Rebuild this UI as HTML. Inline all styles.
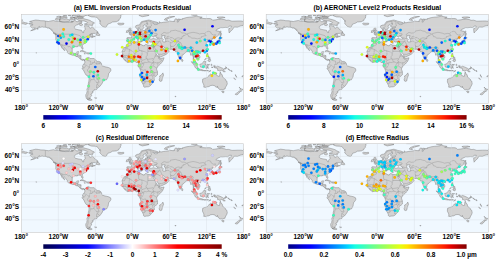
<!DOCTYPE html>
<html><head><meta charset="utf-8"><style>
html,body{margin:0;padding:0;background:#fff;width:500px;height:263px;overflow:hidden}
svg{position:absolute;left:0;top:0;display:block}
text{font-family:"Liberation Sans", sans-serif;fill:#000000}
.tk{font-size:6.5px;font-weight:bold}
circle{stroke:#000;stroke-opacity:.18;stroke-width:.3px}
</style></head><body>
<svg width="500" height="263" viewBox="0 0 500 263"><defs><linearGradient id="g_jet" x1="0" x2="1" y1="0" y2="0"><stop offset="0.000" stop-color="rgb(0,0,128)"/><stop offset="0.042" stop-color="rgb(0,0,173)"/><stop offset="0.083" stop-color="rgb(0,0,223)"/><stop offset="0.125" stop-color="rgb(0,0,255)"/><stop offset="0.167" stop-color="rgb(0,40,255)"/><stop offset="0.208" stop-color="rgb(0,84,255)"/><stop offset="0.250" stop-color="rgb(0,128,255)"/><stop offset="0.292" stop-color="rgb(0,168,255)"/><stop offset="0.333" stop-color="rgb(0,212,255)"/><stop offset="0.375" stop-color="rgb(22,255,225)"/><stop offset="0.417" stop-color="rgb(54,255,193)"/><stop offset="0.458" stop-color="rgb(90,255,157)"/><stop offset="0.500" stop-color="rgb(125,255,122)"/><stop offset="0.542" stop-color="rgb(157,255,90)"/><stop offset="0.583" stop-color="rgb(193,255,54)"/><stop offset="0.625" stop-color="rgb(228,255,19)"/><stop offset="0.667" stop-color="rgb(255,230,0)"/><stop offset="0.708" stop-color="rgb(255,189,0)"/><stop offset="0.750" stop-color="rgb(255,148,0)"/><stop offset="0.792" stop-color="rgb(255,111,0)"/><stop offset="0.833" stop-color="rgb(255,71,0)"/><stop offset="0.875" stop-color="rgb(255,30,0)"/><stop offset="0.917" stop-color="rgb(223,0,0)"/><stop offset="0.958" stop-color="rgb(173,0,0)"/><stop offset="1.000" stop-color="rgb(128,0,0)"/></linearGradient><linearGradient id="g_seismic" x1="0" x2="1" y1="0" y2="0"><stop offset="0.000" stop-color="rgb(0,0,76)"/><stop offset="0.042" stop-color="rgb(0,0,104)"/><stop offset="0.083" stop-color="rgb(0,0,135)"/><stop offset="0.125" stop-color="rgb(0,0,166)"/><stop offset="0.167" stop-color="rgb(0,0,194)"/><stop offset="0.208" stop-color="rgb(0,0,225)"/><stop offset="0.250" stop-color="rgb(1,1,255)"/><stop offset="0.292" stop-color="rgb(41,41,255)"/><stop offset="0.333" stop-color="rgb(85,85,255)"/><stop offset="0.375" stop-color="rgb(129,129,255)"/><stop offset="0.417" stop-color="rgb(169,169,255)"/><stop offset="0.458" stop-color="rgb(213,213,255)"/><stop offset="0.500" stop-color="rgb(255,253,253)"/><stop offset="0.542" stop-color="rgb(255,213,213)"/><stop offset="0.583" stop-color="rgb(255,169,169)"/><stop offset="0.625" stop-color="rgb(255,125,125)"/><stop offset="0.667" stop-color="rgb(255,85,85)"/><stop offset="0.708" stop-color="rgb(255,41,41)"/><stop offset="0.750" stop-color="rgb(254,0,0)"/><stop offset="0.792" stop-color="rgb(234,0,0)"/><stop offset="0.833" stop-color="rgb(211,0,0)"/><stop offset="0.875" stop-color="rgb(190,0,0)"/><stop offset="0.917" stop-color="rgb(170,0,0)"/><stop offset="0.958" stop-color="rgb(147,0,0)"/><stop offset="1.000" stop-color="rgb(128,0,0)"/></linearGradient><clipPath id="clip_a"><rect x="21.3" y="14.5" width="222.3" height="88.8"/></clipPath><clipPath id="clip_b"><rect x="266.2" y="14.5" width="222.3" height="88.8"/></clipPath><clipPath id="clip_c"><rect x="21.3" y="143.7" width="222.3" height="88.8"/></clipPath><clipPath id="clip_d"><rect x="266.2" y="143.7" width="222.3" height="88.8"/></clipPath></defs><g clip-path="url(#clip_a)"><rect x="21.3" y="14.5" width="222.3" height="88.8" fill="#f0f8ff"/><path d="M28.6 23.6 31.2 23.1 32.4 22.8 31.5 22.1 29.5 21.9 29.8 21.5 32.5 20.7 35.8 20.0 38.6 20.3 40.8 20.7 44.1 20.8 45.4 21.1 48.5 21.5 49.7 21.2 53.4 20.5 55.9 21.2 60.2 21.5 63.3 22.2 65.8 22.4 69.5 22.2 71.9 22.1 73.8 21.2 74.1 19.6 75.6 20.8 76.9 21.8 79.3 21.2 81.8 21.2 81.8 22.7 79.3 23.1 79.0 23.1 78.1 24.6 76.4 25.1 74.4 26.6 74.3 27.9 75.6 29.1 78.1 29.7 81.6 30.3 82.7 32.6 83.7 32.6 83.7 31.0 85.2 29.4 84.9 27.2 84.3 25.7 86.8 25.7 89.2 26.6 89.5 27.8 90.8 28.1 92.3 27.0 92.6 27.0 94.2 28.8 95.1 30.0 96.9 31.0 98.1 32.1 97.3 32.6 95.4 33.4 92.9 33.4 91.1 33.8 89.5 34.8 91.4 34.0 92.6 34.2 92.3 35.1 92.6 35.9 94.5 36.3 95.4 36.1 95.4 36.3 93.2 37.0 91.8 37.7 91.7 37.0 92.6 36.5 91.1 36.7 89.2 37.5 88.7 38.1 89.2 38.7 88.3 39.0 86.8 39.5 86.8 40.2 86.1 40.6 86.0 41.1 85.5 41.8 85.8 42.9 84.3 43.7 83.4 44.3 82.4 44.9 82.2 45.9 82.7 47.2 83.1 48.3 82.8 49.3 82.0 48.8 81.4 47.8 81.3 46.8 80.6 46.2 79.3 46.0 77.5 46.0 77.4 46.8 76.3 46.7 74.4 46.5 72.6 47.6 72.2 48.8 72.2 50.0 72.3 51.6 73.1 53.1 74.1 53.7 75.9 53.5 76.6 52.7 76.7 51.9 78.7 51.6 78.4 52.9 77.9 54.1 77.8 55.2 79.3 55.2 81.1 55.7 80.9 57.6 80.8 58.3 81.5 59.2 83.1 59.3 84.6 59.8 84.3 60.7 84.1 60.0 83.4 59.6 82.7 60.6 81.8 60.0 80.1 59.1 79.5 58.3 78.4 57.0 77.5 56.7 75.9 56.4 75.5 56.0 74.4 55.1 72.9 55.3 71.6 54.9 70.1 54.3 68.5 53.6 67.3 52.6 67.4 51.5 66.7 50.5 65.8 49.4 64.8 48.4 64.2 47.5 63.2 46.5 61.7 45.2 61.7 46.2 62.8 47.5 63.9 48.8 64.5 50.0 64.9 50.6 64.3 50.4 63.3 49.5 62.1 48.2 61.4 47.6 61.7 47.2 60.8 45.9 60.1 44.6 59.3 43.7 58.0 43.3 57.2 42.0 56.8 41.3 56.0 40.0 55.7 39.6 55.8 38.6 55.9 35.9 55.4 34.5 56.5 34.7 56.8 34.3 56.2 33.8 55.3 33.3 53.7 32.9 53.1 31.9 52.2 30.7 51.6 30.4 50.0 28.8 48.8 28.1 47.5 27.9 46.1 27.3 44.8 27.2 43.5 27.2 42.0 26.7 41.1 27.2 39.5 27.6 38.7 27.7 39.5 26.4 38.0 27.5 37.4 28.1 35.8 29.1 34.3 29.8 32.1 30.4 30.7 30.7 32.1 30.0 33.7 29.3 35.2 28.3 35.5 27.9 34.3 27.9 32.4 28.1 31.2 27.2 30.3 26.2 30.6 25.5 33.0 25.0 32.7 24.4 30.6 24.3 29.6 24.1ZM84.6 59.8 85.5 59.3 85.8 58.6 86.4 58.3 87.5 57.9 88.2 57.4 88.3 58.1 89.1 57.9 89.2 57.6 90.2 58.6 91.1 58.5 92.9 58.5 94.2 58.5 94.8 59.2 95.4 59.9 96.6 60.8 97.3 61.4 98.5 61.4 99.7 61.7 100.3 62.1 101.0 62.7 101.6 64.1 101.6 65.2 102.5 65.9 105.0 66.8 106.6 67.1 108.4 67.5 108.7 67.6 110.2 68.4 110.7 68.7 110.9 70.3 110.4 71.4 108.7 73.5 108.4 75.1 108.2 76.5 107.4 78.2 106.5 79.8 105.8 79.8 104.4 80.3 103.9 80.5 102.5 81.7 102.5 82.7 101.8 83.8 101.0 84.9 100.0 86.2 99.5 86.7 98.5 87.4 97.7 87.4 96.7 87.0 96.4 87.2 97.1 88.1 97.4 88.4 96.9 89.3 94.0 89.9 94.0 90.9 92.3 91.2 93.1 92.3 92.3 92.5 92.0 93.8 90.8 94.4 91.8 95.6 90.6 96.6 89.8 98.0 90.2 98.5 88.9 98.9 88.0 99.2 86.4 98.5 85.8 96.3 85.8 94.7 86.8 93.2 86.8 92.5 87.1 91.6 86.9 89.3 87.2 88.7 87.9 87.4 88.2 86.2 88.3 84.3 88.4 83.0 88.9 81.1 89.0 79.8 89.1 77.9 89.0 76.9 88.3 76.2 86.1 75.1 85.3 73.8 84.8 72.9 83.9 71.0 83.2 69.7 82.2 69.0 82.2 68.2 82.9 67.4 83.1 66.8 82.5 66.6 82.7 65.6 83.1 64.7 83.8 64.3 84.6 63.0 84.8 62.7 84.7 61.1 84.3 60.7ZM90.1 98.6 90.8 99.2 92.2 99.9 91.4 100.2 90.2 100.4 88.6 100.1 87.1 99.1 88.6 99.4 89.2 98.9ZM152.4 45.4 151.6 45.2 150.9 45.5 149.1 45.3 148.0 45.2 147.3 44.9 146.7 44.6 145.4 44.4 144.8 44.9 144.2 46.0 143.3 45.6 142.0 45.3 141.8 44.7 140.6 44.4 139.6 44.2 139.1 43.9 138.7 43.7 139.1 43.2 139.3 42.9 139.3 41.7 138.7 41.9 138.6 41.6 137.8 41.8 137.3 41.8 135.5 42.0 134.3 41.9 133.1 42.1 132.1 42.6 131.2 43.0 130.6 42.9 129.2 42.5 128.8 42.5 128.3 43.7 127.8 43.9 126.8 44.6 126.4 45.3 126.5 46.0 126.2 46.7 125.0 47.5 124.5 47.5 123.5 48.7 122.6 50.2 122.0 51.8 122.4 52.9 122.6 53.8 122.3 55.0 121.6 55.9 122.1 56.7 122.1 56.9 122.4 57.6 123.2 58.3 123.8 58.9 124.0 59.2 124.3 59.9 125.0 60.6 125.3 60.9 126.6 61.8 127.8 62.5 129.4 61.9 130.0 61.9 131.2 62.2 132.5 61.7 133.2 61.4 134.5 61.2 135.5 61.8 136.2 62.5 136.8 62.5 137.7 62.3 138.3 62.8 138.5 63.7 138.3 64.6 137.8 65.6 138.3 66.8 139.2 67.5 139.7 68.3 140.0 69.0 140.5 70.3 140.6 70.8 141.0 72.2 140.7 73.2 140.0 74.8 139.7 76.2 140.0 77.0 140.8 78.4 141.4 79.8 141.8 82.1 142.0 82.7 142.6 83.4 143.3 84.9 143.7 85.9 143.5 86.2 143.8 86.8 144.8 87.3 146.0 86.9 148.3 86.8 149.7 86.2 151.0 85.1 151.6 84.2 152.5 83.3 152.6 81.7 153.1 81.4 154.4 80.5 154.3 78.9 154.0 77.8 155.2 76.6 156.5 75.7 157.5 74.8 157.5 73.2 157.5 71.9 157.0 70.3 156.7 69.6 156.7 68.4 157.0 67.8 157.3 67.0 158.1 66.3 158.7 65.5 160.4 64.0 161.5 62.7 162.4 61.8 163.2 60.2 163.8 58.6 164.1 57.8 162.7 58.1 160.2 58.6 159.1 57.9 159.2 57.3 158.4 56.4 156.8 55.3 156.2 53.8 155.4 52.8 155.2 51.3 154.4 50.1 153.4 48.4 152.8 47.2 152.6 46.3 153.6 47.6 154.0 46.5 153.6 45.4ZM162.9 72.9 163.6 75.1 163.2 76.0 162.4 78.2 161.8 81.0 160.4 81.4 159.6 81.0 159.2 79.2 159.9 77.9 159.6 76.0 160.9 75.3 162.1 74.1ZM154.0 46.5 154.4 47.8 155.3 49.4 155.9 50.0 156.7 51.6 157.6 53.2 158.7 54.8 159.0 56.0 159.3 57.2 160.2 57.1 162.1 56.4 162.7 56.0 164.6 55.2 165.8 54.5 166.7 54.0 167.5 53.3 168.1 52.7 169.4 51.0 168.6 50.3 167.6 50.0 167.3 48.5 167.0 49.1 166.6 49.2 165.2 49.9 164.3 49.8 164.3 48.8 164.1 48.7 163.8 49.5 163.4 48.6 163.0 48.1 162.1 46.7 162.6 46.2 163.5 46.7 163.8 46.9 164.9 47.9 166.3 48.4 167.2 48.0 167.8 48.8 168.9 49.1 169.9 49.2 170.9 49.3 172.3 49.3 173.8 49.5 174.1 50.0 174.7 50.3 175.1 51.0 175.7 51.9 176.3 52.1 177.3 51.3 177.4 51.9 177.4 53.2 178.0 55.4 178.6 57.1 179.5 58.9 180.3 60.1 180.7 59.7 181.4 58.7 182.0 57.0 182.0 55.4 183.3 54.7 183.9 54.0 184.9 52.9 185.9 52.4 186.2 51.6 187.1 51.5 188.0 51.3 189.1 51.0 189.4 52.1 189.8 52.5 190.7 53.8 190.6 55.1 191.4 55.2 191.9 54.7 192.7 54.8 193.0 56.4 193.3 57.6 193.3 58.9 193.2 59.9 193.2 60.2 193.9 61.1 194.4 61.8 194.8 63.0 195.4 63.7 196.4 64.4 196.9 64.4 196.4 62.7 196.3 62.1 195.4 61.3 194.6 60.7 194.1 59.3 193.7 58.6 194.1 57.3 194.5 56.7 194.8 57.2 195.7 57.5 196.1 58.3 197.0 58.6 197.3 59.8 198.2 59.2 198.8 58.6 199.8 57.9 199.9 57.0 199.9 56.5 199.3 55.0 198.5 54.5 197.9 53.4 197.7 53.2 198.3 52.0 199.1 51.6 199.8 51.6 200.6 52.4 201.0 51.7 202.2 51.3 203.0 51.1 204.4 50.7 205.3 49.7 206.2 48.9 206.9 48.1 207.5 47.2 207.8 46.2 207.7 45.6 207.2 44.9 206.9 44.0 206.1 43.2 206.6 42.5 208.1 41.6 207.2 41.3 205.9 41.6 205.3 40.8 205.1 40.5 206.2 39.9 207.2 39.4 208.0 39.6 207.4 40.6 208.7 40.0 209.2 39.9 209.6 40.2 209.8 41.3 210.6 41.4 210.4 42.4 210.6 43.4 211.2 43.3 212.1 43.0 212.4 42.4 212.4 41.5 211.8 40.8 211.2 40.3 211.8 39.9 212.5 39.2 212.7 38.4 214.0 37.8 214.6 38.1 216.1 37.3 217.7 35.7 219.2 34.5 219.2 33.5 219.8 32.1 219.2 31.3 217.4 31.0 215.8 30.5 217.0 29.4 218.9 28.5 220.8 27.6 222.6 27.7 225.6 27.4 227.5 27.6 228.2 27.2 229.4 26.2 231.3 26.0 231.6 26.9 230.0 28.5 228.8 28.6 228.8 30.4 229.2 33.0 230.3 31.6 231.3 30.7 232.5 29.6 233.2 28.5 233.7 27.3 235.0 27.0 237.4 27.2 238.7 26.6 240.2 26.0 242.1 25.6 243.0 25.7 243.6 24.0 243.6 21.5 241.1 21.0 237.6 21.0 235.0 21.1 231.9 21.2 228.8 20.2 226.3 20.3 224.5 19.6 221.4 19.2 218.9 19.3 215.8 19.8 212.7 20.2 211.8 19.3 210.3 18.6 209.0 18.5 205.3 18.6 202.2 18.4 201.0 18.3 199.8 18.1 202.2 17.2 197.3 16.4 196.9 16.0 194.2 16.7 191.7 17.0 189.3 17.2 186.8 17.5 185.6 17.8 183.1 18.6 182.3 18.6 182.5 19.3 180.6 19.4 179.4 20.1 180.3 19.4 179.1 19.1 177.8 19.0 178.5 21.8 177.2 22.1 177.5 20.5 177.2 19.3 175.6 18.7 174.4 20.2 174.4 21.8 174.1 21.5 172.0 21.4 169.8 21.0 168.3 21.7 165.8 22.0 163.3 22.3 160.9 22.8 159.3 21.7 159.6 23.2 158.4 23.1 157.5 24.3 155.9 24.6 155.0 24.5 153.9 24.1 152.5 22.7 154.7 23.3 157.8 23.3 157.9 22.6 155.9 21.9 152.8 21.2 149.7 20.2 148.4 20.1 145.4 20.7 144.1 21.0 142.0 21.5 141.1 22.0 140.8 23.1 140.2 23.7 138.6 25.0 137.7 25.1 135.8 25.8 135.5 26.9 135.9 27.9 136.8 28.5 137.4 28.4 138.3 27.8 139.1 27.5 139.2 27.8 139.4 28.3 139.8 28.6 140.2 29.4 140.5 30.0 141.3 30.0 142.3 29.6 142.6 29.3 142.8 28.6 144.1 27.6 143.3 26.7 143.1 26.0 143.2 25.7 144.2 25.0 145.0 24.8 146.2 23.6 147.4 23.5 148.1 24.0 146.7 24.8 145.8 25.2 145.7 26.2 146.2 26.9 147.9 27.1 149.4 26.9 151.1 27.2 149.7 27.6 147.7 27.6 147.0 27.7 147.0 28.3 147.6 28.2 147.3 29.1 146.8 29.1 146.4 28.6 145.7 28.8 145.4 29.4 145.5 29.9 145.1 30.4 144.0 30.7 143.6 30.5 142.3 30.8 141.2 31.1 140.5 30.7 139.9 30.9 139.2 31.0 138.7 30.7 138.8 30.0 138.9 28.6 137.7 29.0 137.5 30.0 137.8 30.8 137.7 31.2 136.8 31.3 135.8 31.4 135.4 31.8 134.9 32.3 134.5 32.6 134.0 32.8 133.6 32.9 133.4 33.3 132.6 33.7 131.6 33.8 131.3 33.7 131.5 34.4 130.6 34.3 129.5 34.5 129.8 34.9 130.9 35.2 131.7 35.9 131.8 36.9 131.5 37.7 130.6 37.7 130.1 37.7 128.9 37.6 127.5 37.5 127.3 37.7 126.7 38.0 127.0 38.6 127.1 39.1 126.9 39.9 126.6 40.6 127.0 40.8 126.9 41.8 127.6 41.8 128.6 42.1 129.0 42.4 129.7 42.0 131.1 42.0 131.8 41.4 132.1 40.9 132.6 40.7 132.3 40.2 133.0 39.4 133.8 39.0 134.5 38.4 134.3 38.0 134.9 37.7 135.8 37.8 136.2 37.9 137.0 37.5 137.9 37.1 138.5 37.3 138.8 37.7 139.2 38.3 140.0 38.8 141.2 39.4 141.7 39.7 142.1 40.2 142.1 41.1 142.6 40.8 143.0 40.5 142.6 40.0 143.1 39.6 143.9 39.8 143.6 39.5 142.9 39.2 142.3 38.7 141.1 38.3 140.8 37.6 140.2 37.3 140.0 36.4 140.9 36.3 141.0 36.8 141.7 37.0 142.6 37.7 143.6 38.2 144.2 38.6 144.5 38.9 144.4 39.6 144.8 40.1 145.4 40.9 145.8 41.8 146.3 42.2 146.7 42.1 146.8 41.5 147.1 41.2 147.3 41.0 146.7 40.5 146.6 40.3 146.6 39.5 147.1 39.9 147.6 39.3 148.5 39.4 148.6 39.8 148.8 39.9 148.6 40.2 149.1 40.9 148.7 40.9 149.2 41.5 149.4 41.8 149.9 41.9 150.4 42.0 151.3 42.2 151.4 41.8 152.2 42.1 152.7 42.4 153.4 42.2 153.8 41.9 154.7 42.0 154.6 42.5 154.6 42.7 154.4 43.7 154.1 44.4 153.9 44.9 153.6 45.4ZM21.3 24.0 22.2 23.7 23.8 23.9 25.5 24.4 25.9 24.4 26.9 23.7 27.7 23.3 26.2 22.8 25.0 22.7 23.8 22.2 22.2 21.8 21.3 21.5ZM105.3 27.3 106.5 26.6 107.1 25.3 107.8 24.1 109.3 23.6 110.8 23.1 112.4 22.0 116.4 21.7 118.2 20.8 118.9 20.5 118.9 19.9 119.5 18.9 120.7 18.0 120.4 17.0 121.0 16.1 120.7 15.1 122.6 14.2 125.0 13.5 120.1 12.9 113.9 12.3 104.7 12.6 96.6 13.1 94.2 13.4 92.3 13.9 90.5 14.3 88.0 15.3 89.2 16.1 91.7 16.9 94.8 17.0 96.9 17.5 97.9 18.3 98.5 19.3 99.1 20.1 100.5 20.7 99.4 21.2 100.6 21.8 99.7 22.7 99.9 23.4 100.6 24.5 101.6 25.4 102.5 26.4 104.2 27.0ZM118.6 24.6 117.6 23.7 118.6 23.1 121.3 23.3 123.5 23.1 124.1 23.9 123.2 24.5 120.8 25.0 119.2 24.8ZM77.8 18.6 80.0 18.6 83.1 18.5 85.2 19.1 88.0 19.8 90.2 20.5 91.4 21.4 94.2 22.7 94.5 23.1 93.2 24.0 92.0 24.1 92.6 25.1 92.3 25.7 91.3 25.8 90.2 25.1 88.2 25.2 87.7 24.8 86.1 24.4 84.6 24.3 84.3 23.9 86.8 23.5 87.7 22.6 86.4 21.9 84.9 21.2 83.1 20.8 81.8 20.8 80.3 20.8 79.3 20.5 78.1 20.2 77.2 19.3ZM73.2 17.4 75.6 16.7 78.1 16.7 81.8 16.7 83.4 17.4 81.8 17.9 78.1 18.0 75.6 17.8ZM77.2 16.8 80.0 16.8 83.1 16.8 84.3 16.4 84.9 15.6 87.4 15.3 88.0 14.8 90.5 14.3 92.3 13.9 94.2 13.2 92.3 12.6 83.1 12.6 76.9 13.5 79.3 14.2 79.3 14.8 80.0 15.5 78.1 15.9 77.2 16.4ZM73.5 15.5 76.3 15.6 78.4 15.1 79.0 14.4 76.9 13.7 74.4 13.9 73.2 14.5ZM68.2 15.6 70.7 15.6 71.0 15.3 69.5 15.1 68.2 15.3ZM71.9 15.9 73.2 15.8 72.9 15.3 71.9 15.5ZM63.3 16.1 67.0 16.0 65.8 15.4 63.3 15.6ZM72.9 17.8 74.7 17.8 74.4 17.4 73.2 17.4ZM70.7 21.8 73.2 21.9 72.9 21.0 71.3 21.2ZM59.0 19.9 59.9 19.1 62.1 18.7 64.5 19.1 66.7 18.8 67.9 19.3 69.5 20.2 70.1 20.8 68.8 21.6 67.0 21.5 64.5 21.8 62.7 21.8 60.2 21.5 59.0 20.8 60.2 20.5ZM55.3 19.6 55.9 18.3 58.4 18.1 59.9 18.4 60.8 18.9 60.2 19.3 58.4 19.8 56.8 20.1ZM60.2 17.9 59.9 16.9 62.7 16.5 65.8 17.0 67.3 17.4 66.7 17.8 64.5 17.9ZM56.5 16.9 59.0 16.2 61.1 16.5 59.6 17.3ZM70.1 17.2 72.6 16.8 72.6 17.7 70.7 17.8ZM69.5 19.3 70.7 18.4 72.6 18.6 72.9 19.3 71.9 19.9 70.1 19.7ZM73.5 19.4 74.1 18.3 76.3 18.3 76.9 19.1 75.0 19.3ZM79.0 24.6 79.7 23.5 81.2 23.3 82.4 24.4 82.9 24.8 81.2 25.8 79.3 25.0ZM56.3 34.5 55.4 34.4 54.3 33.8 53.2 33.0 53.7 33.0 55.1 33.4 55.9 34.0ZM99.9 35.1 99.4 35.7 98.0 35.4 95.8 35.1 96.6 34.0 97.0 33.1 98.1 32.5 98.2 33.6 99.4 34.0 99.8 34.8ZM80.0 51.4 81.8 50.5 83.1 50.7 84.8 51.5 86.6 52.4 84.5 52.6 83.9 51.8 82.1 51.2 80.9 51.2ZM86.5 53.6 87.5 52.6 89.3 52.8 90.2 53.4 88.5 54.0 86.5 53.6ZM84.1 53.6 85.4 53.7 85.2 54.0 84.3 53.8ZM91.0 53.5 91.9 53.6 91.9 53.8 91.0 53.8ZM37.0 29.3 38.4 28.8 37.8 28.3 37.0 28.8ZM128.9 33.5 130.3 33.3 131.8 33.1 133.3 32.8 133.5 31.9 132.6 31.4 132.3 30.9 131.5 30.4 131.2 29.8 130.6 29.7 130.8 29.5 131.2 29.0 131.3 28.7 130.5 28.1 129.4 28.1 128.9 28.8 129.0 29.5 128.7 30.2 129.3 30.2 129.5 30.5 130.5 30.4 130.3 30.7 130.6 31.1 130.6 31.4 129.6 31.4 129.9 31.9 129.2 32.4 130.5 32.6 129.7 32.9ZM128.7 32.1 128.6 31.4 129.1 30.7 128.6 30.2 127.8 30.2 127.2 30.6 126.3 30.9 126.6 31.4 126.1 32.3 126.6 32.5 127.5 32.4 128.5 32.1ZM140.1 41.3 141.8 42.0 142.1 40.9 140.8 41.0ZM137.6 40.5 138.4 40.4 138.5 39.1 137.5 39.3ZM137.8 39.0 138.3 39.0 138.3 38.0 137.8 38.4ZM147.0 42.9 148.7 42.9 147.7 43.0ZM152.4 43.2 153.8 42.6 153.4 43.0ZM139.2 15.5 142.3 16.7 146.0 16.1 149.1 15.3 146.0 14.4 142.9 14.5 139.2 14.8ZM143.6 14.5 149.1 14.6 149.1 14.2 144.8 14.1ZM161.5 14.4 166.4 14.5 170.7 14.2 168.3 13.5 163.3 13.9ZM164.3 19.9 167.6 20.5 166.7 19.3 169.5 18.0 172.0 17.2 174.7 16.5 172.6 16.5 169.5 16.8 166.4 18.0 165.2 18.6ZM191.1 14.8 194.2 15.6 197.3 15.1 196.1 14.2 192.3 13.9ZM217.0 17.4 219.5 18.6 223.2 17.8 225.1 17.5 222.6 16.9 218.9 17.0ZM21.3 19.9 22.5 20.0 22.8 20.2 21.3 20.3ZM243.6 19.9 243.0 20.1 243.6 20.3ZM220.1 36.1 221.1 35.7 220.9 34.0 221.6 34.2 220.8 32.6 220.9 31.5 220.5 30.8 220.0 31.4 220.3 32.9 220.1 34.8ZM213.3 43.7 213.8 43.2 214.6 42.7 216.0 42.6 216.4 42.1 217.0 41.8 217.2 41.5 218.0 41.5 218.3 41.2 218.9 40.2 218.9 39.4 219.2 39.0 219.8 39.0 220.1 40.2 219.5 40.9 219.3 41.9 219.5 42.6 218.8 42.9 218.2 43.3 217.0 43.3 216.3 44.0 215.9 43.5 214.6 43.5 213.3 43.7ZM212.7 43.8 212.8 44.6 213.0 45.5 213.5 45.3 213.9 44.3 213.3 43.7ZM214.3 44.1 214.6 44.5 215.6 43.8 214.9 43.5ZM218.9 38.9 219.6 38.7 220.9 38.6 222.3 37.8 221.5 37.3 220.1 36.4 219.9 37.7 219.2 37.8 218.9 38.3ZM206.6 50.7 207.0 51.4 207.7 49.6 207.5 49.2 206.7 50.0ZM199.5 53.1 200.2 53.7 200.9 52.9 200.7 52.5 199.9 52.6ZM206.6 55.1 206.9 53.5 207.9 53.5 207.8 54.8 207.5 56.2 209.0 57.0 208.7 56.5 206.9 56.2ZM207.8 60.8 209.0 61.4 209.9 61.7 210.6 60.8 210.4 59.2 209.3 59.7 208.4 59.9ZM207.8 58.6 208.7 59.2 209.9 58.9 209.9 57.3 209.0 57.3 208.1 57.8ZM204.8 60.0 206.4 58.1 206.1 58.1 204.7 59.8ZM199.8 64.2 200.1 64.0 201.0 64.3 202.2 63.2 203.5 62.1 204.1 60.9 205.1 61.2 206.1 61.9 205.3 62.5 205.2 64.6 205.9 64.7 205.0 65.2 204.4 66.2 204.3 67.5 203.2 67.8 201.0 67.1 200.5 67.1 200.1 65.6ZM191.3 61.7 192.7 61.9 194.2 63.7 196.4 65.9 197.0 66.5 197.9 67.1 197.8 68.9 197.0 68.9 195.4 67.8 194.5 65.9 193.5 64.2 192.0 62.8ZM197.4 69.5 197.9 69.0 199.4 69.4 200.7 69.4 201.9 69.6 203.2 70.2 203.1 70.8 200.4 70.4 198.2 69.9ZM203.5 70.4 204.1 70.5 205.9 70.5 208.4 70.5 208.4 70.8 205.9 70.8 204.1 70.9 203.5 70.8ZM208.7 71.8 209.6 71.0 211.0 70.6 209.9 71.3 209.0 71.8ZM206.2 68.7 206.9 68.7 206.7 67.1 207.2 67.0 207.8 68.1 208.5 68.3 207.5 66.4 208.6 65.8 207.5 65.9 206.7 65.0 208.4 64.9 209.6 64.3 209.3 64.7 207.2 64.4 206.4 65.1 205.8 67.0ZM211.2 64.0 211.9 64.4 211.5 65.1 212.0 65.8 211.4 65.6 211.2 64.6ZM211.5 67.1 213.2 67.3 213.0 67.5 211.6 67.5ZM213.3 66.1 214.3 65.5 215.3 65.8 215.3 66.8 215.8 67.3 216.7 66.7 217.4 66.2 219.5 66.9 222.4 68.2 223.5 69.0 223.8 70.3 225.3 71.8 223.2 71.7 222.6 70.4 221.4 70.1 220.8 71.0 219.5 71.0 218.3 70.4 217.7 70.6 217.5 68.5 215.8 68.0 214.6 67.8 214.0 67.0 214.9 66.8ZM224.0 68.7 225.1 68.4 226.3 67.9 226.0 68.7 224.5 69.2ZM181.8 61.3 181.7 60.2 181.9 59.0 182.6 59.9 183.0 60.8 182.7 61.3 182.2 61.5ZM202.7 79.1 203.2 78.9 204.5 78.3 205.7 78.1 207.2 77.6 207.9 76.7 208.7 76.0 209.6 74.8 210.6 74.1 211.5 74.7 212.4 74.8 212.8 73.4 213.2 73.1 214.3 72.5 215.8 73.0 216.9 73.0 216.3 74.4 216.1 74.8 217.0 75.4 218.6 76.3 219.4 76.3 219.8 74.8 219.9 73.2 220.4 72.0 221.1 74.1 221.7 74.3 222.2 74.8 222.5 76.0 222.8 77.3 223.1 77.4 224.5 78.6 225.6 79.5 225.7 80.5 226.9 81.2 227.1 82.7 227.3 83.4 226.9 84.9 226.2 86.1 225.9 86.7 225.2 87.9 225.1 89.0 223.5 89.3 222.9 90.0 221.9 89.3 221.1 89.9 219.8 89.6 218.9 89.0 218.7 88.4 218.0 87.8 218.0 87.4 217.4 87.6 217.5 86.2 216.4 87.3 216.1 87.3 215.4 86.2 214.0 85.5 212.1 85.3 210.3 85.7 209.0 86.6 207.8 86.7 206.2 87.1 205.3 87.4 203.5 87.0 203.9 86.5 203.9 85.5 203.5 84.0 203.2 83.5 202.5 82.1 202.5 80.8ZM221.7 91.1 224.0 91.2 223.8 92.6 222.9 92.9 222.1 92.0ZM239.1 87.1 240.2 88.0 241.1 89.0 242.7 89.2 242.3 90.1 241.7 90.4 241.3 91.4 240.4 91.4 240.6 90.8 239.8 90.2 240.3 89.3 240.1 88.4ZM239.1 90.9 240.1 91.7 239.5 92.5 239.2 93.0 238.2 93.5 237.8 94.4 236.8 94.8 235.3 94.4 235.4 93.9 236.5 93.2 237.7 92.4 238.4 91.7ZM36.1 53.2 36.7 52.9 36.2 52.4ZM94.6 97.8 96.6 97.8 96.3 98.4 95.1 98.2ZM174.9 96.4 176.0 96.3 175.7 96.8 175.1 96.7ZM225.4 66.9 226.4 67.3 226.9 68.2 226.6 68.2 226.0 67.4ZM227.9 68.5 228.4 68.8 228.8 69.6 228.3 69.6 228.0 69.0ZM229.1 69.7 229.9 70.1 230.6 70.5 230.3 70.6 229.4 70.2ZM231.0 71.1 231.7 71.3 231.6 71.5 231.1 71.3ZM231.6 70.5 232.1 70.9 232.2 71.3 231.8 71.0ZM235.3 74.6 235.7 74.9 235.8 75.6 236.4 76.4 236.7 77.3 236.6 77.4 236.1 76.5 235.4 75.3ZM233.7 78.0 234.3 78.2 235.3 78.9 235.6 79.4 235.3 79.5 234.5 78.9 233.8 78.3ZM241.9 76.3 242.7 76.3 242.6 76.8 241.9 76.7ZM242.7 75.7 243.6 75.5 243.5 75.9 242.9 76.0Z" fill="#d3d3d3" stroke="#777777" stroke-width="0.45" stroke-linejoin="round"/><path d="M150.4 39.1 149.7 38.9 149.4 38.3 149.7 37.8 150.2 37.2 150.8 36.6 151.4 35.7 151.9 35.7 152.5 36.4 153.1 37.0 153.8 37.0 154.4 36.6 154.2 36.2 154.4 35.7 156.2 35.3 155.9 36.1 155.6 36.5 155.8 36.9 157.0 37.6 158.1 38.9 157.0 39.2 154.9 39.0 154.1 38.6 153.1 38.6 151.6 39.1ZM161.8 36.3 161.8 37.3 161.8 38.0 162.3 38.6 163.0 39.5 163.5 39.6 162.7 40.5 162.6 40.8 162.7 41.5 163.9 42.0 165.8 41.8 165.7 40.8 165.4 40.2 165.5 39.2 164.9 38.8 165.1 38.0 163.9 37.0 165.2 36.4 165.2 35.6 163.9 35.4 162.7 35.7Z" fill="#f0f8ff" stroke="#777777" stroke-width="0.45" stroke-linejoin="round"/><path d="M56.3 34.2 73.7 34.2 73.7 33.9 77.1 34.8 80.1 35.7 81.5 38.1 83.7 38.1 85.2 37.3 86.3 36.7 88.3 36.7 88.9 36.3 89.7 35.2 90.5 35.2 90.6 36.3 91.1 36.7M45.4 21.1 45.4 27.0 47.5 27.8 49.1 27.5 50.3 28.5 52.2 29.7 52.2 30.5M60.1 44.6 61.6 44.5 63.9 45.4 65.6 45.4 66.7 45.1 67.9 46.5 68.8 46.8 69.8 46.3 71.0 47.8 72.4 48.8M75.5 56.0 75.6 55.1 76.3 54.3 77.4 54.0 77.9 53.5M77.4 54.0 77.4 55.2 78.0 55.3M76.8 56.6 77.2 56.1 77.8 56.2 78.2 56.8M78.5 57.0 80.0 56.4 81.1 55.7M79.5 58.2 80.8 58.3M81.3 60.1 81.4 59.2M87.5 52.6 88.2 53.6M88.1 57.6 87.7 58.2 87.1 59.4 87.7 60.5 89.2 60.8 90.6 61.2 90.8 62.8 90.9 64.0 91.1 64.5M95.4 59.9 94.5 61.5 95.0 61.9 94.2 62.6 92.4 62.6 92.8 63.7 91.1 64.5M97.1 61.5 96.6 64.3M99.1 61.6 99.0 63.8M95.0 61.9 95.6 63.8 97.9 64.0 99.0 63.8 100.0 63.8 100.6 62.6M91.1 64.5 89.6 64.5 89.3 67.9M89.3 67.9 87.1 65.4 86.0 65.3M86.0 65.3 83.8 64.4M86.0 65.3 84.0 68.4 82.9 67.4M89.3 67.9 87.4 69.9 87.7 71.3 88.9 72.2 89.5 72.2M89.5 72.2 90.0 73.4 89.6 75.1 89.5 76.3 89.5 76.7M89.5 76.7 89.0 76.9M89.5 72.2 92.1 71.5 94.0 73.8 95.2 74.8 96.4 75.6 96.8 76.7 96.5 77.9M89.5 76.7 90.3 78.9 91.0 79.7M91.0 79.7 92.7 79.6 93.7 79.2M93.7 79.2 94.3 77.7 96.0 77.5 96.5 77.9M96.5 77.9 96.8 79.3 98.0 79.4 98.7 81.5M93.7 79.2 95.4 80.5 96.3 82.5 97.9 82.6 98.7 81.5M98.7 81.5 99.2 82.4 98.0 83.3 96.9 84.4M96.9 84.4 98.1 84.8 99.5 86.6M96.9 84.4 96.4 86.6M91.0 79.7 90.2 81.1 89.5 83.3 89.0 85.2 89.2 86.5 88.8 88.4 88.5 90.0 88.1 91.9 88.2 93.5 87.7 95.4 87.2 96.6 87.7 97.6 89.2 98.2 90.2 98.5M131.3 43.0 131.7 44.6 130.3 45.3 127.1 47.0 127.1 47.7M127.1 47.7 124.3 47.7M127.1 47.7 127.1 48.8 125.0 48.8 125.0 50.3 124.4 51.7 122.0 51.7M127.1 48.8 129.5 49.4M129.5 49.4 128.9 55.4 125.3 55.5 124.9 55.9 123.5 54.7 122.3 55.0M129.5 49.4 133.2 52.0 134.4 53.1 135.0 52.9M135.0 52.9 139.9 50.3M139.9 50.3 138.6 49.4 138.6 46.2 138.3 46.0M137.6 41.8 137.6 43.3 137.1 43.8 138.0 44.9 138.3 46.0 139.6 44.2M139.9 50.3 141.1 50.7 141.7 50.7 147.3 52.9M147.3 52.9 147.3 52.6 147.9 52.6 147.9 51.3M147.9 51.3 147.9 46.2 148.0 45.2M147.9 51.3 155.2 51.3M135.0 52.9 135.0 54.5 134.7 55.3 133.1 55.7 132.6 55.8 132.1 55.7 131.2 56.2 130.6 56.6 129.7 57.6 129.1 58.6M141.7 50.7 142.0 52.2 142.0 54.6 140.8 56.6M140.8 56.6 139.9 56.8 138.4 57.1 136.8 57.0 135.0 56.7 134.7 57.8M134.7 57.8 134.1 59.5 134.1 61.2M147.3 52.9 147.3 55.3 146.3 56.4 146.0 57.2 146.6 58.3M146.6 58.3 144.8 59.5 142.3 60.3 142.0 60.5 141.4 58.9 141.7 58.3 141.4 57.1 140.8 56.6M141.4 57.1 141.5 57.6 140.6 58.9 139.9 60.5 139.2 61.1 138.4 61.9 137.8 62.3M146.6 58.3 147.0 59.2 148.8 59.2 150.4 59.0 153.0 58.6 153.6 59.2M156.2 53.8 155.0 56.2 155.0 57.0 154.1 58.1 153.6 59.2M155.0 56.2 156.2 56.0 157.2 56.0 158.7 57.3M158.7 57.3 158.4 58.3 159.0 58.3 159.6 59.5 162.1 60.2 160.2 62.1 158.4 62.7 157.8 62.7M157.8 62.7 157.8 63.5 157.8 66.3M157.8 62.7 156.8 63.0 154.6 62.3 153.8 62.1 152.8 60.3 153.6 59.2M153.8 62.1 151.6 62.9 150.7 62.4 149.4 62.1 147.9 62.1 146.3 62.6 144.5 62.1 143.9 63.0M149.4 62.1 147.9 60.5 147.0 59.2M143.9 63.0 143.3 65.9 142.3 66.8 141.8 68.0 140.2 68.4M138.5 63.8 139.4 63.8 140.7 63.8 142.3 64.0 142.5 63.0 141.7 62.4 141.4 61.1 142.0 60.5M143.9 63.0 142.5 63.0M140.7 63.8 141.4 65.9 141.1 66.8 139.6 67.5M140.0 69.0 142.6 70.0 143.3 70.3 144.4 69.9 145.9 69.9 146.0 71.6 147.3 72.2 147.3 73.5M147.3 73.5 146.0 73.5 146.0 75.5 147.0 76.5M139.7 76.2 140.8 76.3 143.9 76.3 145.4 76.7 147.0 76.5M147.3 72.2 148.5 72.7 149.7 73.2 150.7 73.0 150.0 71.3 151.3 70.5M153.8 62.1 153.4 62.5 151.0 64.6 150.7 66.1 150.4 67.0 150.5 68.1 150.7 69.4 151.3 70.5M153.4 62.5 154.1 64.1 153.4 65.1 153.4 65.9M153.4 65.9 155.6 67.5 156.7 68.2M150.7 66.1 153.4 65.9M151.3 70.5 152.8 71.2 154.0 72.6 155.6 72.6 157.4 71.9M152.8 71.2 153.1 72.9 152.5 74.1 151.1 75.1M153.1 74.4 154.2 76.1 154.1 74.1 154.0 72.6M147.0 76.5 148.1 76.5 149.7 75.7 151.1 75.1M151.1 75.1 152.8 75.8 152.6 77.6 152.5 78.6 151.8 79.5M148.1 76.5 148.5 77.3 149.4 78.2 150.4 79.3 151.8 79.5M145.4 76.7 145.4 79.2 144.8 79.2 144.8 81.0M144.8 81.0 145.1 82.2 146.5 81.4 148.2 81.5 149.0 80.8 150.4 79.3M144.8 81.0 144.8 83.3 142.6 83.4M151.8 79.5 152.2 80.8 152.2 81.7 152.8 82.3M149.1 84.0 150.0 83.4 150.6 83.9 149.9 84.7 149.1 84.0M124.9 55.9 125.4 57.4M122.1 57.4 124.0 57.3 125.4 57.4 127.3 58.1 127.4 58.9 127.6 59.9M124.2 59.0 125.4 59.9 126.1 59.9 125.3 60.9M127.3 58.1 129.1 58.6 130.6 58.4 130.7 58.3 132.5 58.3M130.7 58.3 130.8 59.2 130.5 62.0M127.6 59.9 127.2 60.5 127.8 62.5M132.5 58.3 132.8 60.2 133.2 61.4M133.0 58.3 133.4 61.3M132.6 55.8 133.7 57.1 133.9 57.7 134.7 57.8M122.1 56.6 123.9 56.7 123.2 56.9 122.1 56.9M154.0 46.5 153.6 45.4M154.1 46.6 155.3 46.3 155.9 45.3 156.7 44.8M158.6 41.7 158.0 43.4 156.4 44.1M156.7 44.8 158.4 45.6 160.1 46.7 161.2 46.8 161.9 47.2M162.4 46.2 161.9 45.3 161.5 44.3 160.9 43.0 160.5 42.1 160.1 41.6M154.7 42.4 155.1 41.9 157.2 41.9 158.6 41.7 160.1 41.6M160.1 41.6 159.8 40.8 159.9 40.3 159.2 39.1 158.1 38.9M154.6 44.4 155.0 44.8 156.4 44.1 155.0 43.3 154.6 43.0M157.1 37.7 158.4 37.8 159.6 38.2 161.2 38.7 162.3 38.7M158.9 54.8 159.9 54.2 161.5 54.5 164.6 53.2 166.4 52.6 166.8 51.0M164.6 53.2 165.2 54.7M164.3 49.8 164.9 50.7 166.8 51.0 167.0 49.7 167.3 48.8M170.2 42.7 170.1 43.5 170.0 45.3 170.5 45.3M170.5 45.3 171.2 46.5 170.4 47.1 171.2 48.1 170.5 49.3M165.7 41.6 167.8 41.1 168.9 41.5 170.0 42.1 170.2 42.7M170.2 42.7 171.3 42.9 172.3 42.2 173.5 41.5 174.4 41.8 175.7 41.5 176.6 41.2 178.7 41.6M170.1 46.3 172.0 46.5 173.5 46.3 175.2 45.0 176.2 43.7 176.4 42.4 178.5 41.8M174.6 50.2 175.7 49.8 176.3 49.1 175.7 47.6 177.2 46.2 178.5 45.5 179.0 44.7 178.5 43.4 180.5 42.7M178.7 41.6 180.5 42.7 181.2 43.7 181.4 44.6 181.9 45.8 182.8 46.1 184.3 46.8 186.8 47.5 187.4 47.5 189.3 47.6 190.5 46.8 192.3 47.3M181.9 47.0 184.3 47.9 186.9 48.4 186.8 47.5M181.9 47.0 182.0 46.0M186.9 48.4 187.4 49.1 189.3 49.3 189.6 50.3 189.6 51.7M187.0 49.5 187.3 51.1M192.3 47.3 191.1 48.4 190.8 49.7 190.2 50.3 190.0 51.2 189.6 51.7M192.3 47.3 193.3 47.8 192.8 49.4 193.6 51.2 194.9 51.5M194.9 51.5 195.6 51.0 197.5 50.5 198.3 50.8 199.1 51.5M194.3 52.3 193.3 52.7 192.7 53.5 193.5 54.9 193.1 55.6 193.7 57.2 193.3 58.9M194.3 52.3 194.9 52.9 194.9 54.0 197.0 54.2 197.7 55.2 197.7 56.2M197.7 56.2 196.1 56.2 195.8 57.5M195.6 51.0 196.7 52.0 197.4 53.2 198.2 54.3 198.9 55.4 198.8 56.0M197.7 56.2 198.8 56.0 198.1 57.8 197.0 58.6M194.4 61.1 195.4 61.3M194.9 51.5 194.3 52.3M186.7 34.0 188.1 35.0 188.6 36.6 190.2 36.8 191.9 38.2 194.7 38.2 197.3 38.9 200.6 38.1 201.5 37.5 201.4 36.6 202.8 36.4 204.5 35.8 206.5 35.6 205.3 34.9 204.5 33.7M186.7 34.0 189.3 33.1 193.0 32.3 195.4 32.7 197.9 33.3 199.4 34.0 202.8 33.4 204.5 33.7M204.5 33.7 206.6 31.9 208.4 31.3 210.6 31.9 211.2 33.7 213.3 35.0 215.6 34.7 214.6 36.6 213.5 38.0 213.1 38.3M213.1 38.3 212.1 38.6 211.5 38.9 210.3 39.3 209.2 39.9M210.3 41.3 210.9 40.9 211.7 40.8M186.4 34.0 185.2 35.4 183.4 35.4 183.4 36.4 181.9 36.7 182.0 38.5M182.0 38.5 179.4 39.6 178.1 40.2 178.7 41.6M186.4 34.0 184.9 33.2 183.7 32.9 181.9 33.0 180.0 31.4 177.8 31.0 175.7 30.2 172.6 30.6 170.4 31.0 170.1 32.3 168.6 32.9 166.4 33.1 164.6 32.5 163.3 32.7 162.4 33.8 161.2 34.4 161.5 35.4 162.7 35.8M165.2 38.6 167.0 39.0 167.0 36.7 168.6 36.4 170.1 37.1 170.7 37.7 172.3 37.6 173.2 38.6 174.7 39.4 176.3 38.4 178.1 37.8 182.0 38.5M167.0 39.0 168.7 38.2 169.5 38.6 170.4 39.1 171.0 40.2 172.3 40.9 173.5 41.5M174.7 39.4 176.0 39.7 177.5 40.3 178.1 40.2M174.3 41.6 174.7 40.4 176.0 39.7M156.0 35.4 157.2 34.8 157.2 33.8 155.9 33.5 154.4 33.3 153.4 32.4 152.2 32.2 151.9 31.3 152.6 31.1 151.6 29.7 149.9 29.6 149.6 28.8 149.4 28.4 149.7 27.6M149.7 26.9 150.7 26.2 151.9 25.3 151.0 24.6 151.0 22.4 150.4 21.5 151.6 21.0M150.4 21.5 148.5 21.0 147.6 21.7 145.4 21.4M145.4 21.4 147.1 22.1 147.4 23.5M145.4 21.4 143.6 21.8 142.3 22.4 141.4 23.4 140.8 24.3 140.0 25.3 140.2 26.6 139.6 27.6 139.4 27.9M147.0 32.6 149.1 32.5 151.3 32.6 152.2 32.2M147.0 32.6 147.0 31.6 147.0 31.1M147.0 32.6 147.3 33.3 146.4 34.1M146.4 34.1 144.2 33.9 142.6 33.3 141.7 32.9M141.7 32.9 141.5 31.9 141.2 31.1M147.0 31.1 147.9 30.9 148.9 29.9 149.9 29.6M145.4 29.7 148.9 29.9M147.5 28.5 149.4 28.7M144.6 30.7 146.5 30.7 145.6 30.2M146.4 34.1 146.5 34.7 147.6 34.9 148.9 34.6 149.7 34.7 151.0 35.8 150.8 36.5M148.9 34.6 149.9 35.7 149.9 36.4M146.5 34.7 145.4 35.9 146.3 37.0 146.7 37.5 149.4 37.3 150.1 37.5M146.3 37.2 146.3 38.0 146.7 39.0 148.6 38.8 149.7 38.6M148.6 38.8 148.5 39.4M146.7 39.0 145.4 39.3 144.9 40.1M146.0 34.5 144.1 34.9 142.9 34.8M131.3 37.7 132.9 38.1 134.4 38.3M134.0 32.8 135.0 33.6 136.0 33.8 137.5 34.2 137.1 35.1M137.1 35.1 136.2 35.9 136.8 36.2 136.5 37.2 137.1 37.5M127.0 38.6 127.4 38.6 128.6 38.9 128.1 40.1 127.9 40.8 127.9 41.6M136.9 31.5 136.2 32.4 136.3 33.2 136.3 33.8M135.0 32.6 136.0 32.8 136.2 33.1M137.8 30.4 138.4 30.5M141.6 33.0 140.0 33.3 141.0 34.4 140.5 35.1 138.7 35.2 137.1 35.1M136.7 36.1 137.7 35.9 138.9 35.7 138.9 35.5 139.9 35.4 140.9 35.7 140.8 36.3M141.0 34.4 141.7 34.2 142.9 34.5 142.6 35.1 142.3 35.6M142.3 35.6 142.9 36.1 144.2 36.1 145.0 35.9 145.4 35.9M142.1 36.6 142.6 36.6 144.4 36.7 144.4 37.3 143.9 38.3M144.4 37.3 145.4 37.8 146.3 38.0M144.5 38.9 145.1 38.5 145.4 38.5 146.3 38.4 146.7 39.0" fill="none" stroke="#8f8f8f" stroke-width="0.4" stroke-linejoin="round"/><line x1="58.35" y1="14.5" x2="58.35" y2="103.3" stroke="#d3d9df" stroke-width="0.5" stroke-opacity="0.75"/><line x1="95.40" y1="14.5" x2="95.40" y2="103.3" stroke="#d3d9df" stroke-width="0.5" stroke-opacity="0.75"/><line x1="132.45" y1="14.5" x2="132.45" y2="103.3" stroke="#d3d9df" stroke-width="0.5" stroke-opacity="0.75"/><line x1="169.50" y1="14.5" x2="169.50" y2="103.3" stroke="#d3d9df" stroke-width="0.5" stroke-opacity="0.75"/><line x1="206.55" y1="14.5" x2="206.55" y2="103.3" stroke="#d3d9df" stroke-width="0.5" stroke-opacity="0.75"/><line x1="21.3" y1="27.19" x2="243.6" y2="27.19" stroke="#d3d9df" stroke-width="0.5" stroke-opacity="0.75"/><line x1="21.3" y1="39.87" x2="243.6" y2="39.87" stroke="#d3d9df" stroke-width="0.5" stroke-opacity="0.75"/><line x1="21.3" y1="52.56" x2="243.6" y2="52.56" stroke="#d3d9df" stroke-width="0.5" stroke-opacity="0.75"/><line x1="21.3" y1="65.24" x2="243.6" y2="65.24" stroke="#d3d9df" stroke-width="0.5" stroke-opacity="0.75"/><line x1="21.3" y1="77.93" x2="243.6" y2="77.93" stroke="#d3d9df" stroke-width="0.5" stroke-opacity="0.75"/><line x1="21.3" y1="90.61" x2="243.6" y2="90.61" stroke="#d3d9df" stroke-width="0.5" stroke-opacity="0.75"/><circle cx="63.6" cy="29.4" r="1.3" fill="#ffb200"/><circle cx="58.3" cy="36.0" r="1.3" fill="#004cff"/><circle cx="60.1" cy="35.8" r="1.3" fill="#ff9400"/><circle cx="62.8" cy="33.9" r="1.3" fill="#29ffce"/><circle cx="63.7" cy="36.6" r="1.3" fill="#29ffce"/><circle cx="60.8" cy="37.7" r="1.3" fill="#00b0ff"/><circle cx="58.3" cy="40.0" r="1.3" fill="#19ffde"/><circle cx="57.4" cy="42.3" r="1.3" fill="#004cff"/><circle cx="58.8" cy="43.4" r="1.3" fill="#0038ff"/><circle cx="66.5" cy="43.6" r="1.3" fill="#0000f1"/><circle cx="68.8" cy="39.6" r="1.3" fill="#29ffce"/><circle cx="70.3" cy="35.4" r="1.3" fill="#29ffce"/><circle cx="72.2" cy="34.8" r="1.3" fill="#00d0ff"/><circle cx="73.1" cy="37.7" r="1.3" fill="#beff39"/><circle cx="74.7" cy="38.7" r="1.3" fill="#f10800"/><circle cx="72.9" cy="40.7" r="1.3" fill="#a4ff53"/><circle cx="71.9" cy="42.2" r="1.3" fill="#ff7a00"/><circle cx="77.8" cy="39.9" r="1.3" fill="#7dff7a"/><circle cx="80.5" cy="39.9" r="1.3" fill="#0060ff"/><circle cx="80.3" cy="42.6" r="1.3" fill="#ff9400"/><circle cx="80.3" cy="44.3" r="1.3" fill="#7dff7a"/><circle cx="83.1" cy="37.2" r="1.3" fill="#53ffa4"/><circle cx="73.5" cy="46.6" r="1.3" fill="#53ffa4"/><circle cx="88.1" cy="36.7" r="1.3" fill="#deff19"/><circle cx="87.7" cy="39.3" r="1.3" fill="#004cff"/><circle cx="86.0" cy="41.4" r="1.3" fill="#29ffce"/><circle cx="84.9" cy="40.3" r="1.3" fill="#a4ff53"/><circle cx="85.0" cy="42.2" r="1.3" fill="#a4ff53"/><circle cx="71.1" cy="53.0" r="1.3" fill="#a4ff53"/><circle cx="74.8" cy="54.6" r="1.3" fill="#7dff7a"/><circle cx="90.8" cy="53.5" r="1.3" fill="#39ffbe"/><circle cx="87.1" cy="59.0" r="1.3" fill="#a4ff53"/><circle cx="95.3" cy="67.0" r="1.3" fill="#0060ff"/><circle cx="90.4" cy="71.5" r="1.3" fill="#7dff7a"/><circle cx="93.9" cy="72.2" r="1.3" fill="#39ffbe"/><circle cx="97.8" cy="71.3" r="1.3" fill="#cd0000"/><circle cx="97.9" cy="75.1" r="1.3" fill="#53ffa4"/><circle cx="93.4" cy="76.2" r="1.3" fill="#0060ff"/><circle cx="88.9" cy="76.8" r="1.3" fill="#39ffbe"/><circle cx="98.8" cy="78.2" r="1.3" fill="#7dff7a"/><circle cx="103.7" cy="80.0" r="1.3" fill="#53ffa4"/><circle cx="88.6" cy="86.0" r="1.3" fill="#6aff8d"/><circle cx="117.0" cy="54.5" r="1.3" fill="#ceff29"/><circle cx="149.4" cy="31.0" r="1.3" fill="#0080ff"/><circle cx="155.6" cy="30.1" r="1.3" fill="#0080ff"/><circle cx="151.5" cy="33.3" r="1.3" fill="#0080ff"/><circle cx="145.4" cy="32.4" r="1.3" fill="#ff9400"/><circle cx="134.2" cy="32.6" r="1.3" fill="#0080ff"/><circle cx="136.0" cy="32.4" r="1.3" fill="#b60000"/><circle cx="137.8" cy="33.3" r="1.3" fill="#53ffa4"/><circle cx="139.9" cy="32.8" r="1.3" fill="#b60000"/><circle cx="139.9" cy="34.2" r="1.3" fill="#b60000"/><circle cx="133.9" cy="34.7" r="1.3" fill="#ff9400"/><circle cx="145.6" cy="36.2" r="1.3" fill="#da0000"/><circle cx="148.3" cy="37.0" r="1.3" fill="#53ffa4"/><circle cx="150.6" cy="35.1" r="1.3" fill="#29ffce"/><circle cx="136.0" cy="37.0" r="1.3" fill="#39ffbe"/><circle cx="137.4" cy="37.9" r="1.3" fill="#39ffbe"/><circle cx="139.6" cy="36.5" r="1.3" fill="#a4ff53"/><circle cx="140.5" cy="38.3" r="1.3" fill="#deff19"/><circle cx="141.5" cy="39.7" r="1.3" fill="#7dff7a"/><circle cx="144.2" cy="39.7" r="1.3" fill="#00b0ff"/><circle cx="146.9" cy="39.2" r="1.3" fill="#53ffa4"/><circle cx="133.7" cy="39.2" r="1.3" fill="#53ffa4"/><circle cx="131.4" cy="40.6" r="1.3" fill="#7dff7a"/><circle cx="127.8" cy="40.6" r="1.3" fill="#53ffa4"/><circle cx="129.6" cy="42.3" r="1.3" fill="#deff19"/><circle cx="134.2" cy="42.4" r="1.3" fill="#ffc400"/><circle cx="139.2" cy="42.4" r="1.3" fill="#deff19"/><circle cx="138.9" cy="44.4" r="1.3" fill="#ff1a00"/><circle cx="146.9" cy="41.7" r="1.3" fill="#ffb200"/><circle cx="127.4" cy="45.4" r="1.3" fill="#ceff29"/><circle cx="122.3" cy="47.3" r="1.3" fill="#deff19"/><circle cx="153.8" cy="42.0" r="1.3" fill="#ff1a00"/><circle cx="153.3" cy="43.4" r="1.3" fill="#ceff29"/><circle cx="152.4" cy="45.6" r="1.3" fill="#7dff7a"/><circle cx="155.2" cy="44.3" r="1.3" fill="#f8f500"/><circle cx="149.8" cy="48.2" r="1.3" fill="#b60000"/><circle cx="136.0" cy="51.1" r="1.3" fill="#ceff29"/><circle cx="122.0" cy="56.0" r="1.3" fill="#b60000"/><circle cx="128.9" cy="56.8" r="1.3" fill="#ff6800"/><circle cx="131.4" cy="55.4" r="1.3" fill="#deff19"/><circle cx="134.3" cy="56.8" r="1.3" fill="#ff3800"/><circle cx="138.3" cy="56.6" r="1.3" fill="#ff1a00"/><circle cx="140.0" cy="57.1" r="1.3" fill="#ff1a00"/><circle cx="131.6" cy="57.5" r="1.3" fill="#ffc400"/><circle cx="133.9" cy="59.2" r="1.3" fill="#ffb200"/><circle cx="135.4" cy="60.0" r="1.3" fill="#deff19"/><circle cx="129.1" cy="61.1" r="1.3" fill="#ffd700"/><circle cx="132.3" cy="61.4" r="1.3" fill="#53ffa4"/><circle cx="138.8" cy="61.7" r="1.3" fill="#ff6800"/><circle cx="139.5" cy="65.5" r="1.3" fill="#8dff6a"/><circle cx="150.8" cy="67.4" r="1.3" fill="#7dff7a"/><circle cx="142.0" cy="73.0" r="1.3" fill="#004cff"/><circle cx="147.4" cy="72.0" r="1.3" fill="#ff1a00"/><circle cx="151.8" cy="71.7" r="1.3" fill="#7dff7a"/><circle cx="156.5" cy="51.1" r="1.3" fill="#7dff7a"/><circle cx="140.3" cy="74.8" r="1.3" fill="#00b0ff"/><circle cx="146.9" cy="74.8" r="1.3" fill="#00c4ff"/><circle cx="142.0" cy="77.1" r="1.3" fill="#0060ff"/><circle cx="147.1" cy="77.9" r="1.3" fill="#b60000"/><circle cx="144.3" cy="78.8" r="1.3" fill="#0060ff"/><circle cx="142.8" cy="80.0" r="1.3" fill="#004cff"/><circle cx="141.4" cy="80.0" r="1.3" fill="#deff19"/><circle cx="150.0" cy="81.4" r="1.3" fill="#ffb200"/><circle cx="152.6" cy="81.7" r="1.3" fill="#0060ff"/><circle cx="174.9" cy="41.0" r="1.3" fill="#deff19"/><circle cx="161.5" cy="46.8" r="1.3" fill="#ff1a00"/><circle cx="161.5" cy="49.7" r="1.3" fill="#ffb200"/><circle cx="167.2" cy="48.8" r="1.3" fill="#7dff7a"/><circle cx="166.1" cy="49.5" r="1.3" fill="#deff19"/><circle cx="165.8" cy="51.1" r="1.3" fill="#ff1a00"/><circle cx="174.0" cy="49.5" r="1.3" fill="#b60000"/><circle cx="178.5" cy="45.1" r="1.3" fill="#39ffbe"/><circle cx="179.4" cy="47.4" r="1.3" fill="#39ffbe"/><circle cx="180.8" cy="47.0" r="1.3" fill="#53ffa4"/><circle cx="182.4" cy="48.2" r="1.3" fill="#00e4f8"/><circle cx="184.9" cy="47.5" r="1.3" fill="#00b0ff"/><circle cx="181.8" cy="48.8" r="1.3" fill="#29ffce"/><circle cx="178.2" cy="53.4" r="1.3" fill="#00d0ff"/><circle cx="180.1" cy="57.9" r="1.3" fill="#004cff"/><circle cx="188.3" cy="50.4" r="1.3" fill="#29ffce"/><circle cx="190.8" cy="47.8" r="1.3" fill="#00d0ff"/><circle cx="192.1" cy="50.8" r="1.3" fill="#0080ff"/><circle cx="194.1" cy="52.4" r="1.3" fill="#deff19"/><circle cx="193.6" cy="53.6" r="1.3" fill="#53ffa4"/><circle cx="196.3" cy="51.5" r="1.3" fill="#39ffbe"/><circle cx="198.0" cy="51.9" r="1.3" fill="#39ffbe"/><circle cx="199.4" cy="52.2" r="1.3" fill="#29ffce"/><circle cx="195.3" cy="54.3" r="1.3" fill="#53ffa4"/><circle cx="196.3" cy="56.3" r="1.3" fill="#b60000"/><circle cx="197.6" cy="55.8" r="1.3" fill="#ff1a00"/><circle cx="198.0" cy="59.3" r="1.3" fill="#7dff7a"/><circle cx="194.3" cy="60.4" r="1.3" fill="#deff19"/><circle cx="203.0" cy="50.8" r="1.3" fill="#b60000"/><circle cx="204.9" cy="52.3" r="1.3" fill="#00d0ff"/><circle cx="206.9" cy="50.8" r="1.3" fill="#0080ff"/><circle cx="207.6" cy="49.2" r="1.3" fill="#39ffbe"/><circle cx="206.7" cy="45.3" r="1.3" fill="#00d0ff"/><circle cx="207.3" cy="55.9" r="1.3" fill="#beff39"/><circle cx="194.3" cy="62.0" r="1.3" fill="#53ffa4"/><circle cx="196.9" cy="64.6" r="1.3" fill="#7dff7a"/><circle cx="198.3" cy="69.4" r="1.3" fill="#53ffa4"/><circle cx="203.4" cy="66.6" r="1.3" fill="#29ffce"/><circle cx="213.3" cy="72.8" r="1.3" fill="#39ffbe"/><circle cx="215.0" cy="73.2" r="1.3" fill="#a4ff53"/><circle cx="211.9" cy="75.8" r="1.3" fill="#ffd700"/><circle cx="196.8" cy="42.6" r="1.3" fill="#00d0ff"/><circle cx="200.3" cy="41.0" r="1.3" fill="#7dff7a"/><circle cx="204.9" cy="39.8" r="1.3" fill="#00d0ff"/><circle cx="212.5" cy="26.2" r="1.3" fill="#0000ff"/><circle cx="184.6" cy="29.8" r="1.3" fill="#0000ff"/><circle cx="214.3" cy="37.5" r="1.3" fill="#ff9400"/><circle cx="220.2" cy="38.0" r="1.3" fill="#009cff"/><circle cx="209.3" cy="41.1" r="1.3" fill="#0038ff"/><circle cx="211.0" cy="41.8" r="1.3" fill="#0000ff"/><circle cx="210.2" cy="44.6" r="1.3" fill="#19ffde"/><circle cx="212.4" cy="42.9" r="1.3" fill="#53ffa4"/><circle cx="213.7" cy="44.4" r="1.3" fill="#ff9400"/><circle cx="216.3" cy="43.7" r="1.3" fill="#0060ff"/><circle cx="217.8" cy="41.9" r="1.3" fill="#0018ff"/><circle cx="219.2" cy="41.5" r="1.3" fill="#004cff"/><circle cx="219.6" cy="42.9" r="1.3" fill="#29ffce"/><circle cx="177.9" cy="60.9" r="1.3" fill="#ffb200"/></g><rect x="21.3" y="14.5" width="222.3" height="88.8" fill="none" stroke="#c8c8c8" stroke-width="0.6"/><text x="73.8" y="10.4" font-weight="bold" font-size="7.3" textLength="117.4" lengthAdjust="spacingAndGlyphs">(a) EML Inversion Products Residual</text><text x="19.1" y="28.8" text-anchor="end" class="tk">60°N</text><text x="19.1" y="41.5" text-anchor="end" class="tk">40°N</text><text x="19.1" y="54.2" text-anchor="end" class="tk">20°N</text><text x="19.1" y="66.8" text-anchor="end" class="tk">0°</text><text x="19.1" y="79.5" text-anchor="end" class="tk">20°S</text><text x="19.1" y="92.2" text-anchor="end" class="tk">40°S</text><text x="21.3" y="109.8" text-anchor="middle" class="tk">180°</text><text x="58.4" y="109.8" text-anchor="middle" class="tk">120°W</text><text x="95.4" y="109.8" text-anchor="middle" class="tk">60°W</text><text x="132.5" y="109.8" text-anchor="middle" class="tk">0°W</text><text x="169.5" y="109.8" text-anchor="middle" class="tk">60°E</text><text x="206.6" y="109.8" text-anchor="middle" class="tk">120°E</text><text x="243.6" y="109.8" text-anchor="middle" class="tk">180°</text><rect x="43.3" y="115.1" width="178.4" height="4.5" fill="url(#g_jet)"/><text x="43.3" y="127.5" text-anchor="middle" class="tk">6</text><text x="79.0" y="127.5" text-anchor="middle" class="tk">8</text><text x="114.7" y="127.5" text-anchor="middle" class="tk">10</text><text x="150.3" y="127.5" text-anchor="middle" class="tk">12</text><text x="186.0" y="127.5" text-anchor="middle" class="tk">14</text><text x="221.7" y="127.5" text-anchor="middle" class="tk">16 %</text><g clip-path="url(#clip_b)"><rect x="266.2" y="14.5" width="222.3" height="88.8" fill="#f0f8ff"/><path d="M273.5 23.6 276.1 23.1 277.3 22.8 276.4 22.1 274.4 21.9 274.7 21.5 277.4 20.7 280.7 20.0 283.5 20.3 285.7 20.7 289.0 20.8 290.3 21.1 293.4 21.5 294.6 21.2 298.3 20.5 300.8 21.2 305.1 21.5 308.2 22.2 310.7 22.4 314.4 22.2 316.8 22.1 318.7 21.2 319.0 19.6 320.5 20.8 321.8 21.8 324.2 21.2 326.7 21.2 326.7 22.7 324.2 23.1 323.9 23.1 323.0 24.6 321.3 25.1 319.3 26.6 319.2 27.9 320.5 29.1 323.0 29.7 326.5 30.3 327.6 32.6 328.6 32.6 328.6 31.0 330.1 29.4 329.8 27.2 329.2 25.7 331.7 25.7 334.1 26.6 334.4 27.8 335.7 28.1 337.2 27.0 337.5 27.0 339.1 28.8 340.0 30.0 341.8 31.0 343.0 32.1 342.2 32.6 340.3 33.4 337.8 33.4 336.0 33.8 334.4 34.8 336.3 34.0 337.5 34.2 337.2 35.1 337.5 35.9 339.4 36.3 340.3 36.1 340.3 36.3 338.1 37.0 336.7 37.7 336.6 37.0 337.5 36.5 336.0 36.7 334.1 37.5 333.6 38.1 334.1 38.7 333.2 39.0 331.7 39.5 331.7 40.2 331.0 40.6 330.9 41.1 330.4 41.8 330.7 42.9 329.2 43.7 328.3 44.3 327.3 44.9 327.1 45.9 327.6 47.2 327.9 48.3 327.7 49.3 326.9 48.8 326.3 47.8 326.2 46.8 325.5 46.2 324.2 46.0 322.4 46.0 322.3 46.8 321.2 46.7 319.3 46.5 317.5 47.6 317.1 48.8 317.1 50.0 317.2 51.6 318.0 53.1 319.0 53.7 320.8 53.5 321.5 52.7 321.6 51.9 323.6 51.6 323.3 52.9 322.8 54.1 322.7 55.2 324.2 55.2 326.0 55.7 325.8 57.6 325.7 58.3 326.4 59.2 327.9 59.3 329.5 59.8 329.2 60.7 329.0 60.0 328.3 59.6 327.6 60.6 326.7 60.0 325.0 59.1 324.4 58.3 323.3 57.0 322.4 56.7 320.8 56.4 320.4 56.0 319.3 55.1 317.8 55.3 316.5 54.9 315.0 54.3 313.4 53.6 312.2 52.6 312.3 51.5 311.6 50.5 310.7 49.4 309.7 48.4 309.1 47.5 308.1 46.5 306.6 45.2 306.6 46.2 307.7 47.5 308.8 48.8 309.4 50.0 309.8 50.6 309.2 50.4 308.2 49.5 307.0 48.2 306.3 47.6 306.6 47.2 305.7 45.9 305.0 44.6 304.2 43.7 302.9 43.3 302.1 42.0 301.7 41.3 300.9 40.0 300.6 39.6 300.7 38.6 300.8 35.9 300.3 34.5 301.4 34.7 301.7 34.3 301.1 33.8 300.2 33.3 298.6 32.9 298.0 31.9 297.1 30.7 296.5 30.4 294.9 28.8 293.7 28.1 292.4 27.9 291.0 27.3 289.7 27.2 288.4 27.2 286.9 26.7 286.0 27.2 284.4 27.6 283.6 27.7 284.4 26.4 282.9 27.5 282.3 28.1 280.7 29.1 279.2 29.8 277.0 30.4 275.6 30.7 277.0 30.0 278.6 29.3 280.1 28.3 280.4 27.9 279.2 27.9 277.3 28.1 276.1 27.2 275.2 26.2 275.5 25.5 277.9 25.0 277.6 24.4 275.5 24.3 274.5 24.1ZM329.5 59.8 330.4 59.3 330.7 58.6 331.3 58.3 332.4 57.9 333.1 57.4 333.2 58.1 334.0 57.9 334.1 57.6 335.1 58.6 336.0 58.5 337.8 58.5 339.1 58.5 339.7 59.2 340.3 59.9 341.5 60.8 342.2 61.4 343.4 61.4 344.6 61.7 345.2 62.1 345.9 62.7 346.5 64.1 346.5 65.2 347.4 65.9 349.9 66.8 351.5 67.1 353.3 67.5 353.6 67.6 355.1 68.4 355.6 68.7 355.8 70.3 355.3 71.4 353.6 73.5 353.3 75.1 353.1 76.5 352.3 78.2 351.4 79.8 350.7 79.8 349.3 80.3 348.8 80.5 347.4 81.7 347.4 82.7 346.7 83.8 345.9 84.9 344.9 86.2 344.4 86.7 343.4 87.4 342.6 87.4 341.6 87.0 341.3 87.2 342.0 88.1 342.3 88.4 341.8 89.3 338.9 89.9 338.9 90.9 337.2 91.2 338.0 92.3 337.2 92.5 336.9 93.8 335.7 94.4 336.7 95.6 335.5 96.6 334.7 98.0 335.1 98.5 333.8 98.9 332.9 99.2 331.3 98.5 330.7 96.3 330.7 94.7 331.7 93.2 331.7 92.5 332.0 91.6 331.8 89.3 332.1 88.7 332.8 87.4 333.1 86.2 333.2 84.3 333.3 83.0 333.8 81.1 333.9 79.8 334.0 77.9 333.9 76.9 333.2 76.2 331.0 75.1 330.2 73.8 329.7 72.9 328.8 71.0 328.1 69.7 327.1 69.0 327.1 68.2 327.8 67.4 328.0 66.8 327.4 66.6 327.6 65.6 327.9 64.7 328.7 64.3 329.5 63.0 329.7 62.7 329.6 61.1 329.2 60.7ZM335.0 98.6 335.7 99.2 337.1 99.9 336.3 100.2 335.1 100.4 333.5 100.1 332.0 99.1 333.5 99.4 334.1 98.9ZM397.3 45.4 396.5 45.2 395.8 45.5 394.0 45.3 392.9 45.2 392.2 44.9 391.6 44.6 390.3 44.4 389.7 44.9 389.1 46.0 388.2 45.6 386.9 45.3 386.7 44.7 385.5 44.4 384.5 44.2 384.0 43.9 383.6 43.7 384.0 43.2 384.2 42.9 384.2 41.7 383.6 41.9 383.5 41.6 382.7 41.8 382.2 41.8 380.4 42.0 379.2 41.9 378.0 42.1 377.0 42.6 376.1 43.0 375.5 42.9 374.1 42.5 373.7 42.5 373.2 43.7 372.7 43.9 371.7 44.6 371.3 45.3 371.4 46.0 371.1 46.7 369.9 47.5 369.4 47.5 368.4 48.7 367.5 50.2 366.9 51.8 367.3 52.9 367.5 53.8 367.2 55.0 366.5 55.9 367.0 56.7 367.0 56.9 367.3 57.6 368.1 58.3 368.7 58.9 368.9 59.2 369.2 59.9 369.9 60.6 370.2 60.9 371.5 61.8 372.7 62.5 374.3 61.9 374.9 61.9 376.1 62.2 377.4 61.7 378.1 61.4 379.4 61.2 380.4 61.8 381.1 62.5 381.7 62.5 382.6 62.3 383.2 62.8 383.4 63.7 383.2 64.6 382.7 65.6 383.2 66.8 384.1 67.5 384.6 68.3 384.9 69.0 385.4 70.3 385.5 70.8 385.9 72.2 385.6 73.2 384.9 74.8 384.6 76.2 384.9 77.0 385.7 78.4 386.3 79.8 386.7 82.1 386.9 82.7 387.5 83.4 388.2 84.9 388.6 85.9 388.4 86.2 388.7 86.8 389.7 87.3 390.9 86.9 393.2 86.8 394.6 86.2 395.9 85.1 396.5 84.2 397.4 83.3 397.5 81.7 398.0 81.4 399.3 80.5 399.2 78.9 398.9 77.8 400.1 76.6 401.4 75.7 402.4 74.8 402.4 73.2 402.4 71.9 401.9 70.3 401.6 69.6 401.6 68.4 401.9 67.8 402.2 67.0 403.0 66.3 403.6 65.5 405.3 64.0 406.4 62.7 407.3 61.8 408.1 60.2 408.7 58.6 409.0 57.8 407.6 58.1 405.1 58.6 404.0 57.9 404.1 57.3 403.3 56.4 401.7 55.3 401.1 53.8 400.3 52.8 400.1 51.3 399.3 50.1 398.3 48.4 397.7 47.2 397.5 46.3 398.5 47.6 398.9 46.5 398.5 45.4ZM407.8 72.9 408.5 75.1 408.1 76.0 407.3 78.2 406.7 81.0 405.3 81.4 404.5 81.0 404.1 79.2 404.8 77.9 404.5 76.0 405.8 75.3 407.0 74.1ZM398.9 46.5 399.3 47.8 400.2 49.4 400.8 50.0 401.6 51.6 402.5 53.2 403.6 54.8 403.9 56.0 404.2 57.2 405.1 57.1 407.0 56.4 407.6 56.0 409.5 55.2 410.7 54.5 411.6 54.0 412.4 53.3 413.0 52.7 414.3 51.0 413.5 50.3 412.5 50.0 412.2 48.5 411.9 49.1 411.5 49.2 410.1 49.9 409.2 49.8 409.2 48.8 409.0 48.7 408.7 49.5 408.3 48.6 407.9 48.1 407.0 46.7 407.5 46.2 408.4 46.7 408.7 46.9 409.8 47.9 411.2 48.4 412.1 48.0 412.7 48.8 413.8 49.1 414.8 49.2 415.8 49.3 417.2 49.3 418.7 49.5 419.0 50.0 419.6 50.3 420.0 51.0 420.6 51.9 421.2 52.1 422.2 51.3 422.3 51.9 422.3 53.2 422.9 55.4 423.5 57.1 424.4 58.9 425.2 60.1 425.6 59.7 426.3 58.7 426.9 57.0 426.9 55.4 428.2 54.7 428.8 54.0 429.8 52.9 430.8 52.4 431.1 51.6 432.0 51.5 432.9 51.3 434.0 51.0 434.3 52.1 434.7 52.5 435.6 53.8 435.5 55.1 436.3 55.2 436.8 54.7 437.6 54.8 437.9 56.4 438.2 57.6 438.2 58.9 438.1 59.9 438.1 60.2 438.8 61.1 439.3 61.8 439.7 63.0 440.3 63.7 441.3 64.4 441.8 64.4 441.3 62.7 441.2 62.1 440.3 61.3 439.5 60.7 439.0 59.3 438.6 58.6 439.0 57.3 439.4 56.7 439.7 57.2 440.6 57.5 441.0 58.3 441.9 58.6 442.2 59.8 443.1 59.2 443.7 58.6 444.7 57.9 444.8 57.0 444.8 56.5 444.2 55.0 443.4 54.5 442.8 53.4 442.6 53.2 443.2 52.0 444.0 51.6 444.7 51.6 445.5 52.4 445.9 51.7 447.1 51.3 447.9 51.1 449.3 50.7 450.2 49.7 451.1 48.9 451.8 48.1 452.4 47.2 452.7 46.2 452.6 45.6 452.1 44.9 451.8 44.0 451.0 43.2 451.5 42.5 453.0 41.6 452.1 41.3 450.8 41.6 450.2 40.8 450.0 40.5 451.1 39.9 452.1 39.4 452.9 39.6 452.3 40.6 453.6 40.0 454.1 39.9 454.5 40.2 454.7 41.3 455.5 41.4 455.3 42.4 455.5 43.4 456.1 43.3 457.0 43.0 457.3 42.4 457.3 41.5 456.7 40.8 456.1 40.3 456.7 39.9 457.4 39.2 457.6 38.4 458.9 37.8 459.5 38.1 461.0 37.3 462.6 35.7 464.1 34.5 464.1 33.5 464.7 32.1 464.1 31.3 462.3 31.0 460.7 30.5 461.9 29.4 463.8 28.5 465.7 27.6 467.5 27.7 470.5 27.4 472.4 27.6 473.1 27.2 474.3 26.2 476.1 26.0 476.5 26.9 474.9 28.5 473.7 28.6 473.7 30.4 474.1 33.0 475.2 31.6 476.1 30.7 477.4 29.6 478.1 28.5 478.6 27.3 479.9 27.0 482.3 27.2 483.6 26.6 485.1 26.0 487.0 25.6 487.9 25.7 488.5 24.0 488.5 21.5 486.0 21.0 482.5 21.0 479.9 21.1 476.8 21.2 473.7 20.2 471.2 20.3 469.4 19.6 466.3 19.2 463.8 19.3 460.7 19.8 457.6 20.2 456.7 19.3 455.2 18.6 453.9 18.5 450.2 18.6 447.1 18.4 445.9 18.3 444.7 18.1 447.1 17.2 442.2 16.4 441.8 16.0 439.1 16.7 436.6 17.0 434.2 17.2 431.7 17.5 430.5 17.8 428.0 18.6 427.2 18.6 427.4 19.3 425.5 19.4 424.3 20.1 425.2 19.4 424.0 19.1 422.7 19.0 423.4 21.8 422.1 22.1 422.4 20.5 422.1 19.3 420.5 18.7 419.3 20.2 419.3 21.8 419.0 21.5 416.9 21.4 414.7 21.0 413.2 21.7 410.7 22.0 408.2 22.3 405.8 22.8 404.2 21.7 404.5 23.2 403.3 23.1 402.4 24.3 400.8 24.6 399.9 24.5 398.8 24.1 397.4 22.7 399.6 23.3 402.7 23.3 402.8 22.6 400.8 21.9 397.7 21.2 394.6 20.2 393.3 20.1 390.3 20.7 389.0 21.0 386.9 21.5 386.0 22.0 385.7 23.1 385.1 23.7 383.5 25.0 382.6 25.1 380.7 25.8 380.4 26.9 380.8 27.9 381.7 28.5 382.3 28.4 383.2 27.8 384.0 27.5 384.1 27.8 384.3 28.3 384.7 28.6 385.1 29.4 385.4 30.0 386.2 30.0 387.2 29.6 387.5 29.3 387.7 28.6 389.0 27.6 388.2 26.7 388.0 26.0 388.1 25.7 389.1 25.0 389.9 24.8 391.1 23.6 392.3 23.5 393.0 24.0 391.6 24.8 390.7 25.2 390.6 26.2 391.1 26.9 392.8 27.1 394.3 26.9 396.0 27.2 394.6 27.6 392.6 27.6 391.9 27.7 391.9 28.3 392.5 28.2 392.2 29.1 391.7 29.1 391.3 28.6 390.6 28.8 390.3 29.4 390.4 29.9 390.0 30.4 388.9 30.7 388.5 30.5 387.2 30.8 386.1 31.1 385.4 30.7 384.8 30.9 384.1 31.0 383.6 30.7 383.7 30.0 383.8 28.6 382.6 29.0 382.4 30.0 382.7 30.8 382.6 31.2 381.7 31.3 380.7 31.4 380.3 31.8 379.8 32.3 379.4 32.6 378.9 32.8 378.5 32.9 378.3 33.3 377.5 33.7 376.5 33.8 376.2 33.7 376.4 34.4 375.5 34.3 374.4 34.5 374.7 34.9 375.8 35.2 376.6 35.9 376.7 36.9 376.4 37.7 375.5 37.7 375.0 37.7 373.8 37.6 372.4 37.5 372.2 37.7 371.6 38.0 371.9 38.6 372.0 39.1 371.8 39.9 371.5 40.6 371.9 40.8 371.8 41.8 372.5 41.8 373.5 42.1 373.9 42.4 374.6 42.0 376.0 42.0 376.7 41.4 377.0 40.9 377.5 40.7 377.2 40.2 377.9 39.4 378.7 39.0 379.4 38.4 379.2 38.0 379.8 37.7 380.7 37.8 381.1 37.9 381.9 37.5 382.8 37.1 383.4 37.3 383.7 37.7 384.1 38.3 384.9 38.8 386.1 39.4 386.6 39.7 387.0 40.2 387.0 41.1 387.5 40.8 387.9 40.5 387.5 40.0 388.0 39.6 388.8 39.8 388.5 39.5 387.8 39.2 387.2 38.7 386.0 38.3 385.7 37.6 385.1 37.3 384.9 36.4 385.8 36.3 385.9 36.8 386.6 37.0 387.5 37.7 388.5 38.2 389.1 38.6 389.4 38.9 389.3 39.6 389.7 40.1 390.3 40.9 390.7 41.8 391.2 42.2 391.6 42.1 391.7 41.5 392.0 41.2 392.2 41.0 391.6 40.5 391.5 40.3 391.5 39.5 392.0 39.9 392.5 39.3 393.4 39.4 393.5 39.8 393.7 39.9 393.5 40.2 394.0 40.9 393.6 40.9 394.1 41.5 394.3 41.8 394.8 41.9 395.3 42.0 396.2 42.2 396.3 41.8 397.1 42.1 397.6 42.4 398.3 42.2 398.7 41.9 399.6 42.0 399.5 42.5 399.5 42.7 399.3 43.7 399.0 44.4 398.8 44.9 398.5 45.4ZM266.2 24.0 267.1 23.7 268.7 23.9 270.4 24.4 270.8 24.4 271.8 23.7 272.6 23.3 271.1 22.8 269.9 22.7 268.7 22.2 267.1 21.8 266.2 21.5ZM350.2 27.3 351.4 26.6 352.0 25.3 352.6 24.1 354.2 23.6 355.7 23.1 357.3 22.0 361.3 21.7 363.1 20.8 363.8 20.5 363.8 19.9 364.4 18.9 365.6 18.0 365.3 17.0 365.9 16.1 365.6 15.1 367.5 14.2 369.9 13.5 365.0 12.9 358.8 12.3 349.6 12.6 341.5 13.1 339.1 13.4 337.2 13.9 335.4 14.3 332.9 15.3 334.1 16.1 336.6 16.9 339.7 17.0 341.8 17.5 342.8 18.3 343.4 19.3 344.0 20.1 345.4 20.7 344.3 21.2 345.5 21.8 344.6 22.7 344.8 23.4 345.5 24.5 346.5 25.4 347.4 26.4 349.1 27.0ZM363.5 24.6 362.5 23.7 363.5 23.1 366.2 23.3 368.4 23.1 369.0 23.9 368.1 24.5 365.7 25.0 364.1 24.8ZM322.7 18.6 324.9 18.6 327.9 18.5 330.1 19.1 332.9 19.8 335.1 20.5 336.3 21.4 339.1 22.7 339.4 23.1 338.1 24.0 336.9 24.1 337.5 25.1 337.2 25.7 336.2 25.8 335.1 25.1 333.1 25.2 332.6 24.8 331.0 24.4 329.5 24.3 329.2 23.9 331.7 23.5 332.6 22.6 331.3 21.9 329.8 21.2 327.9 20.8 326.7 20.8 325.2 20.8 324.2 20.5 323.0 20.2 322.1 19.3ZM318.1 17.4 320.5 16.7 323.0 16.7 326.7 16.7 328.3 17.4 326.7 17.9 323.0 18.0 320.5 17.8ZM322.1 16.8 324.9 16.8 327.9 16.8 329.2 16.4 329.8 15.6 332.3 15.3 332.9 14.8 335.4 14.3 337.2 13.9 339.1 13.2 337.2 12.6 327.9 12.6 321.8 13.5 324.2 14.2 324.2 14.8 324.9 15.5 323.0 15.9 322.1 16.4ZM318.4 15.5 321.2 15.6 323.3 15.1 323.9 14.4 321.8 13.7 319.3 13.9 318.1 14.5ZM313.1 15.6 315.6 15.6 315.9 15.3 314.4 15.1 313.1 15.3ZM316.8 15.9 318.1 15.8 317.8 15.3 316.8 15.5ZM308.2 16.1 311.9 16.0 310.7 15.4 308.2 15.6ZM317.8 17.8 319.6 17.8 319.3 17.4 318.1 17.4ZM315.6 21.8 318.1 21.9 317.8 21.0 316.2 21.2ZM303.9 19.9 304.8 19.1 307.0 18.7 309.4 19.1 311.6 18.8 312.8 19.3 314.4 20.2 315.0 20.8 313.7 21.6 311.9 21.5 309.4 21.8 307.6 21.8 305.1 21.5 303.9 20.8 305.1 20.5ZM300.2 19.6 300.8 18.3 303.2 18.1 304.8 18.4 305.7 18.9 305.1 19.3 303.2 19.8 301.7 20.1ZM305.1 17.9 304.8 16.9 307.6 16.5 310.7 17.0 312.2 17.4 311.6 17.8 309.4 17.9ZM301.4 16.9 303.9 16.2 306.0 16.5 304.5 17.3ZM315.0 17.2 317.5 16.8 317.5 17.7 315.6 17.8ZM314.4 19.3 315.6 18.4 317.5 18.6 317.8 19.3 316.8 19.9 315.0 19.7ZM318.4 19.4 319.0 18.3 321.2 18.3 321.8 19.1 319.9 19.3ZM323.9 24.6 324.6 23.5 326.1 23.3 327.3 24.4 327.8 24.8 326.1 25.8 324.2 25.0ZM301.2 34.5 300.3 34.4 299.2 33.8 298.1 33.0 298.6 33.0 300.0 33.4 300.8 34.0ZM344.8 35.1 344.3 35.7 342.9 35.4 340.7 35.1 341.5 34.0 341.9 33.1 343.0 32.5 343.1 33.6 344.3 34.0 344.7 34.8ZM324.9 51.4 326.7 50.5 327.9 50.7 329.7 51.5 331.5 52.4 329.4 52.6 328.8 51.8 327.0 51.2 325.8 51.2ZM331.4 53.6 332.4 52.6 334.2 52.8 335.1 53.4 333.4 54.0 331.4 53.6ZM329.0 53.6 330.3 53.7 330.1 54.0 329.2 53.8ZM335.9 53.5 336.8 53.6 336.8 53.8 335.9 53.8ZM281.9 29.3 283.3 28.8 282.7 28.3 281.9 28.8ZM373.8 33.5 375.2 33.3 376.7 33.1 378.2 32.8 378.4 31.9 377.5 31.4 377.2 30.9 376.4 30.4 376.1 29.8 375.5 29.7 375.7 29.5 376.1 29.0 376.2 28.7 375.4 28.1 374.3 28.1 373.8 28.8 373.9 29.5 373.6 30.2 374.2 30.2 374.4 30.5 375.4 30.4 375.2 30.7 375.5 31.1 375.5 31.4 374.5 31.4 374.8 31.9 374.1 32.4 375.4 32.6 374.6 32.9ZM373.6 32.1 373.5 31.4 374.0 30.7 373.5 30.2 372.7 30.2 372.1 30.6 371.2 30.9 371.5 31.4 371.0 32.3 371.5 32.5 372.4 32.4 373.4 32.1ZM385.0 41.3 386.7 42.0 387.0 40.9 385.7 41.0ZM382.5 40.5 383.3 40.4 383.4 39.1 382.4 39.3ZM382.7 39.0 383.2 39.0 383.2 38.0 382.7 38.4ZM391.9 42.9 393.6 42.9 392.6 43.0ZM397.3 43.2 398.7 42.6 398.3 43.0ZM384.1 15.5 387.2 16.7 390.9 16.1 394.0 15.3 390.9 14.4 387.8 14.5 384.1 14.8ZM388.5 14.5 394.0 14.6 394.0 14.2 389.7 14.1ZM406.4 14.4 411.3 14.5 415.6 14.2 413.2 13.5 408.2 13.9ZM409.2 19.9 412.5 20.5 411.6 19.3 414.4 18.0 416.9 17.2 419.6 16.5 417.5 16.5 414.4 16.8 411.3 18.0 410.1 18.6ZM436.0 14.8 439.1 15.6 442.2 15.1 441.0 14.2 437.2 13.9ZM461.9 17.4 464.4 18.6 468.1 17.8 470.0 17.5 467.5 16.9 463.8 17.0ZM266.2 19.9 267.4 20.0 267.7 20.2 266.2 20.3ZM488.5 19.9 487.9 20.1 488.5 20.3ZM465.0 36.1 466.0 35.7 465.8 34.0 466.5 34.2 465.7 32.6 465.8 31.5 465.4 30.8 464.9 31.4 465.2 32.9 465.0 34.8ZM458.2 43.7 458.7 43.2 459.5 42.7 460.9 42.6 461.3 42.1 461.9 41.8 462.1 41.5 462.9 41.5 463.2 41.2 463.8 40.2 463.8 39.4 464.1 39.0 464.7 39.0 465.0 40.2 464.4 40.9 464.2 41.9 464.4 42.6 463.7 42.9 463.1 43.3 461.9 43.3 461.2 44.0 460.8 43.5 459.5 43.5 458.2 43.7ZM457.6 43.8 457.7 44.6 457.9 45.5 458.4 45.3 458.8 44.3 458.2 43.7ZM459.2 44.1 459.5 44.5 460.5 43.8 459.8 43.5ZM463.8 38.9 464.5 38.7 465.8 38.6 467.2 37.8 466.4 37.3 465.0 36.4 464.8 37.7 464.1 37.8 463.8 38.3ZM451.5 50.7 451.9 51.4 452.6 49.6 452.4 49.2 451.6 50.0ZM444.4 53.1 445.1 53.7 445.8 52.9 445.6 52.5 444.8 52.6ZM451.5 55.1 451.8 53.5 452.8 53.5 452.7 54.8 452.4 56.2 453.9 57.0 453.6 56.5 451.8 56.2ZM452.7 60.8 453.9 61.4 454.8 61.7 455.5 60.8 455.3 59.2 454.2 59.7 453.3 59.9ZM452.7 58.6 453.6 59.2 454.8 58.9 454.8 57.3 453.9 57.3 453.0 57.8ZM449.7 60.0 451.3 58.1 451.0 58.1 449.6 59.8ZM444.7 64.2 445.0 64.0 445.9 64.3 447.1 63.2 448.4 62.1 449.0 60.9 450.0 61.2 451.0 61.9 450.2 62.5 450.1 64.6 450.8 64.7 449.9 65.2 449.3 66.2 449.2 67.5 448.1 67.8 445.9 67.1 445.4 67.1 445.0 65.6ZM436.2 61.7 437.6 61.9 439.1 63.7 441.3 65.9 441.9 66.5 442.8 67.1 442.7 68.9 441.9 68.9 440.3 67.8 439.4 65.9 438.4 64.2 436.9 62.8ZM442.3 69.5 442.8 69.0 444.3 69.4 445.6 69.4 446.8 69.6 448.1 70.2 448.0 70.8 445.3 70.4 443.1 69.9ZM448.4 70.4 449.0 70.5 450.8 70.5 453.3 70.5 453.3 70.8 450.8 70.8 449.0 70.9 448.4 70.8ZM453.6 71.8 454.5 71.0 455.9 70.6 454.8 71.3 453.9 71.8ZM451.1 68.7 451.8 68.7 451.6 67.1 452.1 67.0 452.7 68.1 453.4 68.3 452.4 66.4 453.5 65.8 452.4 65.9 451.6 65.0 453.3 64.9 454.5 64.3 454.2 64.7 452.1 64.4 451.3 65.1 450.7 67.0ZM456.1 64.0 456.8 64.4 456.4 65.1 456.9 65.8 456.3 65.6 456.1 64.6ZM456.4 67.1 458.1 67.3 457.9 67.5 456.5 67.5ZM458.2 66.1 459.2 65.5 460.2 65.8 460.2 66.8 460.7 67.3 461.6 66.7 462.3 66.2 464.4 66.9 467.3 68.2 468.4 69.0 468.7 70.3 470.2 71.8 468.1 71.7 467.5 70.4 466.3 70.1 465.7 71.0 464.4 71.0 463.2 70.4 462.6 70.6 462.4 68.5 460.7 68.0 459.5 67.8 458.9 67.0 459.8 66.8ZM468.9 68.7 470.0 68.4 471.2 67.9 470.9 68.7 469.4 69.2ZM426.7 61.3 426.6 60.2 426.8 59.0 427.5 59.9 427.9 60.8 427.6 61.3 427.1 61.5ZM447.6 79.1 448.1 78.9 449.4 78.3 450.6 78.1 452.1 77.6 452.8 76.7 453.6 76.0 454.5 74.8 455.5 74.1 456.4 74.7 457.3 74.8 457.7 73.4 458.1 73.1 459.2 72.5 460.7 73.0 461.8 73.0 461.2 74.4 461.0 74.8 461.9 75.4 463.5 76.3 464.3 76.3 464.7 74.8 464.8 73.2 465.3 72.0 466.0 74.1 466.6 74.3 467.1 74.8 467.4 76.0 467.7 77.3 468.0 77.4 469.4 78.6 470.5 79.5 470.6 80.5 471.8 81.2 472.0 82.7 472.2 83.4 471.8 84.9 471.1 86.1 470.8 86.7 470.1 87.9 470.0 89.0 468.4 89.3 467.8 90.0 466.8 89.3 466.0 89.9 464.7 89.6 463.8 89.0 463.6 88.4 462.9 87.8 462.9 87.4 462.3 87.6 462.4 86.2 461.3 87.3 461.0 87.3 460.3 86.2 458.9 85.5 457.0 85.3 455.2 85.7 453.9 86.6 452.7 86.7 451.1 87.1 450.2 87.4 448.4 87.0 448.8 86.5 448.8 85.5 448.4 84.0 448.1 83.5 447.4 82.1 447.4 80.8ZM466.6 91.1 468.9 91.2 468.7 92.6 467.8 92.9 467.0 92.0ZM484.0 87.1 485.1 88.0 486.0 89.0 487.6 89.2 487.2 90.1 486.6 90.4 486.2 91.4 485.3 91.4 485.5 90.8 484.7 90.2 485.2 89.3 485.0 88.4ZM484.0 90.9 485.0 91.7 484.4 92.5 484.1 93.0 483.1 93.5 482.7 94.4 481.7 94.8 480.2 94.4 480.3 93.9 481.4 93.2 482.6 92.4 483.3 91.7ZM281.0 53.2 281.6 52.9 281.1 52.4ZM339.5 97.8 341.5 97.8 341.2 98.4 340.0 98.2ZM419.8 96.4 420.9 96.3 420.6 96.8 420.0 96.7ZM470.3 66.9 471.3 67.3 471.8 68.2 471.5 68.2 470.9 67.4ZM472.8 68.5 473.3 68.8 473.7 69.6 473.2 69.6 472.9 69.0ZM474.0 69.7 474.8 70.1 475.5 70.5 475.2 70.6 474.3 70.2ZM475.9 71.1 476.6 71.3 476.5 71.5 476.0 71.3ZM476.5 70.5 477.0 70.9 477.1 71.3 476.7 71.0ZM480.2 74.6 480.6 74.9 480.7 75.6 481.3 76.4 481.6 77.3 481.5 77.4 481.0 76.5 480.3 75.3ZM478.6 78.0 479.2 78.2 480.2 78.9 480.5 79.4 480.2 79.5 479.4 78.9 478.7 78.3ZM486.8 76.3 487.6 76.3 487.5 76.8 486.8 76.7ZM487.6 75.7 488.5 75.5 488.4 75.9 487.8 76.0Z" fill="#d3d3d3" stroke="#777777" stroke-width="0.45" stroke-linejoin="round"/><path d="M395.3 39.1 394.6 38.9 394.3 38.3 394.6 37.8 395.1 37.2 395.7 36.6 396.3 35.7 396.8 35.7 397.4 36.4 398.0 37.0 398.7 37.0 399.3 36.6 399.1 36.2 399.3 35.7 401.1 35.3 400.8 36.1 400.5 36.5 400.7 36.9 401.9 37.6 403.0 38.9 401.9 39.2 399.8 39.0 399.0 38.6 398.0 38.6 396.5 39.1ZM406.7 36.3 406.7 37.3 406.7 38.0 407.2 38.6 407.9 39.5 408.4 39.6 407.6 40.5 407.5 40.8 407.6 41.5 408.8 42.0 410.7 41.8 410.6 40.8 410.3 40.2 410.4 39.2 409.8 38.8 410.0 38.0 408.8 37.0 410.1 36.4 410.1 35.6 408.8 35.4 407.6 35.7Z" fill="#f0f8ff" stroke="#777777" stroke-width="0.45" stroke-linejoin="round"/><path d="M301.2 34.2 318.6 34.2 318.6 33.9 322.0 34.8 325.0 35.7 326.4 38.1 328.6 38.1 330.1 37.3 331.2 36.7 333.2 36.7 333.8 36.3 334.6 35.2 335.4 35.2 335.5 36.3 336.0 36.7M290.3 21.1 290.3 27.0 292.4 27.8 294.0 27.5 295.2 28.5 297.1 29.7 297.1 30.5M305.0 44.6 306.5 44.5 308.8 45.4 310.5 45.4 311.6 45.1 312.8 46.5 313.7 46.8 314.7 46.3 315.9 47.8 317.3 48.8M320.4 56.0 320.5 55.1 321.2 54.3 322.3 54.0 322.8 53.5M322.3 54.0 322.3 55.2 322.9 55.3M321.7 56.6 322.1 56.1 322.7 56.2 323.1 56.8M323.4 57.0 324.9 56.4 326.0 55.7M324.4 58.2 325.7 58.3M326.2 60.1 326.3 59.2M332.4 52.6 333.1 53.6M333.0 57.6 332.6 58.2 332.0 59.4 332.6 60.5 334.1 60.8 335.5 61.2 335.7 62.8 335.8 64.0 336.0 64.5M340.3 59.9 339.4 61.5 339.9 61.9 339.1 62.6 337.3 62.6 337.7 63.7 336.0 64.5M342.0 61.5 341.5 64.3M344.0 61.6 343.9 63.8M339.9 61.9 340.5 63.8 342.8 64.0 343.9 63.8 344.9 63.8 345.5 62.6M336.0 64.5 334.5 64.5 334.2 67.9M334.2 67.9 332.0 65.4 330.9 65.3M330.9 65.3 328.7 64.4M330.9 65.3 328.9 68.4 327.8 67.4M334.2 67.9 332.3 69.9 332.6 71.3 333.8 72.2 334.4 72.2M334.4 72.2 334.9 73.4 334.5 75.1 334.4 76.3 334.4 76.7M334.4 76.7 333.9 76.9M334.4 72.2 337.0 71.5 338.9 73.8 340.1 74.8 341.3 75.6 341.7 76.7 341.4 77.9M334.4 76.7 335.2 78.9 335.9 79.7M335.9 79.7 337.6 79.6 338.6 79.2M338.6 79.2 339.2 77.7 340.9 77.5 341.4 77.9M341.4 77.9 341.7 79.3 342.9 79.4 343.6 81.5M338.6 79.2 340.3 80.5 341.2 82.5 342.8 82.6 343.6 81.5M343.6 81.5 344.1 82.4 342.9 83.3 341.8 84.4M341.8 84.4 343.0 84.8 344.4 86.6M341.8 84.4 341.3 86.6M335.9 79.7 335.1 81.1 334.4 83.3 333.9 85.2 334.1 86.5 333.7 88.4 333.4 90.0 333.0 91.9 333.1 93.5 332.6 95.4 332.1 96.6 332.6 97.6 334.1 98.2 335.1 98.5M376.2 43.0 376.6 44.6 375.2 45.3 372.0 47.0 372.0 47.7M372.0 47.7 369.2 47.7M372.0 47.7 372.0 48.8 369.9 48.8 369.9 50.3 369.3 51.7 366.9 51.7M372.0 48.8 374.4 49.4M374.4 49.4 373.8 55.4 370.2 55.5 369.8 55.9 368.4 54.7 367.2 55.0M374.4 49.4 378.1 52.0 379.3 53.1 379.9 52.9M379.9 52.9 384.8 50.3M384.8 50.3 383.5 49.4 383.5 46.2 383.2 46.0M382.5 41.8 382.5 43.3 382.0 43.8 382.9 44.9 383.2 46.0 384.5 44.2M384.8 50.3 386.0 50.7 386.6 50.7 392.2 52.9M392.2 52.9 392.2 52.6 392.8 52.6 392.8 51.3M392.8 51.3 392.8 46.2 392.9 45.2M392.8 51.3 400.1 51.3M379.9 52.9 379.9 54.5 379.6 55.3 378.0 55.7 377.5 55.8 377.0 55.7 376.1 56.2 375.5 56.6 374.6 57.6 374.0 58.6M386.6 50.7 386.9 52.2 386.9 54.6 385.7 56.6M385.7 56.6 384.8 56.8 383.3 57.1 381.7 57.0 379.9 56.7 379.6 57.8M379.6 57.8 379.0 59.5 379.0 61.2M392.2 52.9 392.2 55.3 391.2 56.4 390.9 57.2 391.5 58.3M391.5 58.3 389.7 59.5 387.2 60.3 386.9 60.5 386.3 58.9 386.6 58.3 386.3 57.1 385.7 56.6M386.3 57.1 386.4 57.6 385.5 58.9 384.8 60.5 384.1 61.1 383.3 61.9 382.7 62.3M391.5 58.3 391.9 59.2 393.7 59.2 395.3 59.0 397.9 58.6 398.5 59.2M401.1 53.8 399.9 56.2 399.9 57.0 399.0 58.1 398.5 59.2M399.9 56.2 401.1 56.0 402.1 56.0 403.6 57.3M403.6 57.3 403.3 58.3 403.9 58.3 404.5 59.5 407.0 60.2 405.1 62.1 403.3 62.7 402.7 62.7M402.7 62.7 402.7 63.5 402.7 66.3M402.7 62.7 401.7 63.0 399.5 62.3 398.7 62.1 397.7 60.3 398.5 59.2M398.7 62.1 396.5 62.9 395.6 62.4 394.3 62.1 392.8 62.1 391.2 62.6 389.4 62.1 388.8 63.0M394.3 62.1 392.8 60.5 391.9 59.2M388.8 63.0 388.2 65.9 387.2 66.8 386.7 68.0 385.1 68.4M383.4 63.8 384.3 63.8 385.6 63.8 387.2 64.0 387.4 63.0 386.6 62.4 386.3 61.1 386.9 60.5M388.8 63.0 387.4 63.0M385.6 63.8 386.3 65.9 386.0 66.8 384.5 67.5M384.9 69.0 387.5 70.0 388.2 70.3 389.3 69.9 390.8 69.9 390.9 71.6 392.2 72.2 392.2 73.5M392.2 73.5 390.9 73.5 390.9 75.5 391.9 76.5M384.6 76.2 385.7 76.3 388.8 76.3 390.3 76.7 391.9 76.5M392.2 72.2 393.4 72.7 394.6 73.2 395.6 73.0 394.9 71.3 396.2 70.5M398.7 62.1 398.3 62.5 395.9 64.6 395.6 66.1 395.3 67.0 395.4 68.1 395.6 69.4 396.2 70.5M398.3 62.5 399.0 64.1 398.3 65.1 398.3 65.9M398.3 65.9 400.5 67.5 401.6 68.2M395.6 66.1 398.3 65.9M396.2 70.5 397.7 71.2 398.9 72.6 400.5 72.6 402.3 71.9M397.7 71.2 398.0 72.9 397.4 74.1 396.0 75.1M398.0 74.4 399.1 76.1 399.0 74.1 398.9 72.6M391.9 76.5 393.0 76.5 394.6 75.7 396.0 75.1M396.0 75.1 397.7 75.8 397.5 77.6 397.4 78.6 396.7 79.5M393.0 76.5 393.4 77.3 394.3 78.2 395.3 79.3 396.7 79.5M390.3 76.7 390.3 79.2 389.7 79.2 389.7 81.0M389.7 81.0 390.0 82.2 391.4 81.4 393.1 81.5 393.9 80.8 395.3 79.3M389.7 81.0 389.7 83.3 387.5 83.4M396.7 79.5 397.1 80.8 397.1 81.7 397.7 82.3M394.0 84.0 394.9 83.4 395.5 83.9 394.8 84.7 394.0 84.0M369.8 55.9 370.3 57.4M367.0 57.4 368.9 57.3 370.3 57.4 372.2 58.1 372.3 58.9 372.5 59.9M369.1 59.0 370.3 59.9 371.0 59.9 370.2 60.9M372.2 58.1 374.0 58.6 375.5 58.4 375.6 58.3 377.4 58.3M375.6 58.3 375.7 59.2 375.4 62.0M372.5 59.9 372.1 60.5 372.7 62.5M377.4 58.3 377.7 60.2 378.1 61.4M377.9 58.3 378.3 61.3M377.5 55.8 378.6 57.1 378.8 57.7 379.6 57.8M367.0 56.6 368.8 56.7 368.1 56.9 367.0 56.9M398.9 46.5 398.5 45.4M399.0 46.6 400.2 46.3 400.8 45.3 401.6 44.8M403.5 41.7 402.9 43.4 401.3 44.1M401.6 44.8 403.3 45.6 405.0 46.7 406.1 46.8 406.8 47.2M407.3 46.2 406.8 45.3 406.4 44.3 405.8 43.0 405.4 42.1 405.0 41.6M399.6 42.4 400.0 41.9 402.1 41.9 403.5 41.7 405.0 41.6M405.0 41.6 404.7 40.8 404.8 40.3 404.1 39.1 403.0 38.9M399.5 44.4 399.9 44.8 401.3 44.1 399.9 43.3 399.5 43.0M402.0 37.7 403.3 37.8 404.5 38.2 406.1 38.7 407.2 38.7M403.8 54.8 404.8 54.2 406.4 54.5 409.5 53.2 411.3 52.6 411.7 51.0M409.5 53.2 410.1 54.7M409.2 49.8 409.8 50.7 411.7 51.0 411.9 49.7 412.2 48.8M415.1 42.7 415.0 43.5 414.9 45.3 415.4 45.3M415.4 45.3 416.1 46.5 415.3 47.1 416.1 48.1 415.4 49.3M410.6 41.6 412.7 41.1 413.8 41.5 414.9 42.1 415.1 42.7M415.1 42.7 416.2 42.9 417.2 42.2 418.4 41.5 419.3 41.8 420.6 41.5 421.5 41.2 423.6 41.6M415.0 46.3 416.9 46.5 418.4 46.3 420.1 45.0 421.1 43.7 421.3 42.4 423.4 41.8M419.5 50.2 420.6 49.8 421.2 49.1 420.6 47.6 422.1 46.2 423.4 45.5 423.9 44.7 423.4 43.4 425.4 42.7M423.6 41.6 425.4 42.7 426.1 43.7 426.3 44.6 426.8 45.8 427.7 46.1 429.2 46.8 431.7 47.5 432.3 47.5 434.2 47.6 435.4 46.8 437.2 47.3M426.8 47.0 429.2 47.9 431.8 48.4 431.7 47.5M426.8 47.0 426.9 46.0M431.8 48.4 432.3 49.1 434.2 49.3 434.5 50.3 434.5 51.7M431.9 49.5 432.2 51.1M437.2 47.3 436.0 48.4 435.7 49.7 435.1 50.3 434.9 51.2 434.5 51.7M437.2 47.3 438.2 47.8 437.7 49.4 438.5 51.2 439.8 51.5M439.8 51.5 440.5 51.0 442.4 50.5 443.2 50.8 444.0 51.5M439.2 52.3 438.2 52.7 437.6 53.5 438.4 54.9 438.0 55.6 438.6 57.2 438.2 58.9M439.2 52.3 439.8 52.9 439.8 54.0 441.9 54.2 442.6 55.2 442.6 56.2M442.6 56.2 441.0 56.2 440.7 57.5M440.5 51.0 441.6 52.0 442.3 53.2 443.1 54.3 443.8 55.4 443.7 56.0M442.6 56.2 443.7 56.0 443.0 57.8 441.9 58.6M439.3 61.1 440.3 61.3M439.8 51.5 439.2 52.3M431.6 34.0 433.0 35.0 433.5 36.6 435.1 36.8 436.8 38.2 439.6 38.2 442.2 38.9 445.5 38.1 446.4 37.5 446.3 36.6 447.7 36.4 449.4 35.8 451.4 35.6 450.2 34.9 449.4 33.7M431.6 34.0 434.2 33.1 437.9 32.3 440.3 32.7 442.8 33.3 444.3 34.0 447.7 33.4 449.4 33.7M449.4 33.7 451.5 31.9 453.3 31.3 455.5 31.9 456.1 33.7 458.2 35.0 460.5 34.7 459.5 36.6 458.4 38.0 458.0 38.3M458.0 38.3 457.0 38.6 456.4 38.9 455.2 39.3 454.1 39.9M455.2 41.3 455.8 40.9 456.6 40.8M431.3 34.0 430.1 35.4 428.3 35.4 428.3 36.4 426.8 36.7 426.9 38.5M426.9 38.5 424.3 39.6 423.0 40.2 423.6 41.6M431.3 34.0 429.8 33.2 428.6 32.9 426.8 33.0 424.9 31.4 422.7 31.0 420.6 30.2 417.5 30.6 415.3 31.0 415.0 32.3 413.5 32.9 411.3 33.1 409.5 32.5 408.2 32.7 407.3 33.8 406.1 34.4 406.4 35.4 407.6 35.8M410.1 38.6 411.9 39.0 411.9 36.7 413.5 36.4 415.0 37.1 415.6 37.7 417.2 37.6 418.1 38.6 419.6 39.4 421.2 38.4 423.0 37.8 426.9 38.5M411.9 39.0 413.6 38.2 414.4 38.6 415.3 39.1 415.9 40.2 417.2 40.9 418.4 41.5M419.6 39.4 420.9 39.7 422.4 40.3 423.0 40.2M419.2 41.6 419.6 40.4 420.9 39.7M400.9 35.4 402.1 34.8 402.1 33.8 400.8 33.5 399.3 33.3 398.3 32.4 397.1 32.2 396.8 31.3 397.5 31.1 396.5 29.7 394.8 29.6 394.5 28.8 394.3 28.4 394.6 27.6M394.6 26.9 395.6 26.2 396.8 25.3 395.9 24.6 395.9 22.4 395.3 21.5 396.5 21.0M395.3 21.5 393.4 21.0 392.5 21.7 390.3 21.4M390.3 21.4 392.0 22.1 392.3 23.5M390.3 21.4 388.5 21.8 387.2 22.4 386.3 23.4 385.7 24.3 384.9 25.3 385.1 26.6 384.5 27.6 384.3 27.9M391.9 32.6 394.0 32.5 396.2 32.6 397.1 32.2M391.9 32.6 391.9 31.6 391.9 31.1M391.9 32.6 392.2 33.3 391.3 34.1M391.3 34.1 389.1 33.9 387.5 33.3 386.6 32.9M386.6 32.9 386.4 31.9 386.1 31.1M391.9 31.1 392.8 30.9 393.8 29.9 394.8 29.6M390.3 29.7 393.8 29.9M392.4 28.5 394.3 28.7M389.5 30.7 391.4 30.7 390.5 30.2M391.3 34.1 391.4 34.7 392.5 34.9 393.8 34.6 394.6 34.7 395.9 35.8 395.7 36.5M393.8 34.6 394.8 35.7 394.8 36.4M391.4 34.7 390.3 35.9 391.2 37.0 391.6 37.5 394.3 37.3 395.0 37.5M391.2 37.2 391.2 38.0 391.6 39.0 393.5 38.8 394.6 38.6M393.5 38.8 393.4 39.4M391.6 39.0 390.3 39.3 389.8 40.1M390.9 34.5 389.0 34.9 387.8 34.8M376.2 37.7 377.8 38.1 379.3 38.3M378.9 32.8 379.9 33.6 380.9 33.8 382.4 34.2 382.0 35.1M382.0 35.1 381.1 35.9 381.7 36.2 381.4 37.2 382.0 37.5M371.9 38.6 372.3 38.6 373.5 38.9 373.0 40.1 372.8 40.8 372.8 41.6M381.8 31.5 381.1 32.4 381.2 33.2 381.2 33.8M379.9 32.6 380.9 32.8 381.1 33.1M382.7 30.4 383.3 30.5M386.5 33.0 384.9 33.3 385.9 34.4 385.4 35.1 383.6 35.2 382.0 35.1M381.6 36.1 382.6 35.9 383.8 35.7 383.8 35.5 384.8 35.4 385.8 35.7 385.7 36.3M385.9 34.4 386.6 34.2 387.8 34.5 387.5 35.1 387.2 35.6M387.2 35.6 387.8 36.1 389.1 36.1 389.9 35.9 390.3 35.9M387.0 36.6 387.5 36.6 389.3 36.7 389.3 37.3 388.8 38.3M389.3 37.3 390.3 37.8 391.2 38.0M389.4 38.9 390.0 38.5 390.3 38.5 391.2 38.4 391.6 39.0" fill="none" stroke="#8f8f8f" stroke-width="0.4" stroke-linejoin="round"/><line x1="303.25" y1="14.5" x2="303.25" y2="103.3" stroke="#d3d9df" stroke-width="0.5" stroke-opacity="0.75"/><line x1="340.30" y1="14.5" x2="340.30" y2="103.3" stroke="#d3d9df" stroke-width="0.5" stroke-opacity="0.75"/><line x1="377.35" y1="14.5" x2="377.35" y2="103.3" stroke="#d3d9df" stroke-width="0.5" stroke-opacity="0.75"/><line x1="414.40" y1="14.5" x2="414.40" y2="103.3" stroke="#d3d9df" stroke-width="0.5" stroke-opacity="0.75"/><line x1="451.45" y1="14.5" x2="451.45" y2="103.3" stroke="#d3d9df" stroke-width="0.5" stroke-opacity="0.75"/><line x1="266.2" y1="27.19" x2="488.5" y2="27.19" stroke="#d3d9df" stroke-width="0.5" stroke-opacity="0.75"/><line x1="266.2" y1="39.87" x2="488.5" y2="39.87" stroke="#d3d9df" stroke-width="0.5" stroke-opacity="0.75"/><line x1="266.2" y1="52.56" x2="488.5" y2="52.56" stroke="#d3d9df" stroke-width="0.5" stroke-opacity="0.75"/><line x1="266.2" y1="65.24" x2="488.5" y2="65.24" stroke="#d3d9df" stroke-width="0.5" stroke-opacity="0.75"/><line x1="266.2" y1="77.93" x2="488.5" y2="77.93" stroke="#d3d9df" stroke-width="0.5" stroke-opacity="0.75"/><line x1="266.2" y1="90.61" x2="488.5" y2="90.61" stroke="#d3d9df" stroke-width="0.5" stroke-opacity="0.75"/><circle cx="308.5" cy="29.4" r="1.3" fill="#ffb200"/><circle cx="303.2" cy="36.0" r="1.3" fill="#0000ff"/><circle cx="305.0" cy="35.8" r="1.3" fill="#ffd700"/><circle cx="307.7" cy="33.9" r="1.3" fill="#29ffce"/><circle cx="308.6" cy="36.6" r="1.3" fill="#0080ff"/><circle cx="305.7" cy="37.7" r="1.3" fill="#0060ff"/><circle cx="303.2" cy="40.0" r="1.3" fill="#00c4ff"/><circle cx="302.3" cy="42.3" r="1.3" fill="#0060ff"/><circle cx="303.7" cy="43.4" r="1.3" fill="#19ffde"/><circle cx="311.4" cy="43.6" r="1.3" fill="#0018ff"/><circle cx="313.7" cy="39.6" r="1.3" fill="#19ffde"/><circle cx="315.2" cy="35.4" r="1.3" fill="#29ffce"/><circle cx="317.1" cy="34.8" r="1.3" fill="#00e4f8"/><circle cx="318.0" cy="37.7" r="1.3" fill="#a4ff53"/><circle cx="319.6" cy="38.7" r="1.3" fill="#ff1a00"/><circle cx="317.8" cy="40.7" r="1.3" fill="#29ffce"/><circle cx="316.8" cy="42.2" r="1.3" fill="#ffb200"/><circle cx="322.7" cy="39.9" r="1.3" fill="#6aff8d"/><circle cx="325.4" cy="39.9" r="1.3" fill="#0080ff"/><circle cx="325.2" cy="42.6" r="1.3" fill="#f8f500"/><circle cx="325.2" cy="44.3" r="1.3" fill="#7dff7a"/><circle cx="328.0" cy="37.2" r="1.3" fill="#53ffa4"/><circle cx="318.4" cy="46.6" r="1.3" fill="#53ffa4"/><circle cx="333.0" cy="36.7" r="1.3" fill="#beff39"/><circle cx="332.6" cy="39.3" r="1.3" fill="#004cff"/><circle cx="330.9" cy="41.4" r="1.3" fill="#0000f1"/><circle cx="329.8" cy="40.3" r="1.3" fill="#00b0ff"/><circle cx="329.9" cy="42.2" r="1.3" fill="#53ffa4"/><circle cx="316.0" cy="53.0" r="1.3" fill="#53ffa4"/><circle cx="319.7" cy="54.6" r="1.3" fill="#7dff7a"/><circle cx="335.7" cy="53.5" r="1.3" fill="#00b0ff"/><circle cx="332.0" cy="59.0" r="1.3" fill="#53ffa4"/><circle cx="340.2" cy="67.0" r="1.3" fill="#0060ff"/><circle cx="335.3" cy="71.5" r="1.3" fill="#29ffce"/><circle cx="338.8" cy="72.2" r="1.3" fill="#00c4ff"/><circle cx="342.7" cy="71.3" r="1.3" fill="#ff6800"/><circle cx="342.8" cy="75.1" r="1.3" fill="#00b0ff"/><circle cx="338.3" cy="76.2" r="1.3" fill="#004cff"/><circle cx="333.8" cy="76.8" r="1.3" fill="#0018ff"/><circle cx="343.7" cy="78.2" r="1.3" fill="#39ffbe"/><circle cx="348.6" cy="80.0" r="1.3" fill="#7dff7a"/><circle cx="333.5" cy="86.0" r="1.3" fill="#29ffce"/><circle cx="361.9" cy="54.5" r="1.3" fill="#ceff29"/><circle cx="394.3" cy="31.0" r="1.3" fill="#0060ff"/><circle cx="400.5" cy="30.1" r="1.3" fill="#009cff"/><circle cx="396.4" cy="33.3" r="1.3" fill="#00b0ff"/><circle cx="390.3" cy="32.4" r="1.3" fill="#ff7a00"/><circle cx="379.1" cy="32.6" r="1.3" fill="#00b0ff"/><circle cx="380.9" cy="32.4" r="1.3" fill="#b60000"/><circle cx="382.7" cy="33.3" r="1.3" fill="#29ffce"/><circle cx="384.8" cy="32.8" r="1.3" fill="#b60000"/><circle cx="384.8" cy="34.2" r="1.3" fill="#b60000"/><circle cx="378.8" cy="34.7" r="1.3" fill="#deff19"/><circle cx="390.5" cy="36.2" r="1.3" fill="#da0000"/><circle cx="393.2" cy="37.0" r="1.3" fill="#00b0ff"/><circle cx="395.5" cy="35.1" r="1.3" fill="#29ffce"/><circle cx="380.9" cy="37.0" r="1.3" fill="#53ffa4"/><circle cx="382.3" cy="37.9" r="1.3" fill="#0060ff"/><circle cx="384.5" cy="36.5" r="1.3" fill="#7dff7a"/><circle cx="385.4" cy="38.3" r="1.3" fill="#53ffa4"/><circle cx="386.4" cy="39.7" r="1.3" fill="#53ffa4"/><circle cx="389.1" cy="39.7" r="1.3" fill="#00b0ff"/><circle cx="391.8" cy="39.2" r="1.3" fill="#009cff"/><circle cx="378.6" cy="39.2" r="1.3" fill="#53ffa4"/><circle cx="376.3" cy="40.6" r="1.3" fill="#53ffa4"/><circle cx="372.7" cy="40.6" r="1.3" fill="#53ffa4"/><circle cx="374.5" cy="42.3" r="1.3" fill="#7dff7a"/><circle cx="379.1" cy="42.4" r="1.3" fill="#53ffa4"/><circle cx="384.1" cy="42.4" r="1.3" fill="#ffd700"/><circle cx="383.8" cy="44.4" r="1.3" fill="#ff9400"/><circle cx="391.8" cy="41.7" r="1.3" fill="#ffb200"/><circle cx="372.3" cy="45.4" r="1.3" fill="#53ffa4"/><circle cx="367.2" cy="47.3" r="1.3" fill="#deff19"/><circle cx="398.7" cy="42.0" r="1.3" fill="#ff6800"/><circle cx="398.2" cy="43.4" r="1.3" fill="#7dff7a"/><circle cx="397.3" cy="45.6" r="1.3" fill="#53ffa4"/><circle cx="400.1" cy="44.3" r="1.3" fill="#53ffa4"/><circle cx="394.7" cy="48.2" r="1.3" fill="#b60000"/><circle cx="380.9" cy="51.1" r="1.3" fill="#7dff7a"/><circle cx="366.9" cy="56.0" r="1.3" fill="#b60000"/><circle cx="373.8" cy="56.8" r="1.3" fill="#deff19"/><circle cx="376.3" cy="55.4" r="1.3" fill="#a4ff53"/><circle cx="379.2" cy="56.8" r="1.3" fill="#ffb200"/><circle cx="383.2" cy="56.6" r="1.3" fill="#ff1a00"/><circle cx="384.9" cy="57.1" r="1.3" fill="#ff1a00"/><circle cx="376.5" cy="57.5" r="1.3" fill="#8dff6a"/><circle cx="378.8" cy="59.2" r="1.3" fill="#29ffce"/><circle cx="380.3" cy="60.0" r="1.3" fill="#19ffde"/><circle cx="374.0" cy="61.1" r="1.3" fill="#8dff6a"/><circle cx="377.2" cy="61.4" r="1.3" fill="#19ffde"/><circle cx="383.7" cy="61.7" r="1.3" fill="#19ffde"/><circle cx="384.4" cy="65.5" r="1.3" fill="#53ffa4"/><circle cx="395.7" cy="67.4" r="1.3" fill="#53ffa4"/><circle cx="386.9" cy="73.0" r="1.3" fill="#0038ff"/><circle cx="392.3" cy="72.0" r="1.3" fill="#ffb200"/><circle cx="396.7" cy="71.7" r="1.3" fill="#0080ff"/><circle cx="401.4" cy="51.1" r="1.3" fill="#53ffa4"/><circle cx="385.2" cy="74.8" r="1.3" fill="#004cff"/><circle cx="391.8" cy="74.8" r="1.3" fill="#0060ff"/><circle cx="386.9" cy="77.1" r="1.3" fill="#0018ff"/><circle cx="392.0" cy="77.9" r="1.3" fill="#b60000"/><circle cx="389.2" cy="78.8" r="1.3" fill="#004cff"/><circle cx="387.7" cy="80.0" r="1.3" fill="#0038ff"/><circle cx="386.3" cy="80.0" r="1.3" fill="#deff19"/><circle cx="394.9" cy="81.4" r="1.3" fill="#deff19"/><circle cx="397.5" cy="81.7" r="1.3" fill="#0080ff"/><circle cx="419.8" cy="41.0" r="1.3" fill="#beff39"/><circle cx="406.4" cy="46.8" r="1.3" fill="#ff1a00"/><circle cx="406.4" cy="49.7" r="1.3" fill="#ffb200"/><circle cx="412.1" cy="48.8" r="1.3" fill="#7dff7a"/><circle cx="411.0" cy="49.5" r="1.3" fill="#deff19"/><circle cx="410.7" cy="51.1" r="1.3" fill="#ff3800"/><circle cx="418.9" cy="49.5" r="1.3" fill="#b60000"/><circle cx="423.4" cy="45.1" r="1.3" fill="#00e4f8"/><circle cx="424.3" cy="47.4" r="1.3" fill="#00e4f8"/><circle cx="425.7" cy="47.0" r="1.3" fill="#29ffce"/><circle cx="427.3" cy="48.2" r="1.3" fill="#00b0ff"/><circle cx="429.8" cy="47.5" r="1.3" fill="#004cff"/><circle cx="426.7" cy="48.8" r="1.3" fill="#00e4f8"/><circle cx="423.1" cy="53.4" r="1.3" fill="#004cff"/><circle cx="425.0" cy="57.9" r="1.3" fill="#004cff"/><circle cx="433.2" cy="50.4" r="1.3" fill="#0080ff"/><circle cx="435.7" cy="47.8" r="1.3" fill="#00b0ff"/><circle cx="437.0" cy="50.8" r="1.3" fill="#004cff"/><circle cx="439.0" cy="52.4" r="1.3" fill="#a4ff53"/><circle cx="438.5" cy="53.6" r="1.3" fill="#53ffa4"/><circle cx="441.2" cy="51.5" r="1.3" fill="#00b0ff"/><circle cx="442.9" cy="51.9" r="1.3" fill="#0080ff"/><circle cx="444.3" cy="52.2" r="1.3" fill="#39ffbe"/><circle cx="440.2" cy="54.3" r="1.3" fill="#0080ff"/><circle cx="441.2" cy="56.3" r="1.3" fill="#b60000"/><circle cx="442.5" cy="55.8" r="1.3" fill="#da0000"/><circle cx="442.9" cy="59.3" r="1.3" fill="#53ffa4"/><circle cx="439.2" cy="60.4" r="1.3" fill="#deff19"/><circle cx="447.9" cy="50.8" r="1.3" fill="#b60000"/><circle cx="449.8" cy="52.3" r="1.3" fill="#29ffce"/><circle cx="451.8" cy="50.8" r="1.3" fill="#004cff"/><circle cx="452.5" cy="49.2" r="1.3" fill="#7dff7a"/><circle cx="451.6" cy="45.3" r="1.3" fill="#29ffce"/><circle cx="452.2" cy="55.9" r="1.3" fill="#beff39"/><circle cx="439.2" cy="62.0" r="1.3" fill="#0080ff"/><circle cx="441.8" cy="64.6" r="1.3" fill="#53ffa4"/><circle cx="443.2" cy="69.4" r="1.3" fill="#39ffbe"/><circle cx="448.3" cy="66.6" r="1.3" fill="#00c4ff"/><circle cx="458.2" cy="72.8" r="1.3" fill="#00b0ff"/><circle cx="459.9" cy="73.2" r="1.3" fill="#53ffa4"/><circle cx="456.8" cy="75.8" r="1.3" fill="#7dff7a"/><circle cx="441.7" cy="42.6" r="1.3" fill="#0060ff"/><circle cx="445.2" cy="41.0" r="1.3" fill="#29ffce"/><circle cx="449.8" cy="39.8" r="1.3" fill="#0080ff"/><circle cx="457.4" cy="26.2" r="1.3" fill="#0018ff"/><circle cx="429.5" cy="29.8" r="1.3" fill="#0018ff"/><circle cx="459.2" cy="37.5" r="1.3" fill="#ff9400"/><circle cx="465.1" cy="38.0" r="1.3" fill="#0060ff"/><circle cx="454.2" cy="41.1" r="1.3" fill="#004cff"/><circle cx="455.9" cy="41.8" r="1.3" fill="#0018ff"/><circle cx="455.1" cy="44.6" r="1.3" fill="#29ffce"/><circle cx="457.3" cy="42.9" r="1.3" fill="#29ffce"/><circle cx="458.6" cy="44.4" r="1.3" fill="#ff9400"/><circle cx="461.2" cy="43.7" r="1.3" fill="#004cff"/><circle cx="462.7" cy="41.9" r="1.3" fill="#0038ff"/><circle cx="464.1" cy="41.5" r="1.3" fill="#0060ff"/><circle cx="464.5" cy="42.9" r="1.3" fill="#29ffce"/><circle cx="422.8" cy="60.9" r="1.3" fill="#ffb200"/></g><rect x="266.2" y="14.5" width="222.3" height="88.8" fill="none" stroke="#c8c8c8" stroke-width="0.6"/><text x="313.6" y="10.4" font-weight="bold" font-size="7.3" textLength="127.6" lengthAdjust="spacingAndGlyphs">(b) AERONET Level2 Products Residual</text><text x="264.0" y="28.8" text-anchor="end" class="tk">60°N</text><text x="264.0" y="41.5" text-anchor="end" class="tk">40°N</text><text x="264.0" y="54.2" text-anchor="end" class="tk">20°N</text><text x="264.0" y="66.8" text-anchor="end" class="tk">0°</text><text x="264.0" y="79.5" text-anchor="end" class="tk">20°S</text><text x="264.0" y="92.2" text-anchor="end" class="tk">40°S</text><text x="266.2" y="109.8" text-anchor="middle" class="tk">180°</text><text x="303.2" y="109.8" text-anchor="middle" class="tk">120°W</text><text x="340.3" y="109.8" text-anchor="middle" class="tk">60°W</text><text x="377.4" y="109.8" text-anchor="middle" class="tk">0°W</text><text x="414.4" y="109.8" text-anchor="middle" class="tk">60°E</text><text x="451.5" y="109.8" text-anchor="middle" class="tk">120°E</text><text x="488.5" y="109.8" text-anchor="middle" class="tk">180°</text><rect x="288.2" y="115.1" width="178.4" height="4.5" fill="url(#g_jet)"/><text x="288.2" y="127.5" text-anchor="middle" class="tk">6</text><text x="323.9" y="127.5" text-anchor="middle" class="tk">8</text><text x="359.6" y="127.5" text-anchor="middle" class="tk">10</text><text x="395.2" y="127.5" text-anchor="middle" class="tk">12</text><text x="430.9" y="127.5" text-anchor="middle" class="tk">14</text><text x="466.6" y="127.5" text-anchor="middle" class="tk">16 %</text><g clip-path="url(#clip_c)"><rect x="21.3" y="143.7" width="222.3" height="88.8" fill="#f0f8ff"/><path d="M28.6 152.8 31.2 152.3 32.4 152.0 31.5 151.3 29.5 151.1 29.8 150.7 32.5 149.9 35.8 149.2 38.6 149.5 40.8 149.9 44.1 150.0 45.4 150.3 48.5 150.7 49.7 150.4 53.4 149.7 55.9 150.4 60.2 150.7 63.3 151.4 65.8 151.6 69.5 151.4 71.9 151.3 73.8 150.4 74.1 148.8 75.6 150.0 76.9 151.0 79.3 150.4 81.8 150.4 81.8 151.9 79.3 152.3 79.0 152.3 78.1 153.8 76.4 154.3 74.4 155.8 74.3 157.1 75.6 158.3 78.1 158.9 81.6 159.5 82.7 161.8 83.7 161.8 83.7 160.2 85.2 158.6 84.9 156.4 84.3 154.9 86.8 154.9 89.2 155.8 89.5 157.0 90.8 157.3 92.3 156.2 92.6 156.2 94.2 158.0 95.1 159.2 96.9 160.2 98.1 161.3 97.3 161.8 95.4 162.6 92.9 162.6 91.1 163.0 89.5 164.0 91.4 163.2 92.6 163.4 92.3 164.3 92.6 165.1 94.5 165.5 95.4 165.3 95.4 165.5 93.2 166.2 91.8 166.9 91.7 166.2 92.6 165.7 91.1 165.9 89.2 166.7 88.7 167.3 89.2 167.9 88.3 168.2 86.8 168.7 86.8 169.4 86.1 169.8 86.0 170.3 85.5 171.0 85.8 172.1 84.3 172.9 83.4 173.5 82.4 174.1 82.2 175.1 82.7 176.4 83.1 177.5 82.8 178.5 82.0 178.0 81.4 177.0 81.3 176.0 80.6 175.4 79.3 175.2 77.5 175.2 77.4 176.0 76.3 175.9 74.4 175.7 72.6 176.8 72.2 178.0 72.2 179.2 72.3 180.8 73.1 182.3 74.1 182.9 75.9 182.7 76.6 181.9 76.7 181.1 78.7 180.8 78.4 182.1 77.9 183.3 77.8 184.4 79.3 184.4 81.1 184.9 80.9 186.8 80.8 187.5 81.5 188.4 83.1 188.5 84.6 189.0 84.3 189.9 84.1 189.2 83.4 188.8 82.7 189.8 81.8 189.2 80.1 188.3 79.5 187.5 78.4 186.2 77.5 185.9 75.9 185.6 75.5 185.2 74.4 184.3 72.9 184.5 71.6 184.1 70.1 183.5 68.5 182.8 67.3 181.8 67.4 180.7 66.7 179.7 65.8 178.6 64.8 177.6 64.2 176.7 63.2 175.7 61.7 174.4 61.7 175.4 62.8 176.7 63.9 178.0 64.5 179.2 64.9 179.8 64.3 179.6 63.3 178.7 62.1 177.4 61.4 176.8 61.7 176.4 60.8 175.1 60.1 173.8 59.3 172.9 58.0 172.5 57.2 171.2 56.8 170.5 56.0 169.2 55.7 168.8 55.8 167.8 55.9 165.1 55.4 163.7 56.5 163.9 56.8 163.5 56.2 163.0 55.3 162.5 53.7 162.1 53.1 161.1 52.2 159.9 51.6 159.6 50.0 158.0 48.8 157.3 47.5 157.1 46.1 156.5 44.8 156.4 43.5 156.4 42.0 155.9 41.1 156.4 39.5 156.8 38.7 156.9 39.5 155.6 38.0 156.7 37.4 157.3 35.8 158.3 34.3 159.0 32.1 159.6 30.7 159.9 32.1 159.2 33.7 158.5 35.2 157.5 35.5 157.1 34.3 157.1 32.4 157.3 31.2 156.4 30.3 155.4 30.6 154.7 33.0 154.2 32.7 153.6 30.6 153.5 29.6 153.3ZM84.6 189.0 85.5 188.5 85.8 187.8 86.4 187.5 87.5 187.1 88.2 186.6 88.3 187.3 89.1 187.1 89.2 186.8 90.2 187.8 91.1 187.7 92.9 187.7 94.2 187.7 94.8 188.4 95.4 189.1 96.6 190.0 97.3 190.6 98.5 190.6 99.7 190.9 100.3 191.3 101.0 191.9 101.6 193.3 101.6 194.4 102.5 195.1 105.0 196.0 106.6 196.3 108.4 196.7 108.7 196.8 110.2 197.6 110.7 197.9 110.9 199.5 110.4 200.6 108.7 202.7 108.4 204.3 108.2 205.7 107.4 207.4 106.5 209.0 105.8 209.0 104.4 209.5 103.9 209.7 102.5 210.9 102.5 211.9 101.8 213.0 101.0 214.1 100.0 215.4 99.5 215.9 98.5 216.6 97.7 216.6 96.7 216.2 96.4 216.4 97.1 217.3 97.4 217.6 96.9 218.5 94.0 219.1 94.0 220.1 92.3 220.4 93.1 221.5 92.3 221.7 92.0 223.0 90.8 223.6 91.8 224.8 90.6 225.8 89.8 227.2 90.2 227.7 88.9 228.1 88.0 228.4 86.4 227.7 85.8 225.5 85.8 223.9 86.8 222.4 86.8 221.7 87.1 220.8 86.9 218.5 87.2 217.9 87.9 216.6 88.2 215.4 88.3 213.5 88.4 212.2 88.9 210.3 89.0 209.0 89.1 207.1 89.0 206.1 88.3 205.4 86.1 204.3 85.3 203.0 84.8 202.1 83.9 200.2 83.2 198.9 82.2 198.2 82.2 197.4 82.9 196.6 83.1 196.0 82.5 195.8 82.7 194.8 83.1 193.9 83.8 193.5 84.6 192.2 84.8 191.9 84.7 190.3 84.3 189.9ZM90.1 227.8 90.8 228.4 92.2 229.1 91.4 229.4 90.2 229.6 88.6 229.3 87.1 228.3 88.6 228.6 89.2 228.1ZM152.4 174.6 151.6 174.4 150.9 174.7 149.1 174.5 148.0 174.4 147.3 174.1 146.7 173.8 145.4 173.6 144.8 174.1 144.2 175.2 143.3 174.8 142.0 174.5 141.8 173.9 140.6 173.6 139.6 173.4 139.1 173.1 138.7 172.9 139.1 172.4 139.3 172.1 139.3 170.9 138.7 171.1 138.6 170.8 137.8 171.0 137.3 171.0 135.5 171.2 134.3 171.1 133.1 171.3 132.1 171.8 131.2 172.2 130.6 172.1 129.2 171.7 128.8 171.7 128.3 172.9 127.8 173.1 126.8 173.8 126.4 174.5 126.5 175.2 126.2 175.9 125.0 176.7 124.5 176.7 123.5 177.9 122.6 179.4 122.0 181.0 122.4 182.1 122.6 183.0 122.3 184.2 121.6 185.1 122.1 185.9 122.1 186.1 122.4 186.8 123.2 187.5 123.8 188.1 124.0 188.4 124.3 189.1 125.0 189.8 125.3 190.1 126.6 191.0 127.8 191.7 129.4 191.1 130.0 191.1 131.2 191.4 132.5 190.9 133.2 190.6 134.5 190.4 135.5 191.0 136.2 191.7 136.8 191.7 137.7 191.5 138.3 192.0 138.5 192.9 138.3 193.8 137.8 194.8 138.3 196.0 139.2 196.7 139.7 197.5 140.0 198.2 140.5 199.5 140.6 200.0 141.0 201.4 140.7 202.4 140.0 204.0 139.7 205.4 140.0 206.2 140.8 207.6 141.4 209.0 141.8 211.3 142.0 211.9 142.6 212.6 143.3 214.1 143.7 215.1 143.5 215.4 143.8 216.0 144.8 216.5 146.0 216.1 148.3 216.0 149.7 215.4 151.0 214.3 151.6 213.4 152.5 212.5 152.6 210.9 153.1 210.6 154.4 209.7 154.3 208.1 154.0 207.0 155.2 205.8 156.5 204.9 157.5 204.0 157.5 202.4 157.5 201.1 157.0 199.5 156.7 198.8 156.7 197.6 157.0 197.0 157.3 196.2 158.1 195.5 158.7 194.7 160.4 193.2 161.5 191.9 162.4 191.0 163.2 189.4 163.8 187.8 164.1 187.0 162.7 187.3 160.2 187.8 159.1 187.1 159.2 186.5 158.4 185.6 156.8 184.5 156.2 183.0 155.4 182.0 155.2 180.5 154.4 179.3 153.4 177.6 152.8 176.4 152.6 175.5 153.6 176.8 154.0 175.7 153.6 174.6ZM162.9 202.1 163.6 204.3 163.2 205.2 162.4 207.4 161.8 210.2 160.4 210.6 159.6 210.2 159.2 208.4 159.9 207.1 159.6 205.2 160.9 204.5 162.1 203.3ZM154.0 175.7 154.4 177.0 155.3 178.6 155.9 179.2 156.7 180.8 157.6 182.4 158.7 184.0 159.0 185.2 159.3 186.4 160.2 186.3 162.1 185.6 162.7 185.2 164.6 184.4 165.8 183.7 166.7 183.2 167.5 182.5 168.1 181.9 169.4 180.2 168.6 179.5 167.6 179.2 167.3 177.7 167.0 178.3 166.6 178.4 165.2 179.1 164.3 179.0 164.3 178.0 164.1 177.9 163.8 178.7 163.4 177.8 163.0 177.3 162.1 175.9 162.6 175.4 163.5 175.9 163.8 176.1 164.9 177.1 166.3 177.6 167.2 177.2 167.8 178.0 168.9 178.3 169.9 178.4 170.9 178.5 172.3 178.5 173.8 178.7 174.1 179.2 174.7 179.5 175.1 180.2 175.7 181.1 176.3 181.3 177.3 180.5 177.4 181.1 177.4 182.4 178.0 184.6 178.6 186.3 179.5 188.1 180.3 189.3 180.7 188.9 181.4 187.9 182.0 186.2 182.0 184.6 183.3 183.9 183.9 183.2 184.9 182.1 185.9 181.6 186.2 180.8 187.1 180.7 188.0 180.5 189.1 180.2 189.4 181.3 189.8 181.7 190.7 183.0 190.6 184.3 191.4 184.4 191.9 183.9 192.7 184.0 193.0 185.6 193.3 186.8 193.3 188.1 193.2 189.1 193.2 189.4 193.9 190.3 194.4 191.0 194.8 192.2 195.4 192.9 196.4 193.6 196.9 193.6 196.4 191.9 196.3 191.3 195.4 190.5 194.6 189.9 194.1 188.5 193.7 187.8 194.1 186.5 194.5 185.9 194.8 186.4 195.7 186.7 196.1 187.5 197.0 187.8 197.3 189.0 198.2 188.4 198.8 187.8 199.8 187.1 199.9 186.2 199.9 185.7 199.3 184.2 198.5 183.7 197.9 182.6 197.7 182.4 198.3 181.2 199.1 180.8 199.8 180.8 200.6 181.6 201.0 180.9 202.2 180.5 203.0 180.3 204.4 179.9 205.3 178.9 206.2 178.1 206.9 177.3 207.5 176.4 207.8 175.4 207.7 174.8 207.2 174.1 206.9 173.2 206.1 172.4 206.6 171.7 208.1 170.8 207.2 170.5 205.9 170.8 205.3 170.0 205.1 169.7 206.2 169.1 207.2 168.6 208.0 168.8 207.4 169.8 208.7 169.2 209.2 169.1 209.6 169.4 209.8 170.5 210.6 170.6 210.4 171.6 210.6 172.6 211.2 172.5 212.1 172.2 212.4 171.6 212.4 170.7 211.8 170.0 211.2 169.5 211.8 169.1 212.5 168.4 212.7 167.6 214.0 167.0 214.6 167.3 216.1 166.5 217.7 164.9 219.2 163.7 219.2 162.7 219.8 161.3 219.2 160.5 217.4 160.2 215.8 159.7 217.0 158.6 218.9 157.7 220.8 156.8 222.6 156.9 225.6 156.6 227.5 156.8 228.2 156.4 229.4 155.4 231.3 155.2 231.6 156.1 230.0 157.7 228.8 157.8 228.8 159.6 229.2 162.2 230.3 160.8 231.3 159.9 232.5 158.8 233.2 157.7 233.7 156.5 235.0 156.2 237.4 156.4 238.7 155.8 240.2 155.2 242.1 154.8 243.0 154.9 243.6 153.2 243.6 150.7 241.1 150.2 237.6 150.2 235.0 150.3 231.9 150.4 228.8 149.4 226.3 149.5 224.5 148.8 221.4 148.4 218.9 148.5 215.8 149.0 212.7 149.4 211.8 148.5 210.3 147.8 209.0 147.7 205.3 147.8 202.2 147.6 201.0 147.5 199.8 147.3 202.2 146.4 197.3 145.6 196.9 145.2 194.2 145.9 191.7 146.2 189.3 146.4 186.8 146.7 185.6 147.0 183.1 147.8 182.3 147.8 182.5 148.5 180.6 148.6 179.4 149.3 180.3 148.6 179.1 148.3 177.8 148.2 178.5 151.0 177.2 151.3 177.5 149.7 177.2 148.5 175.6 147.9 174.4 149.4 174.4 151.0 174.1 150.7 172.0 150.6 169.8 150.2 168.3 150.9 165.8 151.2 163.3 151.5 160.9 152.0 159.3 150.9 159.6 152.4 158.4 152.3 157.5 153.5 155.9 153.8 155.0 153.7 153.9 153.3 152.5 151.9 154.7 152.5 157.8 152.5 157.9 151.8 155.9 151.1 152.8 150.4 149.7 149.4 148.4 149.3 145.4 149.9 144.1 150.2 142.0 150.7 141.1 151.2 140.8 152.3 140.2 152.9 138.6 154.2 137.7 154.3 135.8 155.0 135.5 156.1 135.9 157.1 136.8 157.7 137.4 157.6 138.3 157.0 139.1 156.7 139.2 157.0 139.4 157.5 139.8 157.8 140.2 158.6 140.5 159.2 141.3 159.2 142.3 158.8 142.6 158.5 142.8 157.8 144.1 156.8 143.3 155.9 143.1 155.2 143.2 154.9 144.2 154.2 145.0 154.0 146.2 152.8 147.4 152.7 148.1 153.2 146.7 154.0 145.8 154.4 145.7 155.4 146.2 156.1 147.9 156.3 149.4 156.1 151.1 156.4 149.7 156.8 147.7 156.8 147.0 156.9 147.0 157.5 147.6 157.4 147.3 158.3 146.8 158.3 146.4 157.8 145.7 158.0 145.4 158.6 145.5 159.1 145.1 159.6 144.0 159.9 143.6 159.7 142.3 160.0 141.2 160.3 140.5 159.9 139.9 160.1 139.2 160.2 138.7 159.9 138.8 159.2 138.9 157.8 137.7 158.2 137.5 159.2 137.8 160.0 137.7 160.4 136.8 160.5 135.8 160.6 135.4 161.0 134.9 161.5 134.5 161.8 134.0 162.0 133.6 162.1 133.4 162.5 132.6 162.9 131.6 163.0 131.3 162.9 131.5 163.6 130.6 163.5 129.5 163.7 129.8 164.1 130.9 164.4 131.7 165.1 131.8 166.1 131.5 166.9 130.6 166.9 130.1 166.9 128.9 166.8 127.5 166.7 127.3 166.9 126.7 167.2 127.0 167.8 127.1 168.3 126.9 169.1 126.6 169.8 127.0 170.0 126.9 171.0 127.6 171.0 128.6 171.3 129.0 171.6 129.7 171.2 131.1 171.2 131.8 170.6 132.1 170.1 132.6 169.9 132.3 169.4 133.0 168.6 133.8 168.2 134.5 167.6 134.3 167.2 134.9 166.9 135.8 167.0 136.2 167.1 137.0 166.7 137.9 166.3 138.5 166.5 138.8 166.9 139.2 167.5 140.0 168.0 141.2 168.6 141.7 168.9 142.1 169.4 142.1 170.3 142.6 170.0 143.0 169.7 142.6 169.2 143.1 168.8 143.9 169.0 143.6 168.7 142.9 168.4 142.3 167.9 141.1 167.5 140.8 166.8 140.2 166.5 140.0 165.6 140.9 165.5 141.0 166.0 141.7 166.2 142.6 166.9 143.6 167.4 144.2 167.8 144.5 168.1 144.4 168.8 144.8 169.3 145.4 170.1 145.8 171.0 146.3 171.4 146.7 171.3 146.8 170.7 147.1 170.4 147.3 170.2 146.7 169.7 146.6 169.5 146.6 168.7 147.1 169.1 147.6 168.5 148.5 168.6 148.6 169.0 148.8 169.1 148.6 169.4 149.1 170.1 148.7 170.1 149.2 170.7 149.4 171.0 149.9 171.1 150.4 171.2 151.3 171.4 151.4 171.0 152.2 171.3 152.7 171.6 153.4 171.4 153.8 171.1 154.7 171.2 154.6 171.7 154.6 171.9 154.4 172.9 154.1 173.6 153.9 174.1 153.6 174.6ZM21.3 153.2 22.2 152.9 23.8 153.1 25.5 153.6 25.9 153.6 26.9 152.9 27.7 152.5 26.2 152.0 25.0 151.9 23.8 151.4 22.2 151.0 21.3 150.7ZM105.3 156.5 106.5 155.8 107.1 154.5 107.8 153.3 109.3 152.8 110.8 152.3 112.4 151.2 116.4 150.9 118.2 150.0 118.9 149.7 118.9 149.1 119.5 148.1 120.7 147.2 120.4 146.2 121.0 145.3 120.7 144.3 122.6 143.4 125.0 142.7 120.1 142.1 113.9 141.5 104.7 141.8 96.6 142.3 94.2 142.6 92.3 143.1 90.5 143.5 88.0 144.5 89.2 145.3 91.7 146.1 94.8 146.2 96.9 146.7 97.9 147.5 98.5 148.5 99.1 149.3 100.5 149.9 99.4 150.4 100.6 151.0 99.7 151.9 99.9 152.6 100.6 153.7 101.6 154.6 102.5 155.6 104.2 156.2ZM118.6 153.8 117.6 152.9 118.6 152.3 121.3 152.5 123.5 152.3 124.1 153.1 123.2 153.7 120.8 154.2 119.2 154.0ZM77.8 147.8 80.0 147.8 83.1 147.7 85.2 148.3 88.0 149.0 90.2 149.7 91.4 150.6 94.2 151.9 94.5 152.3 93.2 153.2 92.0 153.3 92.6 154.3 92.3 154.9 91.3 155.0 90.2 154.3 88.2 154.4 87.7 154.0 86.1 153.6 84.6 153.5 84.3 153.1 86.8 152.7 87.7 151.8 86.4 151.1 84.9 150.4 83.1 150.0 81.8 150.0 80.3 150.0 79.3 149.7 78.1 149.4 77.2 148.5ZM73.2 146.6 75.6 145.9 78.1 145.9 81.8 145.9 83.4 146.6 81.8 147.1 78.1 147.2 75.6 147.0ZM77.2 146.0 80.0 146.0 83.1 146.0 84.3 145.6 84.9 144.8 87.4 144.5 88.0 144.0 90.5 143.5 92.3 143.1 94.2 142.4 92.3 141.8 83.1 141.8 76.9 142.7 79.3 143.4 79.3 144.0 80.0 144.7 78.1 145.1 77.2 145.6ZM73.5 144.7 76.3 144.8 78.4 144.3 79.0 143.6 76.9 142.9 74.4 143.1 73.2 143.7ZM68.2 144.8 70.7 144.8 71.0 144.5 69.5 144.3 68.2 144.5ZM71.9 145.1 73.2 145.0 72.9 144.5 71.9 144.7ZM63.3 145.3 67.0 145.2 65.8 144.6 63.3 144.8ZM72.9 147.0 74.7 147.0 74.4 146.6 73.2 146.6ZM70.7 151.0 73.2 151.1 72.9 150.2 71.3 150.4ZM59.0 149.1 59.9 148.3 62.1 147.9 64.5 148.3 66.7 148.0 67.9 148.5 69.5 149.4 70.1 150.0 68.8 150.8 67.0 150.7 64.5 151.0 62.7 151.0 60.2 150.7 59.0 150.0 60.2 149.7ZM55.3 148.8 55.9 147.5 58.4 147.3 59.9 147.6 60.8 148.1 60.2 148.5 58.4 149.0 56.8 149.3ZM60.2 147.1 59.9 146.1 62.7 145.7 65.8 146.2 67.3 146.6 66.7 147.0 64.5 147.1ZM56.5 146.1 59.0 145.4 61.1 145.7 59.6 146.5ZM70.1 146.4 72.6 146.0 72.6 146.9 70.7 147.0ZM69.5 148.5 70.7 147.6 72.6 147.8 72.9 148.5 71.9 149.1 70.1 148.9ZM73.5 148.6 74.1 147.5 76.3 147.5 76.9 148.3 75.0 148.5ZM79.0 153.8 79.7 152.7 81.2 152.5 82.4 153.6 82.9 154.0 81.2 155.0 79.3 154.2ZM56.3 163.7 55.4 163.6 54.3 163.0 53.2 162.2 53.7 162.2 55.1 162.6 55.9 163.2ZM99.9 164.3 99.4 164.9 98.0 164.6 95.8 164.3 96.6 163.2 97.0 162.3 98.1 161.7 98.2 162.8 99.4 163.2 99.8 164.0ZM80.0 180.6 81.8 179.7 83.1 179.9 84.8 180.7 86.6 181.6 84.5 181.8 83.9 181.0 82.1 180.4 80.9 180.4ZM86.5 182.8 87.5 181.8 89.3 182.0 90.2 182.6 88.5 183.2 86.5 182.8ZM84.1 182.8 85.4 182.9 85.2 183.2 84.3 183.0ZM91.0 182.7 91.9 182.8 91.9 183.0 91.0 183.0ZM37.0 158.5 38.4 158.0 37.8 157.5 37.0 158.0ZM128.9 162.7 130.3 162.5 131.8 162.3 133.3 162.0 133.5 161.1 132.6 160.6 132.3 160.1 131.5 159.6 131.2 159.0 130.6 158.9 130.8 158.7 131.2 158.2 131.3 157.9 130.5 157.3 129.4 157.3 128.9 158.0 129.0 158.7 128.7 159.4 129.3 159.4 129.5 159.7 130.5 159.6 130.3 159.9 130.6 160.3 130.6 160.6 129.6 160.6 129.9 161.1 129.2 161.6 130.5 161.8 129.7 162.1ZM128.7 161.3 128.6 160.6 129.1 159.9 128.6 159.4 127.8 159.4 127.2 159.8 126.3 160.1 126.6 160.6 126.1 161.5 126.6 161.7 127.5 161.6 128.5 161.3ZM140.1 170.5 141.8 171.2 142.1 170.1 140.8 170.2ZM137.6 169.7 138.4 169.6 138.5 168.3 137.5 168.5ZM137.8 168.2 138.3 168.2 138.3 167.2 137.8 167.6ZM147.0 172.1 148.7 172.1 147.7 172.2ZM152.4 172.4 153.8 171.8 153.4 172.2ZM139.2 144.7 142.3 145.9 146.0 145.3 149.1 144.5 146.0 143.6 142.9 143.7 139.2 144.0ZM143.6 143.7 149.1 143.8 149.1 143.4 144.8 143.3ZM161.5 143.6 166.4 143.7 170.7 143.4 168.3 142.7 163.3 143.1ZM164.3 149.1 167.6 149.7 166.7 148.5 169.5 147.2 172.0 146.4 174.7 145.7 172.6 145.7 169.5 146.0 166.4 147.2 165.2 147.8ZM191.1 144.0 194.2 144.8 197.3 144.3 196.1 143.4 192.3 143.1ZM217.0 146.6 219.5 147.8 223.2 147.0 225.1 146.7 222.6 146.1 218.9 146.2ZM21.3 149.1 22.5 149.2 22.8 149.4 21.3 149.5ZM243.6 149.1 243.0 149.3 243.6 149.5ZM220.1 165.3 221.1 164.9 220.9 163.2 221.6 163.4 220.8 161.8 220.9 160.7 220.5 160.0 220.0 160.6 220.3 162.1 220.1 164.0ZM213.3 172.9 213.8 172.4 214.6 171.9 216.0 171.8 216.4 171.3 217.0 171.0 217.2 170.7 218.0 170.7 218.3 170.4 218.9 169.4 218.9 168.6 219.2 168.2 219.8 168.2 220.1 169.4 219.5 170.1 219.3 171.1 219.5 171.8 218.8 172.1 218.2 172.5 217.0 172.5 216.3 173.2 215.9 172.7 214.6 172.7 213.3 172.9ZM212.7 173.0 212.8 173.8 213.0 174.7 213.5 174.5 213.9 173.5 213.3 172.9ZM214.3 173.3 214.6 173.7 215.6 173.0 214.9 172.7ZM218.9 168.1 219.6 167.9 220.9 167.8 222.3 167.0 221.5 166.5 220.1 165.6 219.9 166.9 219.2 167.0 218.9 167.5ZM206.6 179.9 207.0 180.6 207.7 178.8 207.5 178.4 206.7 179.2ZM199.5 182.3 200.2 182.9 200.9 182.1 200.7 181.7 199.9 181.8ZM206.6 184.3 206.9 182.7 207.9 182.7 207.8 184.0 207.5 185.4 209.0 186.2 208.7 185.7 206.9 185.4ZM207.8 190.0 209.0 190.6 209.9 190.9 210.6 190.0 210.4 188.4 209.3 188.9 208.4 189.1ZM207.8 187.8 208.7 188.4 209.9 188.1 209.9 186.5 209.0 186.5 208.1 187.0ZM204.8 189.2 206.4 187.3 206.1 187.3 204.7 189.0ZM199.8 193.4 200.1 193.2 201.0 193.5 202.2 192.4 203.5 191.3 204.1 190.1 205.1 190.4 206.1 191.1 205.3 191.7 205.2 193.8 205.9 193.9 205.0 194.4 204.4 195.4 204.3 196.7 203.2 197.0 201.0 196.3 200.5 196.3 200.1 194.8ZM191.3 190.9 192.7 191.1 194.2 192.9 196.4 195.1 197.0 195.7 197.9 196.3 197.8 198.1 197.0 198.1 195.4 197.0 194.5 195.1 193.5 193.4 192.0 192.0ZM197.4 198.7 197.9 198.2 199.4 198.6 200.7 198.6 201.9 198.8 203.2 199.4 203.1 200.0 200.4 199.6 198.2 199.1ZM203.5 199.6 204.1 199.7 205.9 199.7 208.4 199.7 208.4 200.0 205.9 200.0 204.1 200.1 203.5 200.0ZM208.7 201.0 209.6 200.2 211.0 199.8 209.9 200.5 209.0 201.0ZM206.2 197.9 206.9 197.9 206.7 196.3 207.2 196.2 207.8 197.3 208.5 197.5 207.5 195.6 208.6 195.0 207.5 195.1 206.7 194.2 208.4 194.1 209.6 193.5 209.3 193.9 207.2 193.6 206.4 194.3 205.8 196.2ZM211.2 193.2 211.9 193.6 211.5 194.3 212.0 195.0 211.4 194.8 211.2 193.8ZM211.5 196.3 213.2 196.5 213.0 196.7 211.6 196.7ZM213.3 195.3 214.3 194.7 215.3 195.0 215.3 196.0 215.8 196.5 216.7 195.9 217.4 195.4 219.5 196.1 222.4 197.4 223.5 198.2 223.8 199.5 225.3 201.0 223.2 200.9 222.6 199.6 221.4 199.3 220.8 200.2 219.5 200.2 218.3 199.6 217.7 199.8 217.5 197.7 215.8 197.2 214.6 197.0 214.0 196.2 214.9 196.0ZM224.0 197.9 225.1 197.6 226.3 197.1 226.0 197.9 224.5 198.4ZM181.8 190.5 181.7 189.4 181.9 188.2 182.6 189.1 183.0 190.0 182.7 190.5 182.2 190.7ZM202.7 208.3 203.2 208.1 204.5 207.5 205.7 207.3 207.2 206.8 207.9 205.9 208.7 205.2 209.6 204.0 210.6 203.3 211.5 203.9 212.4 204.0 212.8 202.6 213.2 202.3 214.3 201.7 215.8 202.2 216.9 202.2 216.3 203.6 216.1 204.0 217.0 204.6 218.6 205.5 219.4 205.5 219.8 204.0 219.9 202.4 220.4 201.2 221.1 203.3 221.7 203.5 222.2 204.0 222.5 205.2 222.8 206.5 223.1 206.6 224.5 207.8 225.6 208.7 225.7 209.7 226.9 210.4 227.1 211.9 227.3 212.6 226.9 214.1 226.2 215.3 225.9 215.9 225.2 217.1 225.1 218.2 223.5 218.5 222.9 219.2 221.9 218.5 221.1 219.1 219.8 218.8 218.9 218.2 218.7 217.6 218.0 217.0 218.0 216.6 217.4 216.8 217.5 215.4 216.4 216.5 216.1 216.5 215.4 215.4 214.0 214.7 212.1 214.5 210.3 214.9 209.0 215.8 207.8 215.9 206.2 216.3 205.3 216.6 203.5 216.2 203.9 215.7 203.9 214.7 203.5 213.2 203.2 212.7 202.5 211.3 202.5 210.0ZM221.7 220.3 224.0 220.4 223.8 221.8 222.9 222.1 222.1 221.2ZM239.1 216.3 240.2 217.2 241.1 218.2 242.7 218.4 242.3 219.3 241.7 219.6 241.3 220.6 240.4 220.6 240.6 220.0 239.8 219.4 240.3 218.5 240.1 217.6ZM239.1 220.1 240.1 220.9 239.5 221.7 239.2 222.2 238.2 222.7 237.8 223.6 236.8 224.0 235.3 223.6 235.4 223.1 236.5 222.4 237.7 221.6 238.4 220.9ZM36.1 182.4 36.7 182.1 36.2 181.6ZM94.6 227.0 96.6 227.0 96.3 227.6 95.1 227.4ZM174.9 225.6 176.0 225.5 175.7 226.0 175.1 225.9ZM225.4 196.1 226.4 196.5 226.9 197.4 226.6 197.4 226.0 196.6ZM227.9 197.7 228.4 198.0 228.8 198.8 228.3 198.8 228.0 198.2ZM229.1 198.9 229.9 199.3 230.6 199.7 230.3 199.8 229.4 199.4ZM231.0 200.3 231.7 200.5 231.6 200.7 231.1 200.5ZM231.6 199.7 232.1 200.1 232.2 200.5 231.8 200.2ZM235.3 203.8 235.7 204.1 235.8 204.8 236.4 205.6 236.7 206.5 236.6 206.6 236.1 205.7 235.4 204.5ZM233.7 207.2 234.3 207.4 235.3 208.1 235.6 208.6 235.3 208.7 234.5 208.1 233.8 207.5ZM241.9 205.5 242.7 205.5 242.6 206.0 241.9 205.9ZM242.7 204.9 243.6 204.7 243.5 205.1 242.9 205.2Z" fill="#d3d3d3" stroke="#777777" stroke-width="0.45" stroke-linejoin="round"/><path d="M150.4 168.3 149.7 168.1 149.4 167.5 149.7 167.0 150.2 166.4 150.8 165.8 151.4 164.9 151.9 164.9 152.5 165.6 153.1 166.2 153.8 166.2 154.4 165.8 154.2 165.4 154.4 164.9 156.2 164.5 155.9 165.3 155.6 165.7 155.8 166.1 157.0 166.8 158.1 168.1 157.0 168.4 154.9 168.2 154.1 167.8 153.1 167.8 151.6 168.3ZM161.8 165.5 161.8 166.5 161.8 167.2 162.3 167.8 163.0 168.7 163.5 168.8 162.7 169.7 162.6 170.0 162.7 170.7 163.9 171.2 165.8 171.0 165.7 170.0 165.4 169.4 165.5 168.4 164.9 168.0 165.1 167.2 163.9 166.2 165.2 165.6 165.2 164.8 163.9 164.6 162.7 164.9Z" fill="#f0f8ff" stroke="#777777" stroke-width="0.45" stroke-linejoin="round"/><path d="M56.3 163.4 73.7 163.4 73.7 163.1 77.1 164.0 80.1 164.9 81.5 167.3 83.7 167.3 85.2 166.5 86.3 165.9 88.3 165.9 88.9 165.5 89.7 164.4 90.5 164.4 90.6 165.5 91.1 165.9M45.4 150.3 45.4 156.2 47.5 157.0 49.1 156.7 50.3 157.7 52.2 158.9 52.2 159.7M60.1 173.8 61.6 173.7 63.9 174.6 65.6 174.6 66.7 174.3 67.9 175.7 68.8 176.0 69.8 175.5 71.0 177.0 72.4 178.0M75.5 185.2 75.6 184.3 76.3 183.5 77.4 183.2 77.9 182.7M77.4 183.2 77.4 184.4 78.0 184.5M76.8 185.8 77.2 185.3 77.8 185.4 78.2 186.0M78.5 186.2 80.0 185.6 81.1 184.9M79.5 187.4 80.8 187.5M81.3 189.3 81.4 188.4M87.5 181.8 88.2 182.8M88.1 186.8 87.7 187.4 87.1 188.6 87.7 189.7 89.2 190.0 90.6 190.4 90.8 192.0 90.9 193.2 91.1 193.7M95.4 189.1 94.5 190.7 95.0 191.1 94.2 191.8 92.4 191.8 92.8 192.9 91.1 193.7M97.1 190.7 96.6 193.5M99.1 190.8 99.0 193.0M95.0 191.1 95.6 193.0 97.9 193.2 99.0 193.0 100.0 193.0 100.6 191.8M91.1 193.7 89.6 193.7 89.3 197.1M89.3 197.1 87.1 194.6 86.0 194.5M86.0 194.5 83.8 193.6M86.0 194.5 84.0 197.6 82.9 196.6M89.3 197.1 87.4 199.1 87.7 200.5 88.9 201.4 89.5 201.4M89.5 201.4 90.0 202.6 89.6 204.3 89.5 205.5 89.5 205.9M89.5 205.9 89.0 206.1M89.5 201.4 92.1 200.7 94.0 203.0 95.2 204.0 96.4 204.8 96.8 205.9 96.5 207.1M89.5 205.9 90.3 208.1 91.0 208.9M91.0 208.9 92.7 208.8 93.7 208.4M93.7 208.4 94.3 206.9 96.0 206.7 96.5 207.1M96.5 207.1 96.8 208.5 98.0 208.6 98.7 210.7M93.7 208.4 95.4 209.7 96.3 211.7 97.9 211.8 98.7 210.7M98.7 210.7 99.2 211.6 98.0 212.5 96.9 213.6M96.9 213.6 98.1 214.0 99.5 215.8M96.9 213.6 96.4 215.8M91.0 208.9 90.2 210.3 89.5 212.5 89.0 214.4 89.2 215.7 88.8 217.6 88.5 219.2 88.1 221.1 88.2 222.7 87.7 224.6 87.2 225.8 87.7 226.8 89.2 227.4 90.2 227.7M131.3 172.2 131.7 173.8 130.3 174.5 127.1 176.2 127.1 176.9M127.1 176.9 124.3 176.9M127.1 176.9 127.1 178.0 125.0 178.0 125.0 179.5 124.4 180.9 122.0 180.9M127.1 178.0 129.5 178.6M129.5 178.6 128.9 184.6 125.3 184.7 124.9 185.1 123.5 183.9 122.3 184.2M129.5 178.6 133.2 181.2 134.4 182.3 135.0 182.1M135.0 182.1 139.9 179.5M139.9 179.5 138.6 178.6 138.6 175.4 138.3 175.2M137.6 171.0 137.6 172.5 137.1 173.0 138.0 174.1 138.3 175.2 139.6 173.4M139.9 179.5 141.1 179.9 141.7 179.9 147.3 182.1M147.3 182.1 147.3 181.8 147.9 181.8 147.9 180.5M147.9 180.5 147.9 175.4 148.0 174.4M147.9 180.5 155.2 180.5M135.0 182.1 135.0 183.7 134.7 184.5 133.1 184.9 132.6 185.0 132.1 184.9 131.2 185.4 130.6 185.8 129.7 186.8 129.1 187.8M141.7 179.9 142.0 181.4 142.0 183.8 140.8 185.8M140.8 185.8 139.9 186.0 138.4 186.3 136.8 186.2 135.0 185.9 134.7 187.0M134.7 187.0 134.1 188.7 134.1 190.4M147.3 182.1 147.3 184.5 146.3 185.6 146.0 186.4 146.6 187.5M146.6 187.5 144.8 188.7 142.3 189.5 142.0 189.7 141.4 188.1 141.7 187.5 141.4 186.3 140.8 185.8M141.4 186.3 141.5 186.8 140.6 188.1 139.9 189.7 139.2 190.3 138.4 191.1 137.8 191.5M146.6 187.5 147.0 188.4 148.8 188.4 150.4 188.2 153.0 187.8 153.6 188.4M156.2 183.0 155.0 185.4 155.0 186.2 154.1 187.3 153.6 188.4M155.0 185.4 156.2 185.2 157.2 185.2 158.7 186.5M158.7 186.5 158.4 187.5 159.0 187.5 159.6 188.7 162.1 189.4 160.2 191.3 158.4 191.9 157.8 191.9M157.8 191.9 157.8 192.7 157.8 195.5M157.8 191.9 156.8 192.2 154.6 191.5 153.8 191.3 152.8 189.5 153.6 188.4M153.8 191.3 151.6 192.1 150.7 191.6 149.4 191.3 147.9 191.3 146.3 191.8 144.5 191.3 143.9 192.2M149.4 191.3 147.9 189.7 147.0 188.4M143.9 192.2 143.3 195.1 142.3 196.0 141.8 197.2 140.2 197.6M138.5 193.0 139.4 193.0 140.7 193.0 142.3 193.2 142.5 192.2 141.7 191.6 141.4 190.3 142.0 189.7M143.9 192.2 142.5 192.2M140.7 193.0 141.4 195.1 141.1 196.0 139.6 196.7M140.0 198.2 142.6 199.2 143.3 199.5 144.4 199.1 145.9 199.1 146.0 200.8 147.3 201.4 147.3 202.7M147.3 202.7 146.0 202.7 146.0 204.7 147.0 205.7M139.7 205.4 140.8 205.5 143.9 205.5 145.4 205.9 147.0 205.7M147.3 201.4 148.5 201.9 149.7 202.4 150.7 202.2 150.0 200.5 151.3 199.7M153.8 191.3 153.4 191.7 151.0 193.8 150.7 195.3 150.4 196.2 150.5 197.3 150.7 198.6 151.3 199.7M153.4 191.7 154.1 193.3 153.4 194.3 153.4 195.1M153.4 195.1 155.6 196.7 156.7 197.4M150.7 195.3 153.4 195.1M151.3 199.7 152.8 200.4 154.0 201.8 155.6 201.8 157.4 201.1M152.8 200.4 153.1 202.1 152.5 203.3 151.1 204.3M153.1 203.6 154.2 205.3 154.1 203.3 154.0 201.8M147.0 205.7 148.1 205.7 149.7 204.9 151.1 204.3M151.1 204.3 152.8 205.0 152.6 206.8 152.5 207.8 151.8 208.7M148.1 205.7 148.5 206.5 149.4 207.4 150.4 208.5 151.8 208.7M145.4 205.9 145.4 208.4 144.8 208.4 144.8 210.2M144.8 210.2 145.1 211.4 146.5 210.6 148.2 210.7 149.0 210.0 150.4 208.5M144.8 210.2 144.8 212.5 142.6 212.6M151.8 208.7 152.2 210.0 152.2 210.9 152.8 211.5M149.1 213.2 150.0 212.6 150.6 213.1 149.9 213.9 149.1 213.2M124.9 185.1 125.4 186.6M122.1 186.6 124.0 186.5 125.4 186.6 127.3 187.3 127.4 188.1 127.6 189.1M124.2 188.2 125.4 189.1 126.1 189.1 125.3 190.1M127.3 187.3 129.1 187.8 130.6 187.6 130.7 187.5 132.5 187.5M130.7 187.5 130.8 188.4 130.5 191.2M127.6 189.1 127.2 189.7 127.8 191.7M132.5 187.5 132.8 189.4 133.2 190.6M133.0 187.5 133.4 190.5M132.6 185.0 133.7 186.3 133.9 186.9 134.7 187.0M122.1 185.8 123.9 185.9 123.2 186.1 122.1 186.1M154.0 175.7 153.6 174.6M154.1 175.8 155.3 175.5 155.9 174.5 156.7 174.0M158.6 170.9 158.0 172.6 156.4 173.3M156.7 174.0 158.4 174.8 160.1 175.9 161.2 176.0 161.9 176.4M162.4 175.4 161.9 174.5 161.5 173.5 160.9 172.2 160.5 171.3 160.1 170.8M154.7 171.6 155.1 171.1 157.2 171.1 158.6 170.9 160.1 170.8M160.1 170.8 159.8 170.0 159.9 169.5 159.2 168.3 158.1 168.1M154.6 173.6 155.0 174.0 156.4 173.3 155.0 172.5 154.6 172.2M157.1 166.9 158.4 167.0 159.6 167.4 161.2 167.9 162.3 167.9M158.9 184.0 159.9 183.4 161.5 183.7 164.6 182.4 166.4 181.8 166.8 180.2M164.6 182.4 165.2 183.9M164.3 179.0 164.9 179.9 166.8 180.2 167.0 178.9 167.3 178.0M170.2 171.9 170.1 172.7 170.0 174.5 170.5 174.5M170.5 174.5 171.2 175.7 170.4 176.3 171.2 177.3 170.5 178.5M165.7 170.8 167.8 170.3 168.9 170.7 170.0 171.3 170.2 171.9M170.2 171.9 171.3 172.1 172.3 171.4 173.5 170.7 174.4 171.0 175.7 170.7 176.6 170.4 178.7 170.8M170.1 175.5 172.0 175.7 173.5 175.5 175.2 174.2 176.2 172.9 176.4 171.6 178.5 171.0M174.6 179.4 175.7 179.0 176.3 178.3 175.7 176.8 177.2 175.4 178.5 174.7 179.0 173.9 178.5 172.6 180.5 171.9M178.7 170.8 180.5 171.9 181.2 172.9 181.4 173.8 181.9 175.0 182.8 175.3 184.3 176.0 186.8 176.7 187.4 176.7 189.3 176.8 190.5 176.0 192.3 176.5M181.9 176.2 184.3 177.1 186.9 177.6 186.8 176.7M181.9 176.2 182.0 175.2M186.9 177.6 187.4 178.3 189.3 178.5 189.6 179.5 189.6 180.9M187.0 178.7 187.3 180.3M192.3 176.5 191.1 177.6 190.8 178.9 190.2 179.5 190.0 180.4 189.6 180.9M192.3 176.5 193.3 177.0 192.8 178.6 193.6 180.4 194.9 180.7M194.9 180.7 195.6 180.2 197.5 179.7 198.3 180.0 199.1 180.7M194.3 181.5 193.3 181.9 192.7 182.7 193.5 184.1 193.1 184.8 193.7 186.4 193.3 188.1M194.3 181.5 194.9 182.1 194.9 183.2 197.0 183.4 197.7 184.4 197.7 185.4M197.7 185.4 196.1 185.4 195.8 186.7M195.6 180.2 196.7 181.2 197.4 182.4 198.2 183.5 198.9 184.6 198.8 185.2M197.7 185.4 198.8 185.2 198.1 187.0 197.0 187.8M194.4 190.3 195.4 190.5M194.9 180.7 194.3 181.5M186.7 163.2 188.1 164.2 188.6 165.8 190.2 166.0 191.9 167.4 194.7 167.4 197.3 168.1 200.6 167.3 201.5 166.7 201.4 165.8 202.8 165.6 204.5 165.0 206.5 164.8 205.3 164.1 204.5 162.9M186.7 163.2 189.3 162.3 193.0 161.5 195.4 161.9 197.9 162.5 199.4 163.2 202.8 162.6 204.5 162.9M204.5 162.9 206.6 161.1 208.4 160.5 210.6 161.1 211.2 162.9 213.3 164.2 215.6 163.9 214.6 165.8 213.5 167.2 213.1 167.5M213.1 167.5 212.1 167.8 211.5 168.1 210.3 168.5 209.2 169.1M210.3 170.5 210.9 170.1 211.7 170.0M186.4 163.2 185.2 164.6 183.4 164.6 183.4 165.6 181.9 165.9 182.0 167.7M182.0 167.7 179.4 168.8 178.1 169.4 178.7 170.8M186.4 163.2 184.9 162.4 183.7 162.1 181.9 162.2 180.0 160.6 177.8 160.2 175.7 159.4 172.6 159.8 170.4 160.2 170.1 161.5 168.6 162.1 166.4 162.3 164.6 161.7 163.3 161.9 162.4 163.0 161.2 163.6 161.5 164.6 162.7 165.0M165.2 167.8 167.0 168.2 167.0 165.9 168.6 165.6 170.1 166.3 170.7 166.9 172.3 166.8 173.2 167.8 174.7 168.6 176.3 167.6 178.1 167.0 182.0 167.7M167.0 168.2 168.7 167.4 169.5 167.8 170.4 168.3 171.0 169.4 172.3 170.1 173.5 170.7M174.7 168.6 176.0 168.9 177.5 169.5 178.1 169.4M174.3 170.8 174.7 169.6 176.0 168.9M156.0 164.6 157.2 164.0 157.2 163.0 155.9 162.7 154.4 162.5 153.4 161.6 152.2 161.4 151.9 160.5 152.6 160.3 151.6 158.9 149.9 158.8 149.6 158.0 149.4 157.6 149.7 156.8M149.7 156.1 150.7 155.4 151.9 154.5 151.0 153.8 151.0 151.6 150.4 150.7 151.6 150.2M150.4 150.7 148.5 150.2 147.6 150.9 145.4 150.6M145.4 150.6 147.1 151.3 147.4 152.7M145.4 150.6 143.6 151.0 142.3 151.6 141.4 152.6 140.8 153.5 140.0 154.5 140.2 155.8 139.6 156.8 139.4 157.1M147.0 161.8 149.1 161.7 151.3 161.8 152.2 161.4M147.0 161.8 147.0 160.8 147.0 160.3M147.0 161.8 147.3 162.5 146.4 163.3M146.4 163.3 144.2 163.1 142.6 162.5 141.7 162.1M141.7 162.1 141.5 161.1 141.2 160.3M147.0 160.3 147.9 160.1 148.9 159.1 149.9 158.8M145.4 158.9 148.9 159.1M147.5 157.7 149.4 157.9M144.6 159.9 146.5 159.9 145.6 159.4M146.4 163.3 146.5 163.9 147.6 164.1 148.9 163.8 149.7 163.9 151.0 165.0 150.8 165.7M148.9 163.8 149.9 164.9 149.9 165.6M146.5 163.9 145.4 165.1 146.3 166.2 146.7 166.7 149.4 166.5 150.1 166.7M146.3 166.4 146.3 167.2 146.7 168.2 148.6 168.0 149.7 167.8M148.6 168.0 148.5 168.6M146.7 168.2 145.4 168.5 144.9 169.3M146.0 163.7 144.1 164.1 142.9 164.0M131.3 166.9 132.9 167.3 134.4 167.5M134.0 162.0 135.0 162.8 136.0 163.0 137.5 163.4 137.1 164.3M137.1 164.3 136.2 165.1 136.8 165.4 136.5 166.4 137.1 166.7M127.0 167.8 127.4 167.8 128.6 168.1 128.1 169.3 127.9 170.0 127.9 170.8M136.9 160.7 136.2 161.6 136.3 162.4 136.3 163.0M135.0 161.8 136.0 162.0 136.2 162.3M137.8 159.6 138.4 159.7M141.6 162.2 140.0 162.5 141.0 163.6 140.5 164.3 138.7 164.4 137.1 164.3M136.7 165.3 137.7 165.1 138.9 164.9 138.9 164.7 139.9 164.6 140.9 164.9 140.8 165.5M141.0 163.6 141.7 163.4 142.9 163.7 142.6 164.3 142.3 164.8M142.3 164.8 142.9 165.3 144.2 165.3 145.0 165.1 145.4 165.1M142.1 165.8 142.6 165.8 144.4 165.9 144.4 166.5 143.9 167.5M144.4 166.5 145.4 167.0 146.3 167.2M144.5 168.1 145.1 167.7 145.4 167.7 146.3 167.6 146.7 168.2" fill="none" stroke="#8f8f8f" stroke-width="0.4" stroke-linejoin="round"/><line x1="58.35" y1="143.7" x2="58.35" y2="232.5" stroke="#d3d9df" stroke-width="0.5" stroke-opacity="0.75"/><line x1="95.40" y1="143.7" x2="95.40" y2="232.5" stroke="#d3d9df" stroke-width="0.5" stroke-opacity="0.75"/><line x1="132.45" y1="143.7" x2="132.45" y2="232.5" stroke="#d3d9df" stroke-width="0.5" stroke-opacity="0.75"/><line x1="169.50" y1="143.7" x2="169.50" y2="232.5" stroke="#d3d9df" stroke-width="0.5" stroke-opacity="0.75"/><line x1="206.55" y1="143.7" x2="206.55" y2="232.5" stroke="#d3d9df" stroke-width="0.5" stroke-opacity="0.75"/><line x1="21.3" y1="156.39" x2="243.6" y2="156.39" stroke="#d3d9df" stroke-width="0.5" stroke-opacity="0.75"/><line x1="21.3" y1="169.07" x2="243.6" y2="169.07" stroke="#d3d9df" stroke-width="0.5" stroke-opacity="0.75"/><line x1="21.3" y1="181.76" x2="243.6" y2="181.76" stroke="#d3d9df" stroke-width="0.5" stroke-opacity="0.75"/><line x1="21.3" y1="194.44" x2="243.6" y2="194.44" stroke="#d3d9df" stroke-width="0.5" stroke-opacity="0.75"/><line x1="21.3" y1="207.13" x2="243.6" y2="207.13" stroke="#d3d9df" stroke-width="0.5" stroke-opacity="0.75"/><line x1="21.3" y1="219.81" x2="243.6" y2="219.81" stroke="#d3d9df" stroke-width="0.5" stroke-opacity="0.75"/><circle cx="63.6" cy="158.6" r="1.3" fill="#fffdfd"/><circle cx="58.3" cy="165.2" r="1.3" fill="#ff1d1d"/><circle cx="60.1" cy="165.0" r="1.3" fill="#ff9999"/><circle cx="62.8" cy="163.1" r="1.3" fill="#e1e1ff"/><circle cx="63.7" cy="165.8" r="1.3" fill="#ff4545"/><circle cx="60.8" cy="166.9" r="1.3" fill="#ff9999"/><circle cx="58.3" cy="169.2" r="1.3" fill="#ff8585"/><circle cx="57.4" cy="171.5" r="1.3" fill="#adadff"/><circle cx="58.8" cy="172.6" r="1.3" fill="#9999ff"/><circle cx="66.5" cy="172.8" r="1.3" fill="#ffcdcd"/><circle cx="68.8" cy="168.8" r="1.3" fill="#ffc1c1"/><circle cx="70.3" cy="164.6" r="1.3" fill="#cdcdff"/><circle cx="72.2" cy="164.0" r="1.3" fill="#cdcdff"/><circle cx="73.1" cy="166.9" r="1.3" fill="#ff9999"/><circle cx="74.7" cy="167.9" r="1.3" fill="#f00000"/><circle cx="72.9" cy="169.9" r="1.3" fill="#e60000"/><circle cx="71.9" cy="171.4" r="1.3" fill="#ffcdcd"/><circle cx="77.8" cy="169.1" r="1.3" fill="#ffc1c1"/><circle cx="80.5" cy="169.1" r="1.3" fill="#fffdfd"/><circle cx="80.3" cy="171.8" r="1.3" fill="#ff3131"/><circle cx="80.3" cy="173.5" r="1.3" fill="#ff9999"/><circle cx="83.1" cy="166.4" r="1.3" fill="#d5d5ff"/><circle cx="73.5" cy="175.8" r="1.3" fill="#ffcdcd"/><circle cx="88.1" cy="165.9" r="1.3" fill="#ff9999"/><circle cx="87.7" cy="168.5" r="1.3" fill="#fe0000"/><circle cx="86.0" cy="170.6" r="1.3" fill="#cc0000"/><circle cx="84.9" cy="169.5" r="1.3" fill="#ff9999"/><circle cx="85.0" cy="171.4" r="1.3" fill="#ffcdcd"/><circle cx="71.1" cy="182.2" r="1.3" fill="#fe0000"/><circle cx="74.8" cy="183.8" r="1.3" fill="#ff9999"/><circle cx="90.8" cy="182.7" r="1.3" fill="#ff3131"/><circle cx="87.1" cy="188.2" r="1.3" fill="#ff6565"/><circle cx="95.3" cy="196.2" r="1.3" fill="#ffb9b9"/><circle cx="90.4" cy="200.7" r="1.3" fill="#ff8585"/><circle cx="93.9" cy="201.4" r="1.3" fill="#ff8585"/><circle cx="97.8" cy="200.5" r="1.3" fill="#ff9999"/><circle cx="97.9" cy="204.3" r="1.3" fill="#fe0000"/><circle cx="93.4" cy="205.4" r="1.3" fill="#ffc1c1"/><circle cx="88.9" cy="206.0" r="1.3" fill="#ff3131"/><circle cx="98.8" cy="207.4" r="1.3" fill="#ff9999"/><circle cx="103.7" cy="209.2" r="1.3" fill="#8585ff"/><circle cx="88.6" cy="215.2" r="1.3" fill="#fe0000"/><circle cx="117.0" cy="183.7" r="1.3" fill="#6565ff"/><circle cx="149.4" cy="160.2" r="1.3" fill="#ffc1c1"/><circle cx="155.6" cy="159.3" r="1.3" fill="#e9e9ff"/><circle cx="151.5" cy="162.5" r="1.3" fill="#ffe9e9"/><circle cx="145.4" cy="161.6" r="1.3" fill="#cdcdff"/><circle cx="134.2" cy="161.8" r="1.3" fill="#ffe1e1"/><circle cx="136.0" cy="161.6" r="1.3" fill="#ff9999"/><circle cx="137.8" cy="162.5" r="1.3" fill="#ff9999"/><circle cx="139.9" cy="162.0" r="1.3" fill="#ff8585"/><circle cx="139.9" cy="163.4" r="1.3" fill="#ff9999"/><circle cx="133.9" cy="163.9" r="1.3" fill="#ff9999"/><circle cx="145.6" cy="165.4" r="1.3" fill="#ff6565"/><circle cx="148.3" cy="166.2" r="1.3" fill="#ff9999"/><circle cx="150.6" cy="164.3" r="1.3" fill="#ff8585"/><circle cx="136.0" cy="166.2" r="1.3" fill="#ff8585"/><circle cx="137.4" cy="167.1" r="1.3" fill="#fe0000"/><circle cx="139.6" cy="165.7" r="1.3" fill="#f00000"/><circle cx="140.5" cy="167.5" r="1.3" fill="#ff9999"/><circle cx="141.5" cy="168.9" r="1.3" fill="#cc0000"/><circle cx="144.2" cy="168.9" r="1.3" fill="#cdcdff"/><circle cx="146.9" cy="168.4" r="1.3" fill="#e60000"/><circle cx="133.7" cy="168.4" r="1.3" fill="#ff9999"/><circle cx="131.4" cy="169.8" r="1.3" fill="#ff6565"/><circle cx="127.8" cy="169.8" r="1.3" fill="#ff8585"/><circle cx="129.6" cy="171.5" r="1.3" fill="#e60000"/><circle cx="134.2" cy="171.6" r="1.3" fill="#f00000"/><circle cx="139.2" cy="171.6" r="1.3" fill="#adadff"/><circle cx="138.9" cy="173.6" r="1.3" fill="#ff8585"/><circle cx="146.9" cy="170.9" r="1.3" fill="#b9b9ff"/><circle cx="127.4" cy="174.6" r="1.3" fill="#e60000"/><circle cx="122.3" cy="176.5" r="1.3" fill="#ffe9e9"/><circle cx="153.8" cy="171.2" r="1.3" fill="#fe0000"/><circle cx="153.3" cy="172.6" r="1.3" fill="#ff3131"/><circle cx="152.4" cy="174.8" r="1.3" fill="#9999ff"/><circle cx="155.2" cy="173.5" r="1.3" fill="#ff8585"/><circle cx="149.8" cy="177.4" r="1.3" fill="#ffe1e1"/><circle cx="136.0" cy="180.3" r="1.3" fill="#ff9999"/><circle cx="122.0" cy="185.2" r="1.3" fill="#ffadad"/><circle cx="128.9" cy="186.0" r="1.3" fill="#f00000"/><circle cx="131.4" cy="184.6" r="1.3" fill="#ff9999"/><circle cx="134.3" cy="186.0" r="1.3" fill="#ff6565"/><circle cx="138.3" cy="185.8" r="1.3" fill="#ffadad"/><circle cx="140.0" cy="186.3" r="1.3" fill="#ffadad"/><circle cx="131.6" cy="186.7" r="1.3" fill="#ff3131"/><circle cx="133.9" cy="188.4" r="1.3" fill="#b20000"/><circle cx="135.4" cy="189.2" r="1.3" fill="#a80000"/><circle cx="129.1" cy="190.3" r="1.3" fill="#ff8585"/><circle cx="132.3" cy="190.6" r="1.3" fill="#ff9999"/><circle cx="138.8" cy="190.9" r="1.3" fill="#980000"/><circle cx="139.5" cy="194.7" r="1.3" fill="#ff9999"/><circle cx="150.8" cy="196.6" r="1.3" fill="#ff9999"/><circle cx="142.0" cy="202.2" r="1.3" fill="#ff9999"/><circle cx="147.4" cy="201.2" r="1.3" fill="#ff3131"/><circle cx="151.8" cy="200.9" r="1.3" fill="#cc0000"/><circle cx="156.5" cy="180.3" r="1.3" fill="#ffcdcd"/><circle cx="140.3" cy="204.0" r="1.3" fill="#ff8585"/><circle cx="146.9" cy="204.0" r="1.3" fill="#ff8585"/><circle cx="142.0" cy="206.3" r="1.3" fill="#fe0000"/><circle cx="147.1" cy="207.1" r="1.3" fill="#ff6565"/><circle cx="144.3" cy="208.0" r="1.3" fill="#ff9999"/><circle cx="142.8" cy="209.2" r="1.3" fill="#ff8585"/><circle cx="141.4" cy="209.2" r="1.3" fill="#ff9999"/><circle cx="150.0" cy="210.6" r="1.3" fill="#ff6565"/><circle cx="152.6" cy="210.9" r="1.3" fill="#ff3131"/><circle cx="174.9" cy="170.2" r="1.3" fill="#ff8585"/><circle cx="161.5" cy="176.0" r="1.3" fill="#ffcdcd"/><circle cx="161.5" cy="178.9" r="1.3" fill="#ffcdcd"/><circle cx="167.2" cy="178.0" r="1.3" fill="#ff9999"/><circle cx="166.1" cy="178.7" r="1.3" fill="#ffcdcd"/><circle cx="165.8" cy="180.3" r="1.3" fill="#ff3131"/><circle cx="174.0" cy="178.7" r="1.3" fill="#adadff"/><circle cx="178.5" cy="174.3" r="1.3" fill="#ff6565"/><circle cx="179.4" cy="176.6" r="1.3" fill="#ff3131"/><circle cx="180.8" cy="176.2" r="1.3" fill="#ff8585"/><circle cx="182.4" cy="177.4" r="1.3" fill="#fe0000"/><circle cx="184.9" cy="176.7" r="1.3" fill="#ff3131"/><circle cx="181.8" cy="178.0" r="1.3" fill="#ff9999"/><circle cx="178.2" cy="182.6" r="1.3" fill="#e60000"/><circle cx="180.1" cy="187.1" r="1.3" fill="#ff8585"/><circle cx="188.3" cy="179.6" r="1.3" fill="#ff8585"/><circle cx="190.8" cy="177.0" r="1.3" fill="#ff9999"/><circle cx="192.1" cy="180.0" r="1.3" fill="#ff9999"/><circle cx="194.1" cy="181.6" r="1.3" fill="#ff8585"/><circle cx="193.6" cy="182.8" r="1.3" fill="#ff8585"/><circle cx="196.3" cy="180.7" r="1.3" fill="#ff6565"/><circle cx="198.0" cy="181.1" r="1.3" fill="#b20000"/><circle cx="199.4" cy="181.4" r="1.3" fill="#ffcdcd"/><circle cx="195.3" cy="183.5" r="1.3" fill="#ff4545"/><circle cx="196.3" cy="185.5" r="1.3" fill="#ff3131"/><circle cx="197.6" cy="185.0" r="1.3" fill="#ff9999"/><circle cx="198.0" cy="188.5" r="1.3" fill="#ff9999"/><circle cx="194.3" cy="189.6" r="1.3" fill="#ff4545"/><circle cx="203.0" cy="180.0" r="1.3" fill="#adadff"/><circle cx="204.9" cy="181.5" r="1.3" fill="#cdcdff"/><circle cx="206.9" cy="180.0" r="1.3" fill="#ff9999"/><circle cx="207.6" cy="178.4" r="1.3" fill="#ff3131"/><circle cx="206.7" cy="174.5" r="1.3" fill="#adadff"/><circle cx="207.3" cy="185.1" r="1.3" fill="#ffcdcd"/><circle cx="194.3" cy="191.2" r="1.3" fill="#ff8585"/><circle cx="196.9" cy="193.8" r="1.3" fill="#ff9999"/><circle cx="198.3" cy="198.6" r="1.3" fill="#ffadad"/><circle cx="203.4" cy="195.8" r="1.3" fill="#ffadad"/><circle cx="213.3" cy="202.0" r="1.3" fill="#ffadad"/><circle cx="215.0" cy="202.4" r="1.3" fill="#ff9999"/><circle cx="211.9" cy="205.0" r="1.3" fill="#e60000"/><circle cx="196.8" cy="171.8" r="1.3" fill="#fe0000"/><circle cx="200.3" cy="170.2" r="1.3" fill="#fe0000"/><circle cx="204.9" cy="169.0" r="1.3" fill="#ff9999"/><circle cx="212.5" cy="155.4" r="1.3" fill="#cdcdff"/><circle cx="184.6" cy="159.0" r="1.3" fill="#9999ff"/><circle cx="214.3" cy="166.7" r="1.3" fill="#ffe9e9"/><circle cx="220.2" cy="167.2" r="1.3" fill="#ff9999"/><circle cx="209.3" cy="170.3" r="1.3" fill="#9999ff"/><circle cx="211.0" cy="171.0" r="1.3" fill="#cdcdff"/><circle cx="210.2" cy="173.8" r="1.3" fill="#ffcdcd"/><circle cx="212.4" cy="172.1" r="1.3" fill="#ff6565"/><circle cx="213.7" cy="173.6" r="1.3" fill="#ff3131"/><circle cx="216.3" cy="172.9" r="1.3" fill="#fe0000"/><circle cx="217.8" cy="171.1" r="1.3" fill="#cdcdff"/><circle cx="219.2" cy="170.7" r="1.3" fill="#cdcdff"/><circle cx="219.6" cy="172.1" r="1.3" fill="#ff9999"/><circle cx="177.9" cy="190.1" r="1.3" fill="#e1e1ff"/></g><rect x="21.3" y="143.7" width="222.3" height="88.8" fill="none" stroke="#c8c8c8" stroke-width="0.6"/><text x="95.8" y="139.6" font-weight="bold" font-size="7.3" textLength="73.3" lengthAdjust="spacingAndGlyphs">(c) Residual Difference</text><text x="19.1" y="158.0" text-anchor="end" class="tk">60°N</text><text x="19.1" y="170.7" text-anchor="end" class="tk">40°N</text><text x="19.1" y="183.4" text-anchor="end" class="tk">20°N</text><text x="19.1" y="196.0" text-anchor="end" class="tk">0°</text><text x="19.1" y="208.7" text-anchor="end" class="tk">20°S</text><text x="19.1" y="221.4" text-anchor="end" class="tk">40°S</text><text x="21.3" y="239.0" text-anchor="middle" class="tk">180°</text><text x="58.4" y="239.0" text-anchor="middle" class="tk">120°W</text><text x="95.4" y="239.0" text-anchor="middle" class="tk">60°W</text><text x="132.5" y="239.0" text-anchor="middle" class="tk">0°W</text><text x="169.5" y="239.0" text-anchor="middle" class="tk">60°E</text><text x="206.6" y="239.0" text-anchor="middle" class="tk">120°E</text><text x="243.6" y="239.0" text-anchor="middle" class="tk">180°</text><rect x="43.3" y="244.3" width="178.4" height="4.5" fill="url(#g_seismic)"/><text x="43.3" y="256.7" text-anchor="middle" class="tk">-4</text><text x="65.6" y="256.7" text-anchor="middle" class="tk">-3</text><text x="87.9" y="256.7" text-anchor="middle" class="tk">-2</text><text x="110.2" y="256.7" text-anchor="middle" class="tk">-1</text><text x="132.5" y="256.7" text-anchor="middle" class="tk">0</text><text x="154.8" y="256.7" text-anchor="middle" class="tk">1</text><text x="177.1" y="256.7" text-anchor="middle" class="tk">2</text><text x="199.4" y="256.7" text-anchor="middle" class="tk">3</text><text x="221.7" y="256.7" text-anchor="middle" class="tk">4 %</text><g clip-path="url(#clip_d)"><rect x="266.2" y="143.7" width="222.3" height="88.8" fill="#f0f8ff"/><path d="M273.5 152.8 276.1 152.3 277.3 152.0 276.4 151.3 274.4 151.1 274.7 150.7 277.4 149.9 280.7 149.2 283.5 149.5 285.7 149.9 289.0 150.0 290.3 150.3 293.4 150.7 294.6 150.4 298.3 149.7 300.8 150.4 305.1 150.7 308.2 151.4 310.7 151.6 314.4 151.4 316.8 151.3 318.7 150.4 319.0 148.8 320.5 150.0 321.8 151.0 324.2 150.4 326.7 150.4 326.7 151.9 324.2 152.3 323.9 152.3 323.0 153.8 321.3 154.3 319.3 155.8 319.2 157.1 320.5 158.3 323.0 158.9 326.5 159.5 327.6 161.8 328.6 161.8 328.6 160.2 330.1 158.6 329.8 156.4 329.2 154.9 331.7 154.9 334.1 155.8 334.4 157.0 335.7 157.3 337.2 156.2 337.5 156.2 339.1 158.0 340.0 159.2 341.8 160.2 343.0 161.3 342.2 161.8 340.3 162.6 337.8 162.6 336.0 163.0 334.4 164.0 336.3 163.2 337.5 163.4 337.2 164.3 337.5 165.1 339.4 165.5 340.3 165.3 340.3 165.5 338.1 166.2 336.7 166.9 336.6 166.2 337.5 165.7 336.0 165.9 334.1 166.7 333.6 167.3 334.1 167.9 333.2 168.2 331.7 168.7 331.7 169.4 331.0 169.8 330.9 170.3 330.4 171.0 330.7 172.1 329.2 172.9 328.3 173.5 327.3 174.1 327.1 175.1 327.6 176.4 327.9 177.5 327.7 178.5 326.9 178.0 326.3 177.0 326.2 176.0 325.5 175.4 324.2 175.2 322.4 175.2 322.3 176.0 321.2 175.9 319.3 175.7 317.5 176.8 317.1 178.0 317.1 179.2 317.2 180.8 318.0 182.3 319.0 182.9 320.8 182.7 321.5 181.9 321.6 181.1 323.6 180.8 323.3 182.1 322.8 183.3 322.7 184.4 324.2 184.4 326.0 184.9 325.8 186.8 325.7 187.5 326.4 188.4 327.9 188.5 329.5 189.0 329.2 189.9 329.0 189.2 328.3 188.8 327.6 189.8 326.7 189.2 325.0 188.3 324.4 187.5 323.3 186.2 322.4 185.9 320.8 185.6 320.4 185.2 319.3 184.3 317.8 184.5 316.5 184.1 315.0 183.5 313.4 182.8 312.2 181.8 312.3 180.7 311.6 179.7 310.7 178.6 309.7 177.6 309.1 176.7 308.1 175.7 306.6 174.4 306.6 175.4 307.7 176.7 308.8 178.0 309.4 179.2 309.8 179.8 309.2 179.6 308.2 178.7 307.0 177.4 306.3 176.8 306.6 176.4 305.7 175.1 305.0 173.8 304.2 172.9 302.9 172.5 302.1 171.2 301.7 170.5 300.9 169.2 300.6 168.8 300.7 167.8 300.8 165.1 300.3 163.7 301.4 163.9 301.7 163.5 301.1 163.0 300.2 162.5 298.6 162.1 298.0 161.1 297.1 159.9 296.5 159.6 294.9 158.0 293.7 157.3 292.4 157.1 291.0 156.5 289.7 156.4 288.4 156.4 286.9 155.9 286.0 156.4 284.4 156.8 283.6 156.9 284.4 155.6 282.9 156.7 282.3 157.3 280.7 158.3 279.2 159.0 277.0 159.6 275.6 159.9 277.0 159.2 278.6 158.5 280.1 157.5 280.4 157.1 279.2 157.1 277.3 157.3 276.1 156.4 275.2 155.4 275.5 154.7 277.9 154.2 277.6 153.6 275.5 153.5 274.5 153.3ZM329.5 189.0 330.4 188.5 330.7 187.8 331.3 187.5 332.4 187.1 333.1 186.6 333.2 187.3 334.0 187.1 334.1 186.8 335.1 187.8 336.0 187.7 337.8 187.7 339.1 187.7 339.7 188.4 340.3 189.1 341.5 190.0 342.2 190.6 343.4 190.6 344.6 190.9 345.2 191.3 345.9 191.9 346.5 193.3 346.5 194.4 347.4 195.1 349.9 196.0 351.5 196.3 353.3 196.7 353.6 196.8 355.1 197.6 355.6 197.9 355.8 199.5 355.3 200.6 353.6 202.7 353.3 204.3 353.1 205.7 352.3 207.4 351.4 209.0 350.7 209.0 349.3 209.5 348.8 209.7 347.4 210.9 347.4 211.9 346.7 213.0 345.9 214.1 344.9 215.4 344.4 215.9 343.4 216.6 342.6 216.6 341.6 216.2 341.3 216.4 342.0 217.3 342.3 217.6 341.8 218.5 338.9 219.1 338.9 220.1 337.2 220.4 338.0 221.5 337.2 221.7 336.9 223.0 335.7 223.6 336.7 224.8 335.5 225.8 334.7 227.2 335.1 227.7 333.8 228.1 332.9 228.4 331.3 227.7 330.7 225.5 330.7 223.9 331.7 222.4 331.7 221.7 332.0 220.8 331.8 218.5 332.1 217.9 332.8 216.6 333.1 215.4 333.2 213.5 333.3 212.2 333.8 210.3 333.9 209.0 334.0 207.1 333.9 206.1 333.2 205.4 331.0 204.3 330.2 203.0 329.7 202.1 328.8 200.2 328.1 198.9 327.1 198.2 327.1 197.4 327.8 196.6 328.0 196.0 327.4 195.8 327.6 194.8 327.9 193.9 328.7 193.5 329.5 192.2 329.7 191.9 329.6 190.3 329.2 189.9ZM335.0 227.8 335.7 228.4 337.1 229.1 336.3 229.4 335.1 229.6 333.5 229.3 332.0 228.3 333.5 228.6 334.1 228.1ZM397.3 174.6 396.5 174.4 395.8 174.7 394.0 174.5 392.9 174.4 392.2 174.1 391.6 173.8 390.3 173.6 389.7 174.1 389.1 175.2 388.2 174.8 386.9 174.5 386.7 173.9 385.5 173.6 384.5 173.4 384.0 173.1 383.6 172.9 384.0 172.4 384.2 172.1 384.2 170.9 383.6 171.1 383.5 170.8 382.7 171.0 382.2 171.0 380.4 171.2 379.2 171.1 378.0 171.3 377.0 171.8 376.1 172.2 375.5 172.1 374.1 171.7 373.7 171.7 373.2 172.9 372.7 173.1 371.7 173.8 371.3 174.5 371.4 175.2 371.1 175.9 369.9 176.7 369.4 176.7 368.4 177.9 367.5 179.4 366.9 181.0 367.3 182.1 367.5 183.0 367.2 184.2 366.5 185.1 367.0 185.9 367.0 186.1 367.3 186.8 368.1 187.5 368.7 188.1 368.9 188.4 369.2 189.1 369.9 189.8 370.2 190.1 371.5 191.0 372.7 191.7 374.3 191.1 374.9 191.1 376.1 191.4 377.4 190.9 378.1 190.6 379.4 190.4 380.4 191.0 381.1 191.7 381.7 191.7 382.6 191.5 383.2 192.0 383.4 192.9 383.2 193.8 382.7 194.8 383.2 196.0 384.1 196.7 384.6 197.5 384.9 198.2 385.4 199.5 385.5 200.0 385.9 201.4 385.6 202.4 384.9 204.0 384.6 205.4 384.9 206.2 385.7 207.6 386.3 209.0 386.7 211.3 386.9 211.9 387.5 212.6 388.2 214.1 388.6 215.1 388.4 215.4 388.7 216.0 389.7 216.5 390.9 216.1 393.2 216.0 394.6 215.4 395.9 214.3 396.5 213.4 397.4 212.5 397.5 210.9 398.0 210.6 399.3 209.7 399.2 208.1 398.9 207.0 400.1 205.8 401.4 204.9 402.4 204.0 402.4 202.4 402.4 201.1 401.9 199.5 401.6 198.8 401.6 197.6 401.9 197.0 402.2 196.2 403.0 195.5 403.6 194.7 405.3 193.2 406.4 191.9 407.3 191.0 408.1 189.4 408.7 187.8 409.0 187.0 407.6 187.3 405.1 187.8 404.0 187.1 404.1 186.5 403.3 185.6 401.7 184.5 401.1 183.0 400.3 182.0 400.1 180.5 399.3 179.3 398.3 177.6 397.7 176.4 397.5 175.5 398.5 176.8 398.9 175.7 398.5 174.6ZM407.8 202.1 408.5 204.3 408.1 205.2 407.3 207.4 406.7 210.2 405.3 210.6 404.5 210.2 404.1 208.4 404.8 207.1 404.5 205.2 405.8 204.5 407.0 203.3ZM398.9 175.7 399.3 177.0 400.2 178.6 400.8 179.2 401.6 180.8 402.5 182.4 403.6 184.0 403.9 185.2 404.2 186.4 405.1 186.3 407.0 185.6 407.6 185.2 409.5 184.4 410.7 183.7 411.6 183.2 412.4 182.5 413.0 181.9 414.3 180.2 413.5 179.5 412.5 179.2 412.2 177.7 411.9 178.3 411.5 178.4 410.1 179.1 409.2 179.0 409.2 178.0 409.0 177.9 408.7 178.7 408.3 177.8 407.9 177.3 407.0 175.9 407.5 175.4 408.4 175.9 408.7 176.1 409.8 177.1 411.2 177.6 412.1 177.2 412.7 178.0 413.8 178.3 414.8 178.4 415.8 178.5 417.2 178.5 418.7 178.7 419.0 179.2 419.6 179.5 420.0 180.2 420.6 181.1 421.2 181.3 422.2 180.5 422.3 181.1 422.3 182.4 422.9 184.6 423.5 186.3 424.4 188.1 425.2 189.3 425.6 188.9 426.3 187.9 426.9 186.2 426.9 184.6 428.2 183.9 428.8 183.2 429.8 182.1 430.8 181.6 431.1 180.8 432.0 180.7 432.9 180.5 434.0 180.2 434.3 181.3 434.7 181.7 435.6 183.0 435.5 184.3 436.3 184.4 436.8 183.9 437.6 184.0 437.9 185.6 438.2 186.8 438.2 188.1 438.1 189.1 438.1 189.4 438.8 190.3 439.3 191.0 439.7 192.2 440.3 192.9 441.3 193.6 441.8 193.6 441.3 191.9 441.2 191.3 440.3 190.5 439.5 189.9 439.0 188.5 438.6 187.8 439.0 186.5 439.4 185.9 439.7 186.4 440.6 186.7 441.0 187.5 441.9 187.8 442.2 189.0 443.1 188.4 443.7 187.8 444.7 187.1 444.8 186.2 444.8 185.7 444.2 184.2 443.4 183.7 442.8 182.6 442.6 182.4 443.2 181.2 444.0 180.8 444.7 180.8 445.5 181.6 445.9 180.9 447.1 180.5 447.9 180.3 449.3 179.9 450.2 178.9 451.1 178.1 451.8 177.3 452.4 176.4 452.7 175.4 452.6 174.8 452.1 174.1 451.8 173.2 451.0 172.4 451.5 171.7 453.0 170.8 452.1 170.5 450.8 170.8 450.2 170.0 450.0 169.7 451.1 169.1 452.1 168.6 452.9 168.8 452.3 169.8 453.6 169.2 454.1 169.1 454.5 169.4 454.7 170.5 455.5 170.6 455.3 171.6 455.5 172.6 456.1 172.5 457.0 172.2 457.3 171.6 457.3 170.7 456.7 170.0 456.1 169.5 456.7 169.1 457.4 168.4 457.6 167.6 458.9 167.0 459.5 167.3 461.0 166.5 462.6 164.9 464.1 163.7 464.1 162.7 464.7 161.3 464.1 160.5 462.3 160.2 460.7 159.7 461.9 158.6 463.8 157.7 465.7 156.8 467.5 156.9 470.5 156.6 472.4 156.8 473.1 156.4 474.3 155.4 476.1 155.2 476.5 156.1 474.9 157.7 473.7 157.8 473.7 159.6 474.1 162.2 475.2 160.8 476.1 159.9 477.4 158.8 478.1 157.7 478.6 156.5 479.9 156.2 482.3 156.4 483.6 155.8 485.1 155.2 487.0 154.8 487.9 154.9 488.5 153.2 488.5 150.7 486.0 150.2 482.5 150.2 479.9 150.3 476.8 150.4 473.7 149.4 471.2 149.5 469.4 148.8 466.3 148.4 463.8 148.5 460.7 149.0 457.6 149.4 456.7 148.5 455.2 147.8 453.9 147.7 450.2 147.8 447.1 147.6 445.9 147.5 444.7 147.3 447.1 146.4 442.2 145.6 441.8 145.2 439.1 145.9 436.6 146.2 434.2 146.4 431.7 146.7 430.5 147.0 428.0 147.8 427.2 147.8 427.4 148.5 425.5 148.6 424.3 149.3 425.2 148.6 424.0 148.3 422.7 148.2 423.4 151.0 422.1 151.3 422.4 149.7 422.1 148.5 420.5 147.9 419.3 149.4 419.3 151.0 419.0 150.7 416.9 150.6 414.7 150.2 413.2 150.9 410.7 151.2 408.2 151.5 405.8 152.0 404.2 150.9 404.5 152.4 403.3 152.3 402.4 153.5 400.8 153.8 399.9 153.7 398.8 153.3 397.4 151.9 399.6 152.5 402.7 152.5 402.8 151.8 400.8 151.1 397.7 150.4 394.6 149.4 393.3 149.3 390.3 149.9 389.0 150.2 386.9 150.7 386.0 151.2 385.7 152.3 385.1 152.9 383.5 154.2 382.6 154.3 380.7 155.0 380.4 156.1 380.8 157.1 381.7 157.7 382.3 157.6 383.2 157.0 384.0 156.7 384.1 157.0 384.3 157.5 384.7 157.8 385.1 158.6 385.4 159.2 386.2 159.2 387.2 158.8 387.5 158.5 387.7 157.8 389.0 156.8 388.2 155.9 388.0 155.2 388.1 154.9 389.1 154.2 389.9 154.0 391.1 152.8 392.3 152.7 393.0 153.2 391.6 154.0 390.7 154.4 390.6 155.4 391.1 156.1 392.8 156.3 394.3 156.1 396.0 156.4 394.6 156.8 392.6 156.8 391.9 156.9 391.9 157.5 392.5 157.4 392.2 158.3 391.7 158.3 391.3 157.8 390.6 158.0 390.3 158.6 390.4 159.1 390.0 159.6 388.9 159.9 388.5 159.7 387.2 160.0 386.1 160.3 385.4 159.9 384.8 160.1 384.1 160.2 383.6 159.9 383.7 159.2 383.8 157.8 382.6 158.2 382.4 159.2 382.7 160.0 382.6 160.4 381.7 160.5 380.7 160.6 380.3 161.0 379.8 161.5 379.4 161.8 378.9 162.0 378.5 162.1 378.3 162.5 377.5 162.9 376.5 163.0 376.2 162.9 376.4 163.6 375.5 163.5 374.4 163.7 374.7 164.1 375.8 164.4 376.6 165.1 376.7 166.1 376.4 166.9 375.5 166.9 375.0 166.9 373.8 166.8 372.4 166.7 372.2 166.9 371.6 167.2 371.9 167.8 372.0 168.3 371.8 169.1 371.5 169.8 371.9 170.0 371.8 171.0 372.5 171.0 373.5 171.3 373.9 171.6 374.6 171.2 376.0 171.2 376.7 170.6 377.0 170.1 377.5 169.9 377.2 169.4 377.9 168.6 378.7 168.2 379.4 167.6 379.2 167.2 379.8 166.9 380.7 167.0 381.1 167.1 381.9 166.7 382.8 166.3 383.4 166.5 383.7 166.9 384.1 167.5 384.9 168.0 386.1 168.6 386.6 168.9 387.0 169.4 387.0 170.3 387.5 170.0 387.9 169.7 387.5 169.2 388.0 168.8 388.8 169.0 388.5 168.7 387.8 168.4 387.2 167.9 386.0 167.5 385.7 166.8 385.1 166.5 384.9 165.6 385.8 165.5 385.9 166.0 386.6 166.2 387.5 166.9 388.5 167.4 389.1 167.8 389.4 168.1 389.3 168.8 389.7 169.3 390.3 170.1 390.7 171.0 391.2 171.4 391.6 171.3 391.7 170.7 392.0 170.4 392.2 170.2 391.6 169.7 391.5 169.5 391.5 168.7 392.0 169.1 392.5 168.5 393.4 168.6 393.5 169.0 393.7 169.1 393.5 169.4 394.0 170.1 393.6 170.1 394.1 170.7 394.3 171.0 394.8 171.1 395.3 171.2 396.2 171.4 396.3 171.0 397.1 171.3 397.6 171.6 398.3 171.4 398.7 171.1 399.6 171.2 399.5 171.7 399.5 171.9 399.3 172.9 399.0 173.6 398.8 174.1 398.5 174.6ZM266.2 153.2 267.1 152.9 268.7 153.1 270.4 153.6 270.8 153.6 271.8 152.9 272.6 152.5 271.1 152.0 269.9 151.9 268.7 151.4 267.1 151.0 266.2 150.7ZM350.2 156.5 351.4 155.8 352.0 154.5 352.6 153.3 354.2 152.8 355.7 152.3 357.3 151.2 361.3 150.9 363.1 150.0 363.8 149.7 363.8 149.1 364.4 148.1 365.6 147.2 365.3 146.2 365.9 145.3 365.6 144.3 367.5 143.4 369.9 142.7 365.0 142.1 358.8 141.5 349.6 141.8 341.5 142.3 339.1 142.6 337.2 143.1 335.4 143.5 332.9 144.5 334.1 145.3 336.6 146.1 339.7 146.2 341.8 146.7 342.8 147.5 343.4 148.5 344.0 149.3 345.4 149.9 344.3 150.4 345.5 151.0 344.6 151.9 344.8 152.6 345.5 153.7 346.5 154.6 347.4 155.6 349.1 156.2ZM363.5 153.8 362.5 152.9 363.5 152.3 366.2 152.5 368.4 152.3 369.0 153.1 368.1 153.7 365.7 154.2 364.1 154.0ZM322.7 147.8 324.9 147.8 327.9 147.7 330.1 148.3 332.9 149.0 335.1 149.7 336.3 150.6 339.1 151.9 339.4 152.3 338.1 153.2 336.9 153.3 337.5 154.3 337.2 154.9 336.2 155.0 335.1 154.3 333.1 154.4 332.6 154.0 331.0 153.6 329.5 153.5 329.2 153.1 331.7 152.7 332.6 151.8 331.3 151.1 329.8 150.4 327.9 150.0 326.7 150.0 325.2 150.0 324.2 149.7 323.0 149.4 322.1 148.5ZM318.1 146.6 320.5 145.9 323.0 145.9 326.7 145.9 328.3 146.6 326.7 147.1 323.0 147.2 320.5 147.0ZM322.1 146.0 324.9 146.0 327.9 146.0 329.2 145.6 329.8 144.8 332.3 144.5 332.9 144.0 335.4 143.5 337.2 143.1 339.1 142.4 337.2 141.8 327.9 141.8 321.8 142.7 324.2 143.4 324.2 144.0 324.9 144.7 323.0 145.1 322.1 145.6ZM318.4 144.7 321.2 144.8 323.3 144.3 323.9 143.6 321.8 142.9 319.3 143.1 318.1 143.7ZM313.1 144.8 315.6 144.8 315.9 144.5 314.4 144.3 313.1 144.5ZM316.8 145.1 318.1 145.0 317.8 144.5 316.8 144.7ZM308.2 145.3 311.9 145.2 310.7 144.6 308.2 144.8ZM317.8 147.0 319.6 147.0 319.3 146.6 318.1 146.6ZM315.6 151.0 318.1 151.1 317.8 150.2 316.2 150.4ZM303.9 149.1 304.8 148.3 307.0 147.9 309.4 148.3 311.6 148.0 312.8 148.5 314.4 149.4 315.0 150.0 313.7 150.8 311.9 150.7 309.4 151.0 307.6 151.0 305.1 150.7 303.9 150.0 305.1 149.7ZM300.2 148.8 300.8 147.5 303.2 147.3 304.8 147.6 305.7 148.1 305.1 148.5 303.2 149.0 301.7 149.3ZM305.1 147.1 304.8 146.1 307.6 145.7 310.7 146.2 312.2 146.6 311.6 147.0 309.4 147.1ZM301.4 146.1 303.9 145.4 306.0 145.7 304.5 146.5ZM315.0 146.4 317.5 146.0 317.5 146.9 315.6 147.0ZM314.4 148.5 315.6 147.6 317.5 147.8 317.8 148.5 316.8 149.1 315.0 148.9ZM318.4 148.6 319.0 147.5 321.2 147.5 321.8 148.3 319.9 148.5ZM323.9 153.8 324.6 152.7 326.1 152.5 327.3 153.6 327.8 154.0 326.1 155.0 324.2 154.2ZM301.2 163.7 300.3 163.6 299.2 163.0 298.1 162.2 298.6 162.2 300.0 162.6 300.8 163.2ZM344.8 164.3 344.3 164.9 342.9 164.6 340.7 164.3 341.5 163.2 341.9 162.3 343.0 161.7 343.1 162.8 344.3 163.2 344.7 164.0ZM324.9 180.6 326.7 179.7 327.9 179.9 329.7 180.7 331.5 181.6 329.4 181.8 328.8 181.0 327.0 180.4 325.8 180.4ZM331.4 182.8 332.4 181.8 334.2 182.0 335.1 182.6 333.4 183.2 331.4 182.8ZM329.0 182.8 330.3 182.9 330.1 183.2 329.2 183.0ZM335.9 182.7 336.8 182.8 336.8 183.0 335.9 183.0ZM281.9 158.5 283.3 158.0 282.7 157.5 281.9 158.0ZM373.8 162.7 375.2 162.5 376.7 162.3 378.2 162.0 378.4 161.1 377.5 160.6 377.2 160.1 376.4 159.6 376.1 159.0 375.5 158.9 375.7 158.7 376.1 158.2 376.2 157.9 375.4 157.3 374.3 157.3 373.8 158.0 373.9 158.7 373.6 159.4 374.2 159.4 374.4 159.7 375.4 159.6 375.2 159.9 375.5 160.3 375.5 160.6 374.5 160.6 374.8 161.1 374.1 161.6 375.4 161.8 374.6 162.1ZM373.6 161.3 373.5 160.6 374.0 159.9 373.5 159.4 372.7 159.4 372.1 159.8 371.2 160.1 371.5 160.6 371.0 161.5 371.5 161.7 372.4 161.6 373.4 161.3ZM385.0 170.5 386.7 171.2 387.0 170.1 385.7 170.2ZM382.5 169.7 383.3 169.6 383.4 168.3 382.4 168.5ZM382.7 168.2 383.2 168.2 383.2 167.2 382.7 167.6ZM391.9 172.1 393.6 172.1 392.6 172.2ZM397.3 172.4 398.7 171.8 398.3 172.2ZM384.1 144.7 387.2 145.9 390.9 145.3 394.0 144.5 390.9 143.6 387.8 143.7 384.1 144.0ZM388.5 143.7 394.0 143.8 394.0 143.4 389.7 143.3ZM406.4 143.6 411.3 143.7 415.6 143.4 413.2 142.7 408.2 143.1ZM409.2 149.1 412.5 149.7 411.6 148.5 414.4 147.2 416.9 146.4 419.6 145.7 417.5 145.7 414.4 146.0 411.3 147.2 410.1 147.8ZM436.0 144.0 439.1 144.8 442.2 144.3 441.0 143.4 437.2 143.1ZM461.9 146.6 464.4 147.8 468.1 147.0 470.0 146.7 467.5 146.1 463.8 146.2ZM266.2 149.1 267.4 149.2 267.7 149.4 266.2 149.5ZM488.5 149.1 487.9 149.3 488.5 149.5ZM465.0 165.3 466.0 164.9 465.8 163.2 466.5 163.4 465.7 161.8 465.8 160.7 465.4 160.0 464.9 160.6 465.2 162.1 465.0 164.0ZM458.2 172.9 458.7 172.4 459.5 171.9 460.9 171.8 461.3 171.3 461.9 171.0 462.1 170.7 462.9 170.7 463.2 170.4 463.8 169.4 463.8 168.6 464.1 168.2 464.7 168.2 465.0 169.4 464.4 170.1 464.2 171.1 464.4 171.8 463.7 172.1 463.1 172.5 461.9 172.5 461.2 173.2 460.8 172.7 459.5 172.7 458.2 172.9ZM457.6 173.0 457.7 173.8 457.9 174.7 458.4 174.5 458.8 173.5 458.2 172.9ZM459.2 173.3 459.5 173.7 460.5 173.0 459.8 172.7ZM463.8 168.1 464.5 167.9 465.8 167.8 467.2 167.0 466.4 166.5 465.0 165.6 464.8 166.9 464.1 167.0 463.8 167.5ZM451.5 179.9 451.9 180.6 452.6 178.8 452.4 178.4 451.6 179.2ZM444.4 182.3 445.1 182.9 445.8 182.1 445.6 181.7 444.8 181.8ZM451.5 184.3 451.8 182.7 452.8 182.7 452.7 184.0 452.4 185.4 453.9 186.2 453.6 185.7 451.8 185.4ZM452.7 190.0 453.9 190.6 454.8 190.9 455.5 190.0 455.3 188.4 454.2 188.9 453.3 189.1ZM452.7 187.8 453.6 188.4 454.8 188.1 454.8 186.5 453.9 186.5 453.0 187.0ZM449.7 189.2 451.3 187.3 451.0 187.3 449.6 189.0ZM444.7 193.4 445.0 193.2 445.9 193.5 447.1 192.4 448.4 191.3 449.0 190.1 450.0 190.4 451.0 191.1 450.2 191.7 450.1 193.8 450.8 193.9 449.9 194.4 449.3 195.4 449.2 196.7 448.1 197.0 445.9 196.3 445.4 196.3 445.0 194.8ZM436.2 190.9 437.6 191.1 439.1 192.9 441.3 195.1 441.9 195.7 442.8 196.3 442.7 198.1 441.9 198.1 440.3 197.0 439.4 195.1 438.4 193.4 436.9 192.0ZM442.3 198.7 442.8 198.2 444.3 198.6 445.6 198.6 446.8 198.8 448.1 199.4 448.0 200.0 445.3 199.6 443.1 199.1ZM448.4 199.6 449.0 199.7 450.8 199.7 453.3 199.7 453.3 200.0 450.8 200.0 449.0 200.1 448.4 200.0ZM453.6 201.0 454.5 200.2 455.9 199.8 454.8 200.5 453.9 201.0ZM451.1 197.9 451.8 197.9 451.6 196.3 452.1 196.2 452.7 197.3 453.4 197.5 452.4 195.6 453.5 195.0 452.4 195.1 451.6 194.2 453.3 194.1 454.5 193.5 454.2 193.9 452.1 193.6 451.3 194.3 450.7 196.2ZM456.1 193.2 456.8 193.6 456.4 194.3 456.9 195.0 456.3 194.8 456.1 193.8ZM456.4 196.3 458.1 196.5 457.9 196.7 456.5 196.7ZM458.2 195.3 459.2 194.7 460.2 195.0 460.2 196.0 460.7 196.5 461.6 195.9 462.3 195.4 464.4 196.1 467.3 197.4 468.4 198.2 468.7 199.5 470.2 201.0 468.1 200.9 467.5 199.6 466.3 199.3 465.7 200.2 464.4 200.2 463.2 199.6 462.6 199.8 462.4 197.7 460.7 197.2 459.5 197.0 458.9 196.2 459.8 196.0ZM468.9 197.9 470.0 197.6 471.2 197.1 470.9 197.9 469.4 198.4ZM426.7 190.5 426.6 189.4 426.8 188.2 427.5 189.1 427.9 190.0 427.6 190.5 427.1 190.7ZM447.6 208.3 448.1 208.1 449.4 207.5 450.6 207.3 452.1 206.8 452.8 205.9 453.6 205.2 454.5 204.0 455.5 203.3 456.4 203.9 457.3 204.0 457.7 202.6 458.1 202.3 459.2 201.7 460.7 202.2 461.8 202.2 461.2 203.6 461.0 204.0 461.9 204.6 463.5 205.5 464.3 205.5 464.7 204.0 464.8 202.4 465.3 201.2 466.0 203.3 466.6 203.5 467.1 204.0 467.4 205.2 467.7 206.5 468.0 206.6 469.4 207.8 470.5 208.7 470.6 209.7 471.8 210.4 472.0 211.9 472.2 212.6 471.8 214.1 471.1 215.3 470.8 215.9 470.1 217.1 470.0 218.2 468.4 218.5 467.8 219.2 466.8 218.5 466.0 219.1 464.7 218.8 463.8 218.2 463.6 217.6 462.9 217.0 462.9 216.6 462.3 216.8 462.4 215.4 461.3 216.5 461.0 216.5 460.3 215.4 458.9 214.7 457.0 214.5 455.2 214.9 453.9 215.8 452.7 215.9 451.1 216.3 450.2 216.6 448.4 216.2 448.8 215.7 448.8 214.7 448.4 213.2 448.1 212.7 447.4 211.3 447.4 210.0ZM466.6 220.3 468.9 220.4 468.7 221.8 467.8 222.1 467.0 221.2ZM484.0 216.3 485.1 217.2 486.0 218.2 487.6 218.4 487.2 219.3 486.6 219.6 486.2 220.6 485.3 220.6 485.5 220.0 484.7 219.4 485.2 218.5 485.0 217.6ZM484.0 220.1 485.0 220.9 484.4 221.7 484.1 222.2 483.1 222.7 482.7 223.6 481.7 224.0 480.2 223.6 480.3 223.1 481.4 222.4 482.6 221.6 483.3 220.9ZM281.0 182.4 281.6 182.1 281.1 181.6ZM339.5 227.0 341.5 227.0 341.2 227.6 340.0 227.4ZM419.8 225.6 420.9 225.5 420.6 226.0 420.0 225.9ZM470.3 196.1 471.3 196.5 471.8 197.4 471.5 197.4 470.9 196.6ZM472.8 197.7 473.3 198.0 473.7 198.8 473.2 198.8 472.9 198.2ZM474.0 198.9 474.8 199.3 475.5 199.7 475.2 199.8 474.3 199.4ZM475.9 200.3 476.6 200.5 476.5 200.7 476.0 200.5ZM476.5 199.7 477.0 200.1 477.1 200.5 476.7 200.2ZM480.2 203.8 480.6 204.1 480.7 204.8 481.3 205.6 481.6 206.5 481.5 206.6 481.0 205.7 480.3 204.5ZM478.6 207.2 479.2 207.4 480.2 208.1 480.5 208.6 480.2 208.7 479.4 208.1 478.7 207.5ZM486.8 205.5 487.6 205.5 487.5 206.0 486.8 205.9ZM487.6 204.9 488.5 204.7 488.4 205.1 487.8 205.2Z" fill="#d3d3d3" stroke="#777777" stroke-width="0.45" stroke-linejoin="round"/><path d="M395.3 168.3 394.6 168.1 394.3 167.5 394.6 167.0 395.1 166.4 395.7 165.8 396.3 164.9 396.8 164.9 397.4 165.6 398.0 166.2 398.7 166.2 399.3 165.8 399.1 165.4 399.3 164.9 401.1 164.5 400.8 165.3 400.5 165.7 400.7 166.1 401.9 166.8 403.0 168.1 401.9 168.4 399.8 168.2 399.0 167.8 398.0 167.8 396.5 168.3ZM406.7 165.5 406.7 166.5 406.7 167.2 407.2 167.8 407.9 168.7 408.4 168.8 407.6 169.7 407.5 170.0 407.6 170.7 408.8 171.2 410.7 171.0 410.6 170.0 410.3 169.4 410.4 168.4 409.8 168.0 410.0 167.2 408.8 166.2 410.1 165.6 410.1 164.8 408.8 164.6 407.6 164.9Z" fill="#f0f8ff" stroke="#777777" stroke-width="0.45" stroke-linejoin="round"/><path d="M301.2 163.4 318.6 163.4 318.6 163.1 322.0 164.0 325.0 164.9 326.4 167.3 328.6 167.3 330.1 166.5 331.2 165.9 333.2 165.9 333.8 165.5 334.6 164.4 335.4 164.4 335.5 165.5 336.0 165.9M290.3 150.3 290.3 156.2 292.4 157.0 294.0 156.7 295.2 157.7 297.1 158.9 297.1 159.7M305.0 173.8 306.5 173.7 308.8 174.6 310.5 174.6 311.6 174.3 312.8 175.7 313.7 176.0 314.7 175.5 315.9 177.0 317.3 178.0M320.4 185.2 320.5 184.3 321.2 183.5 322.3 183.2 322.8 182.7M322.3 183.2 322.3 184.4 322.9 184.5M321.7 185.8 322.1 185.3 322.7 185.4 323.1 186.0M323.4 186.2 324.9 185.6 326.0 184.9M324.4 187.4 325.7 187.5M326.2 189.3 326.3 188.4M332.4 181.8 333.1 182.8M333.0 186.8 332.6 187.4 332.0 188.6 332.6 189.7 334.1 190.0 335.5 190.4 335.7 192.0 335.8 193.2 336.0 193.7M340.3 189.1 339.4 190.7 339.9 191.1 339.1 191.8 337.3 191.8 337.7 192.9 336.0 193.7M342.0 190.7 341.5 193.5M344.0 190.8 343.9 193.0M339.9 191.1 340.5 193.0 342.8 193.2 343.9 193.0 344.9 193.0 345.5 191.8M336.0 193.7 334.5 193.7 334.2 197.1M334.2 197.1 332.0 194.6 330.9 194.5M330.9 194.5 328.7 193.6M330.9 194.5 328.9 197.6 327.8 196.6M334.2 197.1 332.3 199.1 332.6 200.5 333.8 201.4 334.4 201.4M334.4 201.4 334.9 202.6 334.5 204.3 334.4 205.5 334.4 205.9M334.4 205.9 333.9 206.1M334.4 201.4 337.0 200.7 338.9 203.0 340.1 204.0 341.3 204.8 341.7 205.9 341.4 207.1M334.4 205.9 335.2 208.1 335.9 208.9M335.9 208.9 337.6 208.8 338.6 208.4M338.6 208.4 339.2 206.9 340.9 206.7 341.4 207.1M341.4 207.1 341.7 208.5 342.9 208.6 343.6 210.7M338.6 208.4 340.3 209.7 341.2 211.7 342.8 211.8 343.6 210.7M343.6 210.7 344.1 211.6 342.9 212.5 341.8 213.6M341.8 213.6 343.0 214.0 344.4 215.8M341.8 213.6 341.3 215.8M335.9 208.9 335.1 210.3 334.4 212.5 333.9 214.4 334.1 215.7 333.7 217.6 333.4 219.2 333.0 221.1 333.1 222.7 332.6 224.6 332.1 225.8 332.6 226.8 334.1 227.4 335.1 227.7M376.2 172.2 376.6 173.8 375.2 174.5 372.0 176.2 372.0 176.9M372.0 176.9 369.2 176.9M372.0 176.9 372.0 178.0 369.9 178.0 369.9 179.5 369.3 180.9 366.9 180.9M372.0 178.0 374.4 178.6M374.4 178.6 373.8 184.6 370.2 184.7 369.8 185.1 368.4 183.9 367.2 184.2M374.4 178.6 378.1 181.2 379.3 182.3 379.9 182.1M379.9 182.1 384.8 179.5M384.8 179.5 383.5 178.6 383.5 175.4 383.2 175.2M382.5 171.0 382.5 172.5 382.0 173.0 382.9 174.1 383.2 175.2 384.5 173.4M384.8 179.5 386.0 179.9 386.6 179.9 392.2 182.1M392.2 182.1 392.2 181.8 392.8 181.8 392.8 180.5M392.8 180.5 392.8 175.4 392.9 174.4M392.8 180.5 400.1 180.5M379.9 182.1 379.9 183.7 379.6 184.5 378.0 184.9 377.5 185.0 377.0 184.9 376.1 185.4 375.5 185.8 374.6 186.8 374.0 187.8M386.6 179.9 386.9 181.4 386.9 183.8 385.7 185.8M385.7 185.8 384.8 186.0 383.3 186.3 381.7 186.2 379.9 185.9 379.6 187.0M379.6 187.0 379.0 188.7 379.0 190.4M392.2 182.1 392.2 184.5 391.2 185.6 390.9 186.4 391.5 187.5M391.5 187.5 389.7 188.7 387.2 189.5 386.9 189.7 386.3 188.1 386.6 187.5 386.3 186.3 385.7 185.8M386.3 186.3 386.4 186.8 385.5 188.1 384.8 189.7 384.1 190.3 383.3 191.1 382.7 191.5M391.5 187.5 391.9 188.4 393.7 188.4 395.3 188.2 397.9 187.8 398.5 188.4M401.1 183.0 399.9 185.4 399.9 186.2 399.0 187.3 398.5 188.4M399.9 185.4 401.1 185.2 402.1 185.2 403.6 186.5M403.6 186.5 403.3 187.5 403.9 187.5 404.5 188.7 407.0 189.4 405.1 191.3 403.3 191.9 402.7 191.9M402.7 191.9 402.7 192.7 402.7 195.5M402.7 191.9 401.7 192.2 399.5 191.5 398.7 191.3 397.7 189.5 398.5 188.4M398.7 191.3 396.5 192.1 395.6 191.6 394.3 191.3 392.8 191.3 391.2 191.8 389.4 191.3 388.8 192.2M394.3 191.3 392.8 189.7 391.9 188.4M388.8 192.2 388.2 195.1 387.2 196.0 386.7 197.2 385.1 197.6M383.4 193.0 384.3 193.0 385.6 193.0 387.2 193.2 387.4 192.2 386.6 191.6 386.3 190.3 386.9 189.7M388.8 192.2 387.4 192.2M385.6 193.0 386.3 195.1 386.0 196.0 384.5 196.7M384.9 198.2 387.5 199.2 388.2 199.5 389.3 199.1 390.8 199.1 390.9 200.8 392.2 201.4 392.2 202.7M392.2 202.7 390.9 202.7 390.9 204.7 391.9 205.7M384.6 205.4 385.7 205.5 388.8 205.5 390.3 205.9 391.9 205.7M392.2 201.4 393.4 201.9 394.6 202.4 395.6 202.2 394.9 200.5 396.2 199.7M398.7 191.3 398.3 191.7 395.9 193.8 395.6 195.3 395.3 196.2 395.4 197.3 395.6 198.6 396.2 199.7M398.3 191.7 399.0 193.3 398.3 194.3 398.3 195.1M398.3 195.1 400.5 196.7 401.6 197.4M395.6 195.3 398.3 195.1M396.2 199.7 397.7 200.4 398.9 201.8 400.5 201.8 402.3 201.1M397.7 200.4 398.0 202.1 397.4 203.3 396.0 204.3M398.0 203.6 399.1 205.3 399.0 203.3 398.9 201.8M391.9 205.7 393.0 205.7 394.6 204.9 396.0 204.3M396.0 204.3 397.7 205.0 397.5 206.8 397.4 207.8 396.7 208.7M393.0 205.7 393.4 206.5 394.3 207.4 395.3 208.5 396.7 208.7M390.3 205.9 390.3 208.4 389.7 208.4 389.7 210.2M389.7 210.2 390.0 211.4 391.4 210.6 393.1 210.7 393.9 210.0 395.3 208.5M389.7 210.2 389.7 212.5 387.5 212.6M396.7 208.7 397.1 210.0 397.1 210.9 397.7 211.5M394.0 213.2 394.9 212.6 395.5 213.1 394.8 213.9 394.0 213.2M369.8 185.1 370.3 186.6M367.0 186.6 368.9 186.5 370.3 186.6 372.2 187.3 372.3 188.1 372.5 189.1M369.1 188.2 370.3 189.1 371.0 189.1 370.2 190.1M372.2 187.3 374.0 187.8 375.5 187.6 375.6 187.5 377.4 187.5M375.6 187.5 375.7 188.4 375.4 191.2M372.5 189.1 372.1 189.7 372.7 191.7M377.4 187.5 377.7 189.4 378.1 190.6M377.9 187.5 378.3 190.5M377.5 185.0 378.6 186.3 378.8 186.9 379.6 187.0M367.0 185.8 368.8 185.9 368.1 186.1 367.0 186.1M398.9 175.7 398.5 174.6M399.0 175.8 400.2 175.5 400.8 174.5 401.6 174.0M403.5 170.9 402.9 172.6 401.3 173.3M401.6 174.0 403.3 174.8 405.0 175.9 406.1 176.0 406.8 176.4M407.3 175.4 406.8 174.5 406.4 173.5 405.8 172.2 405.4 171.3 405.0 170.8M399.6 171.6 400.0 171.1 402.1 171.1 403.5 170.9 405.0 170.8M405.0 170.8 404.7 170.0 404.8 169.5 404.1 168.3 403.0 168.1M399.5 173.6 399.9 174.0 401.3 173.3 399.9 172.5 399.5 172.2M402.0 166.9 403.3 167.0 404.5 167.4 406.1 167.9 407.2 167.9M403.8 184.0 404.8 183.4 406.4 183.7 409.5 182.4 411.3 181.8 411.7 180.2M409.5 182.4 410.1 183.9M409.2 179.0 409.8 179.9 411.7 180.2 411.9 178.9 412.2 178.0M415.1 171.9 415.0 172.7 414.9 174.5 415.4 174.5M415.4 174.5 416.1 175.7 415.3 176.3 416.1 177.3 415.4 178.5M410.6 170.8 412.7 170.3 413.8 170.7 414.9 171.3 415.1 171.9M415.1 171.9 416.2 172.1 417.2 171.4 418.4 170.7 419.3 171.0 420.6 170.7 421.5 170.4 423.6 170.8M415.0 175.5 416.9 175.7 418.4 175.5 420.1 174.2 421.1 172.9 421.3 171.6 423.4 171.0M419.5 179.4 420.6 179.0 421.2 178.3 420.6 176.8 422.1 175.4 423.4 174.7 423.9 173.9 423.4 172.6 425.4 171.9M423.6 170.8 425.4 171.9 426.1 172.9 426.3 173.8 426.8 175.0 427.7 175.3 429.2 176.0 431.7 176.7 432.3 176.7 434.2 176.8 435.4 176.0 437.2 176.5M426.8 176.2 429.2 177.1 431.8 177.6 431.7 176.7M426.8 176.2 426.9 175.2M431.8 177.6 432.3 178.3 434.2 178.5 434.5 179.5 434.5 180.9M431.9 178.7 432.2 180.3M437.2 176.5 436.0 177.6 435.7 178.9 435.1 179.5 434.9 180.4 434.5 180.9M437.2 176.5 438.2 177.0 437.7 178.6 438.5 180.4 439.8 180.7M439.8 180.7 440.5 180.2 442.4 179.7 443.2 180.0 444.0 180.7M439.2 181.5 438.2 181.9 437.6 182.7 438.4 184.1 438.0 184.8 438.6 186.4 438.2 188.1M439.2 181.5 439.8 182.1 439.8 183.2 441.9 183.4 442.6 184.4 442.6 185.4M442.6 185.4 441.0 185.4 440.7 186.7M440.5 180.2 441.6 181.2 442.3 182.4 443.1 183.5 443.8 184.6 443.7 185.2M442.6 185.4 443.7 185.2 443.0 187.0 441.9 187.8M439.3 190.3 440.3 190.5M439.8 180.7 439.2 181.5M431.6 163.2 433.0 164.2 433.5 165.8 435.1 166.0 436.8 167.4 439.6 167.4 442.2 168.1 445.5 167.3 446.4 166.7 446.3 165.8 447.7 165.6 449.4 165.0 451.4 164.8 450.2 164.1 449.4 162.9M431.6 163.2 434.2 162.3 437.9 161.5 440.3 161.9 442.8 162.5 444.3 163.2 447.7 162.6 449.4 162.9M449.4 162.9 451.5 161.1 453.3 160.5 455.5 161.1 456.1 162.9 458.2 164.2 460.5 163.9 459.5 165.8 458.4 167.2 458.0 167.5M458.0 167.5 457.0 167.8 456.4 168.1 455.2 168.5 454.1 169.1M455.2 170.5 455.8 170.1 456.6 170.0M431.3 163.2 430.1 164.6 428.3 164.6 428.3 165.6 426.8 165.9 426.9 167.7M426.9 167.7 424.3 168.8 423.0 169.4 423.6 170.8M431.3 163.2 429.8 162.4 428.6 162.1 426.8 162.2 424.9 160.6 422.7 160.2 420.6 159.4 417.5 159.8 415.3 160.2 415.0 161.5 413.5 162.1 411.3 162.3 409.5 161.7 408.2 161.9 407.3 163.0 406.1 163.6 406.4 164.6 407.6 165.0M410.1 167.8 411.9 168.2 411.9 165.9 413.5 165.6 415.0 166.3 415.6 166.9 417.2 166.8 418.1 167.8 419.6 168.6 421.2 167.6 423.0 167.0 426.9 167.7M411.9 168.2 413.6 167.4 414.4 167.8 415.3 168.3 415.9 169.4 417.2 170.1 418.4 170.7M419.6 168.6 420.9 168.9 422.4 169.5 423.0 169.4M419.2 170.8 419.6 169.6 420.9 168.9M400.9 164.6 402.1 164.0 402.1 163.0 400.8 162.7 399.3 162.5 398.3 161.6 397.1 161.4 396.8 160.5 397.5 160.3 396.5 158.9 394.8 158.8 394.5 158.0 394.3 157.6 394.6 156.8M394.6 156.1 395.6 155.4 396.8 154.5 395.9 153.8 395.9 151.6 395.3 150.7 396.5 150.2M395.3 150.7 393.4 150.2 392.5 150.9 390.3 150.6M390.3 150.6 392.0 151.3 392.3 152.7M390.3 150.6 388.5 151.0 387.2 151.6 386.3 152.6 385.7 153.5 384.9 154.5 385.1 155.8 384.5 156.8 384.3 157.1M391.9 161.8 394.0 161.7 396.2 161.8 397.1 161.4M391.9 161.8 391.9 160.8 391.9 160.3M391.9 161.8 392.2 162.5 391.3 163.3M391.3 163.3 389.1 163.1 387.5 162.5 386.6 162.1M386.6 162.1 386.4 161.1 386.1 160.3M391.9 160.3 392.8 160.1 393.8 159.1 394.8 158.8M390.3 158.9 393.8 159.1M392.4 157.7 394.3 157.9M389.5 159.9 391.4 159.9 390.5 159.4M391.3 163.3 391.4 163.9 392.5 164.1 393.8 163.8 394.6 163.9 395.9 165.0 395.7 165.7M393.8 163.8 394.8 164.9 394.8 165.6M391.4 163.9 390.3 165.1 391.2 166.2 391.6 166.7 394.3 166.5 395.0 166.7M391.2 166.4 391.2 167.2 391.6 168.2 393.5 168.0 394.6 167.8M393.5 168.0 393.4 168.6M391.6 168.2 390.3 168.5 389.8 169.3M390.9 163.7 389.0 164.1 387.8 164.0M376.2 166.9 377.8 167.3 379.3 167.5M378.9 162.0 379.9 162.8 380.9 163.0 382.4 163.4 382.0 164.3M382.0 164.3 381.1 165.1 381.7 165.4 381.4 166.4 382.0 166.7M371.9 167.8 372.3 167.8 373.5 168.1 373.0 169.3 372.8 170.0 372.8 170.8M381.8 160.7 381.1 161.6 381.2 162.4 381.2 163.0M379.9 161.8 380.9 162.0 381.1 162.3M382.7 159.6 383.3 159.7M386.5 162.2 384.9 162.5 385.9 163.6 385.4 164.3 383.6 164.4 382.0 164.3M381.6 165.3 382.6 165.1 383.8 164.9 383.8 164.7 384.8 164.6 385.8 164.9 385.7 165.5M385.9 163.6 386.6 163.4 387.8 163.7 387.5 164.3 387.2 164.8M387.2 164.8 387.8 165.3 389.1 165.3 389.9 165.1 390.3 165.1M387.0 165.8 387.5 165.8 389.3 165.9 389.3 166.5 388.8 167.5M389.3 166.5 390.3 167.0 391.2 167.2M389.4 168.1 390.0 167.7 390.3 167.7 391.2 167.6 391.6 168.2" fill="none" stroke="#8f8f8f" stroke-width="0.4" stroke-linejoin="round"/><line x1="303.25" y1="143.7" x2="303.25" y2="232.5" stroke="#d3d9df" stroke-width="0.5" stroke-opacity="0.75"/><line x1="340.30" y1="143.7" x2="340.30" y2="232.5" stroke="#d3d9df" stroke-width="0.5" stroke-opacity="0.75"/><line x1="377.35" y1="143.7" x2="377.35" y2="232.5" stroke="#d3d9df" stroke-width="0.5" stroke-opacity="0.75"/><line x1="414.40" y1="143.7" x2="414.40" y2="232.5" stroke="#d3d9df" stroke-width="0.5" stroke-opacity="0.75"/><line x1="451.45" y1="143.7" x2="451.45" y2="232.5" stroke="#d3d9df" stroke-width="0.5" stroke-opacity="0.75"/><line x1="266.2" y1="156.39" x2="488.5" y2="156.39" stroke="#d3d9df" stroke-width="0.5" stroke-opacity="0.75"/><line x1="266.2" y1="169.07" x2="488.5" y2="169.07" stroke="#d3d9df" stroke-width="0.5" stroke-opacity="0.75"/><line x1="266.2" y1="181.76" x2="488.5" y2="181.76" stroke="#d3d9df" stroke-width="0.5" stroke-opacity="0.75"/><line x1="266.2" y1="194.44" x2="488.5" y2="194.44" stroke="#d3d9df" stroke-width="0.5" stroke-opacity="0.75"/><line x1="266.2" y1="207.13" x2="488.5" y2="207.13" stroke="#d3d9df" stroke-width="0.5" stroke-opacity="0.75"/><line x1="266.2" y1="219.81" x2="488.5" y2="219.81" stroke="#d3d9df" stroke-width="0.5" stroke-opacity="0.75"/><circle cx="308.5" cy="158.6" r="1.3" fill="#0080ff"/><circle cx="303.2" cy="165.2" r="1.3" fill="#0080ff"/><circle cx="305.0" cy="165.0" r="1.3" fill="#0080ff"/><circle cx="307.7" cy="163.1" r="1.3" fill="#0080ff"/><circle cx="308.6" cy="165.8" r="1.3" fill="#0080ff"/><circle cx="305.7" cy="166.9" r="1.3" fill="#0080ff"/><circle cx="303.2" cy="169.2" r="1.3" fill="#009cff"/><circle cx="302.3" cy="171.5" r="1.3" fill="#00b0ff"/><circle cx="303.7" cy="172.6" r="1.3" fill="#00e4f8"/><circle cx="311.4" cy="172.8" r="1.3" fill="#0080ff"/><circle cx="313.7" cy="168.8" r="1.3" fill="#0080ff"/><circle cx="315.2" cy="164.6" r="1.3" fill="#0080ff"/><circle cx="317.1" cy="164.0" r="1.3" fill="#0080ff"/><circle cx="318.0" cy="166.9" r="1.3" fill="#0080ff"/><circle cx="319.6" cy="167.9" r="1.3" fill="#009cff"/><circle cx="317.8" cy="169.9" r="1.3" fill="#00c4ff"/><circle cx="316.8" cy="171.4" r="1.3" fill="#00b0ff"/><circle cx="322.7" cy="169.1" r="1.3" fill="#009cff"/><circle cx="325.4" cy="169.1" r="1.3" fill="#009cff"/><circle cx="325.2" cy="171.8" r="1.3" fill="#009cff"/><circle cx="325.2" cy="173.5" r="1.3" fill="#00b0ff"/><circle cx="328.0" cy="166.4" r="1.3" fill="#0080ff"/><circle cx="318.4" cy="175.8" r="1.3" fill="#39ffbe"/><circle cx="333.0" cy="165.9" r="1.3" fill="#0080ff"/><circle cx="332.6" cy="168.5" r="1.3" fill="#0080ff"/><circle cx="330.9" cy="170.6" r="1.3" fill="#004cff"/><circle cx="329.8" cy="169.5" r="1.3" fill="#0080ff"/><circle cx="329.9" cy="171.4" r="1.3" fill="#0080ff"/><circle cx="316.0" cy="182.2" r="1.3" fill="#0080ff"/><circle cx="319.7" cy="183.8" r="1.3" fill="#0060ff"/><circle cx="335.7" cy="182.7" r="1.3" fill="#ffb200"/><circle cx="332.0" cy="188.2" r="1.3" fill="#39ffbe"/><circle cx="340.2" cy="196.2" r="1.3" fill="#00b0ff"/><circle cx="335.3" cy="200.7" r="1.3" fill="#0080ff"/><circle cx="338.8" cy="201.4" r="1.3" fill="#0080ff"/><circle cx="342.7" cy="200.5" r="1.3" fill="#0094ff"/><circle cx="342.8" cy="204.3" r="1.3" fill="#0080ff"/><circle cx="338.3" cy="205.4" r="1.3" fill="#0080ff"/><circle cx="333.8" cy="206.0" r="1.3" fill="#39ffbe"/><circle cx="343.7" cy="207.4" r="1.3" fill="#009cff"/><circle cx="348.6" cy="209.2" r="1.3" fill="#29ffce"/><circle cx="333.5" cy="215.2" r="1.3" fill="#39ffbe"/><circle cx="361.9" cy="183.7" r="1.3" fill="#ffb200"/><circle cx="394.3" cy="160.2" r="1.3" fill="#00c4ff"/><circle cx="400.5" cy="159.3" r="1.3" fill="#00c4ff"/><circle cx="396.4" cy="162.5" r="1.3" fill="#00d0ff"/><circle cx="390.3" cy="161.6" r="1.3" fill="#00d0ff"/><circle cx="379.1" cy="161.8" r="1.3" fill="#00d0ff"/><circle cx="380.9" cy="161.6" r="1.3" fill="#00d0ff"/><circle cx="382.7" cy="162.5" r="1.3" fill="#00d0ff"/><circle cx="384.8" cy="162.0" r="1.3" fill="#00d0ff"/><circle cx="384.8" cy="163.4" r="1.3" fill="#00d0ff"/><circle cx="378.8" cy="163.9" r="1.3" fill="#00e4f8"/><circle cx="390.5" cy="165.4" r="1.3" fill="#00d0ff"/><circle cx="393.2" cy="166.2" r="1.3" fill="#09f0ee"/><circle cx="395.5" cy="164.3" r="1.3" fill="#00d0ff"/><circle cx="380.9" cy="166.2" r="1.3" fill="#29ffce"/><circle cx="382.3" cy="167.1" r="1.3" fill="#00d0ff"/><circle cx="384.5" cy="165.7" r="1.3" fill="#00b0ff"/><circle cx="385.4" cy="167.5" r="1.3" fill="#00b0ff"/><circle cx="386.4" cy="168.9" r="1.3" fill="#29ffce"/><circle cx="389.1" cy="168.9" r="1.3" fill="#39ffbe"/><circle cx="391.8" cy="168.4" r="1.3" fill="#29ffce"/><circle cx="378.6" cy="168.4" r="1.3" fill="#7dff7a"/><circle cx="376.3" cy="169.8" r="1.3" fill="#a4ff53"/><circle cx="372.7" cy="169.8" r="1.3" fill="#7dff7a"/><circle cx="374.5" cy="171.5" r="1.3" fill="#ffc400"/><circle cx="379.1" cy="171.6" r="1.3" fill="#deff19"/><circle cx="384.1" cy="171.6" r="1.3" fill="#deff19"/><circle cx="383.8" cy="173.6" r="1.3" fill="#ff9400"/><circle cx="391.8" cy="170.9" r="1.3" fill="#39ffbe"/><circle cx="372.3" cy="174.6" r="1.3" fill="#ffc400"/><circle cx="367.2" cy="176.5" r="1.3" fill="#ffb200"/><circle cx="398.7" cy="171.2" r="1.3" fill="#53ffa4"/><circle cx="398.2" cy="172.6" r="1.3" fill="#7dff7a"/><circle cx="397.3" cy="174.8" r="1.3" fill="#8dff6a"/><circle cx="400.1" cy="173.5" r="1.3" fill="#beff39"/><circle cx="394.7" cy="177.4" r="1.3" fill="#ffb200"/><circle cx="380.9" cy="180.3" r="1.3" fill="#ff6800"/><circle cx="366.9" cy="185.2" r="1.3" fill="#ffc400"/><circle cx="373.8" cy="186.0" r="1.3" fill="#ffb200"/><circle cx="376.3" cy="184.6" r="1.3" fill="#ff9400"/><circle cx="379.2" cy="186.0" r="1.3" fill="#ffb200"/><circle cx="383.2" cy="185.8" r="1.3" fill="#ffb200"/><circle cx="384.9" cy="186.3" r="1.3" fill="#ffb200"/><circle cx="376.5" cy="186.7" r="1.3" fill="#ffc400"/><circle cx="378.8" cy="188.4" r="1.3" fill="#deff19"/><circle cx="380.3" cy="189.2" r="1.3" fill="#deff19"/><circle cx="374.0" cy="190.3" r="1.3" fill="#beff39"/><circle cx="377.2" cy="190.6" r="1.3" fill="#ceff29"/><circle cx="383.7" cy="190.9" r="1.3" fill="#8dff6a"/><circle cx="384.4" cy="194.7" r="1.3" fill="#39ffbe"/><circle cx="395.7" cy="196.6" r="1.3" fill="#00c4ff"/><circle cx="386.9" cy="202.2" r="1.3" fill="#0080ff"/><circle cx="392.3" cy="201.2" r="1.3" fill="#0080ff"/><circle cx="396.7" cy="200.9" r="1.3" fill="#0094ff"/><circle cx="401.4" cy="180.3" r="1.3" fill="#8dff6a"/><circle cx="385.2" cy="204.0" r="1.3" fill="#0094ff"/><circle cx="391.8" cy="204.0" r="1.3" fill="#0094ff"/><circle cx="386.9" cy="206.3" r="1.3" fill="#0094ff"/><circle cx="392.0" cy="207.1" r="1.3" fill="#0094ff"/><circle cx="389.2" cy="208.0" r="1.3" fill="#0094ff"/><circle cx="387.7" cy="209.2" r="1.3" fill="#0094ff"/><circle cx="386.3" cy="209.2" r="1.3" fill="#0094ff"/><circle cx="394.9" cy="210.6" r="1.3" fill="#00c4ff"/><circle cx="397.5" cy="210.9" r="1.3" fill="#39ffbe"/><circle cx="419.8" cy="170.2" r="1.3" fill="#deff19"/><circle cx="406.4" cy="176.0" r="1.3" fill="#deff19"/><circle cx="406.4" cy="178.9" r="1.3" fill="#ffd700"/><circle cx="412.1" cy="178.0" r="1.3" fill="#ceff29"/><circle cx="411.0" cy="178.7" r="1.3" fill="#deff19"/><circle cx="410.7" cy="180.3" r="1.3" fill="#deff19"/><circle cx="418.9" cy="178.7" r="1.3" fill="#a4ff53"/><circle cx="423.4" cy="174.3" r="1.3" fill="#7dff7a"/><circle cx="424.3" cy="176.6" r="1.3" fill="#8dff6a"/><circle cx="425.7" cy="176.2" r="1.3" fill="#a4ff53"/><circle cx="427.3" cy="177.4" r="1.3" fill="#6aff8d"/><circle cx="429.8" cy="176.7" r="1.3" fill="#29ffce"/><circle cx="426.7" cy="178.0" r="1.3" fill="#53ffa4"/><circle cx="423.1" cy="182.6" r="1.3" fill="#39ffbe"/><circle cx="425.0" cy="187.1" r="1.3" fill="#19ffde"/><circle cx="433.2" cy="179.6" r="1.3" fill="#00e4f8"/><circle cx="435.7" cy="177.0" r="1.3" fill="#00d0ff"/><circle cx="437.0" cy="180.0" r="1.3" fill="#00d0ff"/><circle cx="439.0" cy="181.6" r="1.3" fill="#00e4f8"/><circle cx="438.5" cy="182.8" r="1.3" fill="#00e4f8"/><circle cx="441.2" cy="180.7" r="1.3" fill="#00d0ff"/><circle cx="442.9" cy="181.1" r="1.3" fill="#00d0ff"/><circle cx="444.3" cy="181.4" r="1.3" fill="#19ffde"/><circle cx="440.2" cy="183.5" r="1.3" fill="#00d0ff"/><circle cx="441.2" cy="185.5" r="1.3" fill="#00d0ff"/><circle cx="442.5" cy="185.0" r="1.3" fill="#00d0ff"/><circle cx="442.9" cy="188.5" r="1.3" fill="#29ffce"/><circle cx="439.2" cy="189.6" r="1.3" fill="#00e4f8"/><circle cx="447.9" cy="180.0" r="1.3" fill="#00d0ff"/><circle cx="449.8" cy="181.5" r="1.3" fill="#00d0ff"/><circle cx="451.8" cy="180.0" r="1.3" fill="#00e4f8"/><circle cx="452.5" cy="178.4" r="1.3" fill="#39ffbe"/><circle cx="451.6" cy="174.5" r="1.3" fill="#39ffbe"/><circle cx="452.2" cy="185.1" r="1.3" fill="#29ffce"/><circle cx="439.2" cy="191.2" r="1.3" fill="#00e4f8"/><circle cx="441.8" cy="193.8" r="1.3" fill="#09f0ee"/><circle cx="443.2" cy="198.6" r="1.3" fill="#19ffde"/><circle cx="448.3" cy="195.8" r="1.3" fill="#00d0ff"/><circle cx="458.2" cy="202.0" r="1.3" fill="#09f0ee"/><circle cx="459.9" cy="202.4" r="1.3" fill="#19ffde"/><circle cx="456.8" cy="205.0" r="1.3" fill="#00e4f8"/><circle cx="441.7" cy="171.8" r="1.3" fill="#a4ff53"/><circle cx="445.2" cy="170.2" r="1.3" fill="#7dff7a"/><circle cx="449.8" cy="169.0" r="1.3" fill="#53ffa4"/><circle cx="457.4" cy="155.4" r="1.3" fill="#0080ff"/><circle cx="429.5" cy="159.0" r="1.3" fill="#0080ff"/><circle cx="459.2" cy="166.7" r="1.3" fill="#19ffde"/><circle cx="465.1" cy="167.2" r="1.3" fill="#39ffbe"/><circle cx="454.2" cy="170.3" r="1.3" fill="#39ffbe"/><circle cx="455.9" cy="171.0" r="1.3" fill="#39ffbe"/><circle cx="455.1" cy="173.8" r="1.3" fill="#39ffbe"/><circle cx="457.3" cy="172.1" r="1.3" fill="#29ffce"/><circle cx="458.6" cy="173.6" r="1.3" fill="#39ffbe"/><circle cx="461.2" cy="172.9" r="1.3" fill="#39ffbe"/><circle cx="462.7" cy="171.1" r="1.3" fill="#29ffce"/><circle cx="464.1" cy="170.7" r="1.3" fill="#39ffbe"/><circle cx="464.5" cy="172.1" r="1.3" fill="#39ffbe"/><circle cx="422.8" cy="190.1" r="1.3" fill="#0ff8e7"/></g><rect x="266.2" y="143.7" width="222.3" height="88.8" fill="none" stroke="#c8c8c8" stroke-width="0.6"/><text x="345.7" y="139.6" font-weight="bold" font-size="7.3" textLength="63.4" lengthAdjust="spacingAndGlyphs">(d) Effective Radius</text><text x="264.0" y="158.0" text-anchor="end" class="tk">60°N</text><text x="264.0" y="170.7" text-anchor="end" class="tk">40°N</text><text x="264.0" y="183.4" text-anchor="end" class="tk">20°N</text><text x="264.0" y="196.0" text-anchor="end" class="tk">0°</text><text x="264.0" y="208.7" text-anchor="end" class="tk">20°S</text><text x="264.0" y="221.4" text-anchor="end" class="tk">40°S</text><text x="266.2" y="239.0" text-anchor="middle" class="tk">180°</text><text x="303.2" y="239.0" text-anchor="middle" class="tk">120°W</text><text x="340.3" y="239.0" text-anchor="middle" class="tk">60°W</text><text x="377.4" y="239.0" text-anchor="middle" class="tk">0°W</text><text x="414.4" y="239.0" text-anchor="middle" class="tk">60°E</text><text x="451.5" y="239.0" text-anchor="middle" class="tk">120°E</text><text x="488.5" y="239.0" text-anchor="middle" class="tk">180°</text><rect x="288.2" y="244.3" width="178.4" height="4.5" fill="url(#g_jet)"/><text x="288.2" y="256.7" text-anchor="middle" class="tk">0.0</text><text x="323.9" y="256.7" text-anchor="middle" class="tk">0.2</text><text x="359.6" y="256.7" text-anchor="middle" class="tk">0.4</text><text x="395.2" y="256.7" text-anchor="middle" class="tk">0.6</text><text x="430.9" y="256.7" text-anchor="middle" class="tk">0.8</text><text x="466.6" y="256.7" text-anchor="middle" class="tk">1.0 µm</text></svg>
</body></html>
